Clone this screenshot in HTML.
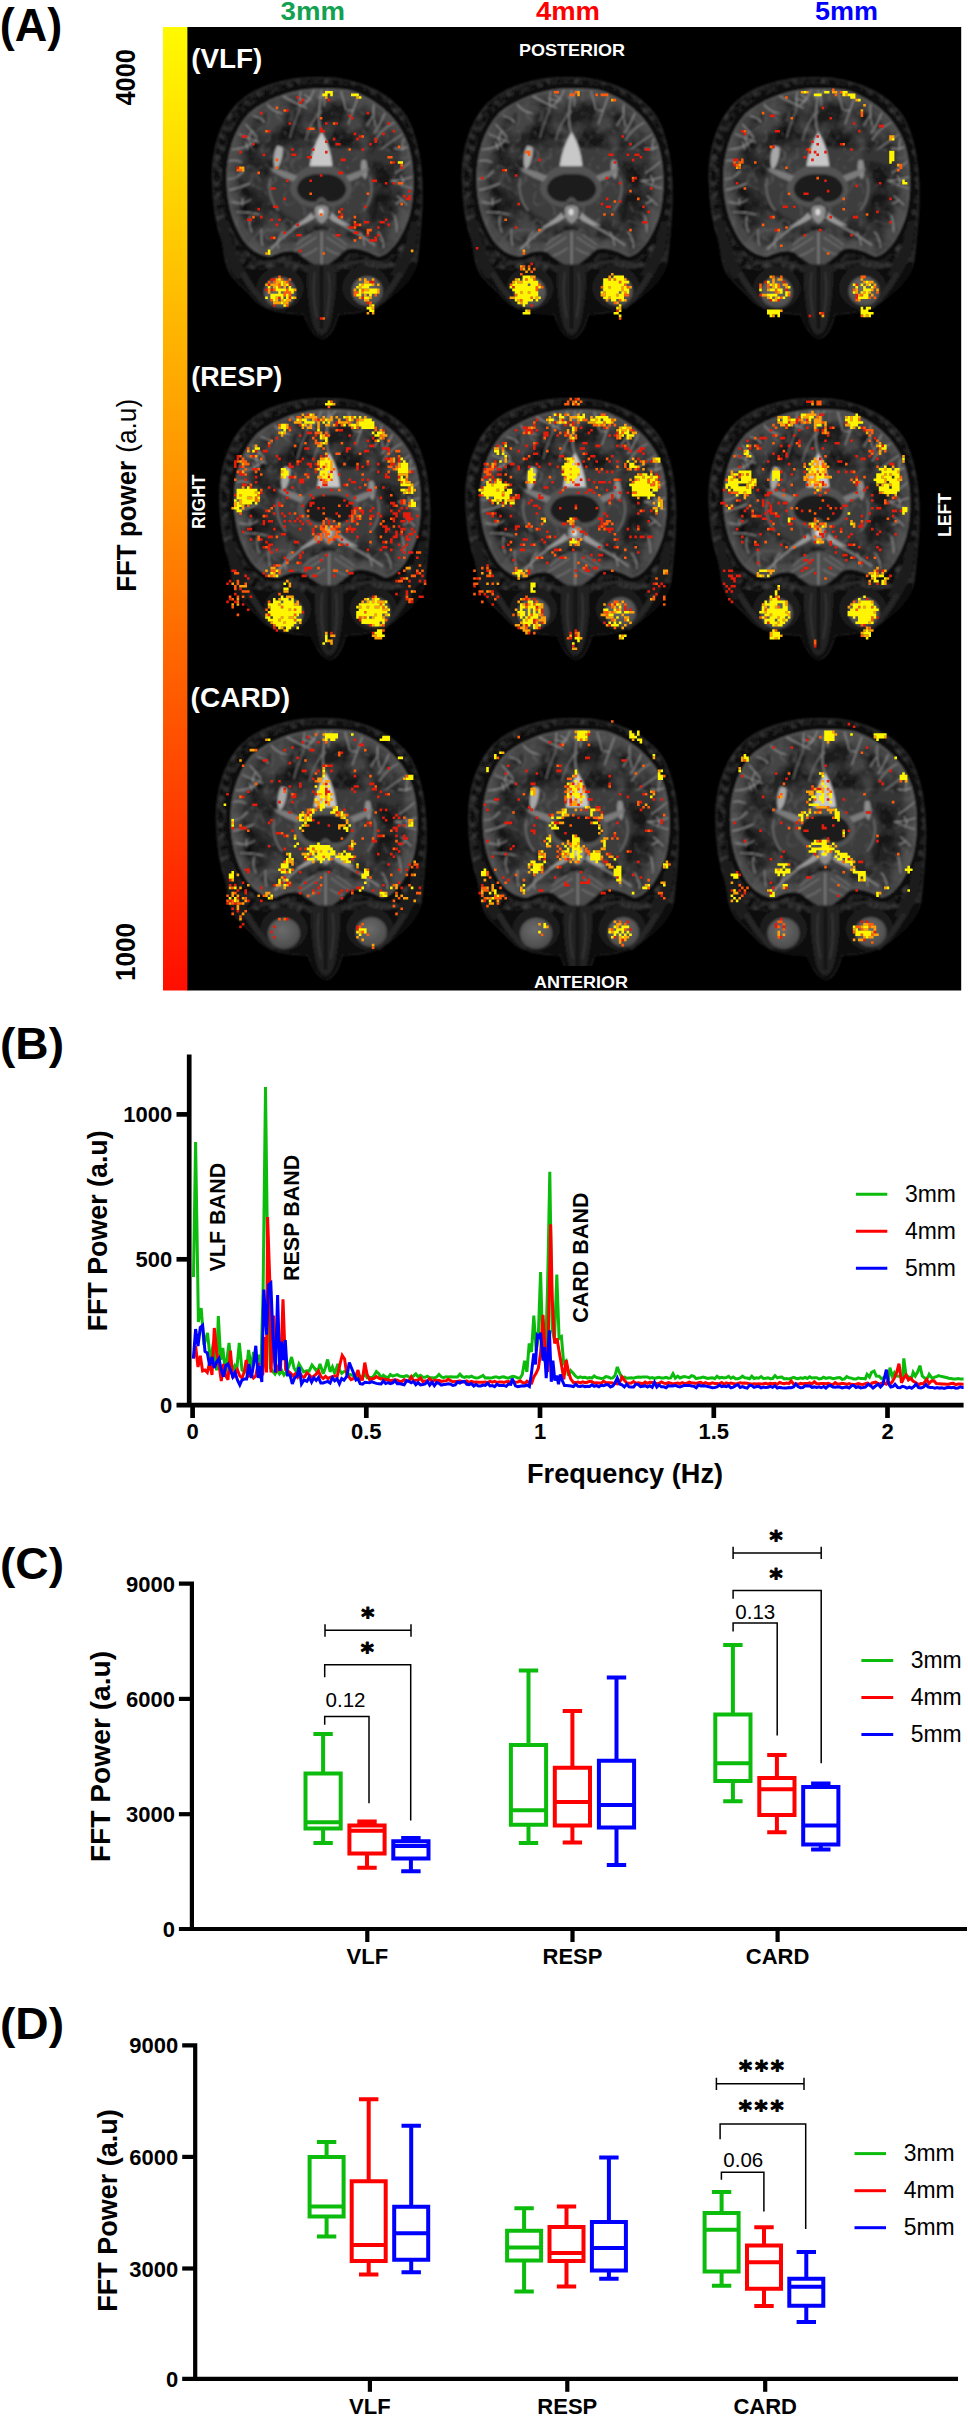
<!DOCTYPE html>
<html lang="en"><head><meta charset="utf-8"><title>Figure</title>
<style>
html,body{margin:0;padding:0;background:#fff}
svg{display:block}
text{font-family:"Liberation Sans",sans-serif}
</style></head><body>
<svg width="968" height="2416" viewBox="0 0 968 2416">
<defs><linearGradient id="cb" x1="0" y1="0" x2="0" y2="1"><stop offset="0" stop-color="#fffa00"/><stop offset="0.5" stop-color="#ff8c00"/><stop offset="1" stop-color="#ff0e00"/></linearGradient></defs>
<rect x="163" y="27" width="25" height="963.5" fill="url(#cb)"/>
<rect x="187.4" y="27" width="773.8" height="963.5" fill="#000"/>
<text x="280.6" y="20" font-size="25.5" font-weight="bold" fill="#12a150" textLength="64.3" lengthAdjust="spacingAndGlyphs">3mm</text>
<text x="536" y="20" font-size="25.5" font-weight="bold" fill="#ff0000" textLength="64" lengthAdjust="spacingAndGlyphs">4mm</text>
<text x="815" y="20" font-size="25.5" font-weight="bold" fill="#0000ff" textLength="63" lengthAdjust="spacingAndGlyphs">5mm</text>
<text x="-0.3" y="40.7" font-size="45.5" font-weight="bold" fill="#000" textLength="62.5" lengthAdjust="spacingAndGlyphs">(A)</text>
<text x="135.5" y="105.6" font-size="26.8" font-weight="bold" fill="#000" textLength="56.5" lengthAdjust="spacingAndGlyphs" transform="rotate(-90 135.5 105.6)">4000</text>
<text x="135.3" y="981" font-size="26.8" font-weight="bold" fill="#000" textLength="58" lengthAdjust="spacingAndGlyphs" transform="rotate(-90 135.3 981)">1000</text>
<text x="135.9" y="591.8" font-size="26.8" transform="rotate(-90 135.9 591.8)"><tspan font-weight="bold" textLength="131" lengthAdjust="spacingAndGlyphs">FFT power</tspan> <tspan dx="0.5" textLength="54" lengthAdjust="spacingAndGlyphs">(a.u)</tspan></text>
<defs>
<filter id="bl" x="-5%" y="-5%" width="110%" height="110%"><feGaussianBlur stdDeviation="3.2"/></filter>
<filter id="bl2" x="-20%" y="-20%" width="140%" height="140%"><feGaussianBlur stdDeviation="7"/></filter>
<filter id="tx" x="0" y="0" width="100%" height="100%" color-interpolation-filters="sRGB"><feTurbulence type="turbulence" baseFrequency="0.017 0.015" numOctaves="2" seed="7" result="n"/><feColorMatrix in="n" type="matrix" values="0 0 0 0 0.62  0 0 0 0 0.62  0 0 0 0 0.62  -9 0 0 0 1.0" result="m"/><feComposite in="m" in2="SourceGraphic" operator="in"/></filter>
<filter id="tx2" x="0" y="0" width="100%" height="100%" color-interpolation-filters="sRGB"><feTurbulence type="fractalNoise" baseFrequency="0.012" numOctaves="3" seed="3" result="n"/><feColorMatrix in="n" type="matrix" values="0 0 0 0 0  0 0 0 0 0  0 0 0 0 0  1.7 0 0 0 -0.62" result="m"/><feComposite in="m" in2="SourceGraphic" operator="in"/></filter>
<filter id="gr" x="0" y="0" width="100%" height="100%" color-interpolation-filters="sRGB"><feTurbulence type="fractalNoise" baseFrequency="0.045" numOctaves="2" seed="11" result="n"/><feColorMatrix in="n" type="matrix" values="0 0 0 0 0.26  0 0 0 0 0.26  0 0 0 0 0.26  2.2 0 0 0 -0.85" result="m"/><feComposite in="m" in2="SourceGraphic" operator="in"/></filter>
<clipPath id="bc"><path d="M490 108C400 105 290 140 220 200C165 260 138 350 138 440C138 520 155 600 200 670C230 710 265 728 300 730C330 715 370 700 400 715C430 740 465 765 490 770C515 765 545 735 580 705C620 690 670 715 700 730C745 725 790 660 815 580C835 500 835 400 812 320C780 220 700 150 600 115C560 108 520 108 490 108Z"/></clipPath>
<radialGradient id="eyeg" cx="0.45" cy="0.4" r="0.6"><stop offset="0" stop-color="#6c6c6c"/><stop offset="1" stop-color="#4c4c4c"/></radialGradient>
<g id="brain">
<g filter="url(#bl)">
<path d="M490 66C380 62 250 90 175 165C110 235 82 340 84 440C85 540 100 620 122 680C128 720 130 760 150 795C175 830 205 850 235 885C270 925 340 945 425 945C440 990 465 1035 492 1035C520 1035 540 990 552 945C640 945 700 925 740 885C790 850 830 810 845 750C850 700 858 640 862 560C868 440 860 330 815 230C770 140 640 66 490 66Z" fill="#111" stroke="#2a2a2a" stroke-width="5"/>
<path d="M490 66C380 62 250 90 175 165C110 235 82 340 84 440C85 540 100 620 122 680C128 720 130 760 150 795C175 830 205 850 235 885C270 925 340 945 425 945C440 990 465 1035 492 1035C520 1035 540 990 552 945C640 945 700 925 740 885C790 850 830 810 845 750C850 700 858 640 862 560C868 440 860 330 815 230C770 140 640 66 490 66Z" fill="#fff" filter="url(#gr)"/>
<path d="M150 760C250 800 740 800 845 750C830 810 790 850 740 885C700 925 640 945 552 945C540 990 520 1035 492 1035C465 1035 440 990 425 945C340 945 270 925 235 885C205 850 175 830 150 795Z" fill="#0d0d0d"/>
<path d="M490 108C400 105 290 140 220 200C165 260 138 350 138 440C138 520 155 600 200 670C230 710 265 728 300 730C330 715 370 700 400 715C430 740 465 765 490 770C515 765 545 735 580 705C620 690 670 715 700 730C745 725 790 660 815 580C835 500 835 400 812 320C780 220 700 150 600 115C560 108 520 108 490 108Z" fill="#080808" stroke="#080808" stroke-width="40" stroke-linejoin="round"/>
<path d="M108 600C112 680 130 760 175 815L215 800C175 740 150 680 140 600Z" fill="#1c1c1c"/>
<path d="M850 600C846 680 828 760 785 815L745 800C785 740 812 680 822 600Z" fill="#1c1c1c"/>
<path d="M490 108C400 105 290 140 220 200C165 260 138 350 138 440C138 520 155 600 200 670C230 710 265 728 300 730C330 715 370 700 400 715C430 740 465 765 490 770C515 765 545 735 580 705C620 690 670 715 700 730C745 725 790 660 815 580C835 500 835 400 812 320C780 220 700 150 600 115C560 108 520 108 490 108Z" fill="#454545"/>
<g clip-path="url(#bc)">
<ellipse cx="265" cy="450" rx="75" ry="170" fill="#363636" filter="url(#bl2)"/>
<ellipse cx="715" cy="450" rx="75" ry="170" fill="#363636" filter="url(#bl2)"/>
<path d="M490 108C400 105 290 140 220 200C165 260 138 350 138 440C138 520 155 600 200 670C230 710 265 728 300 730C330 715 370 700 400 715C430 740 465 765 490 770C515 765 545 735 580 705C620 690 670 715 700 730C745 725 790 660 815 580C835 500 835 400 812 320C780 220 700 150 600 115C560 108 520 108 490 108Z" fill="#000" filter="url(#tx2)"/>
<path d="M490 108C400 105 290 140 220 200C165 260 138 350 138 440C138 520 155 600 200 670C230 710 265 728 300 730C330 715 370 700 400 715C430 740 465 765 490 770C515 765 545 735 580 705C620 690 670 715 700 730C745 725 790 660 815 580C835 500 835 400 812 320C780 220 700 150 600 115C560 108 520 108 490 108Z" fill="#fff" filter="url(#tx)" opacity="0.32"/>
<path d="M490 108C400 105 290 140 220 200C165 260 138 350 138 440C138 520 155 600 200 670C230 710 265 728 300 730C330 715 370 700 400 715C430 740 465 765 490 770C515 765 545 735 580 705C620 690 670 715 700 730C745 725 790 660 815 580C835 500 835 400 812 320C780 220 700 150 600 115C560 108 520 108 490 108Z" fill="none" stroke="#5c5c5c" stroke-width="70" opacity="0.55" filter="url(#bl2)"/>
<path d="M172 566Q217 565 257 575M157 529Q195 540 226 520M195 540l-0 -23M145 484Q183 478 223 459M140 443Q175 446 198 412M145 377Q169 367 193 381M156 333Q215 332 249 293M215 332l-7 -27M182 276Q218 292 256 305M218 292l10 30M207 239Q229 263 248 287M229 263l-12 32M235 208Q264 214 278 232M288 166Q311 194 343 198M346 135Q390 160 434 179M412 115Q406 144 410 177M406 144l37 10M463 109Q450 147 421 169M450 147l-25 -19M518 109Q498 130 477 141M498 130l2 40M562 116Q572 148 580 183M626 136Q607 188 590 237M607 188l-23 -2M684 167Q680 210 691 247M680 210l-21 34M725 199Q710 238 687 271M758 234Q719 253 691 297M789 278Q749 303 714 331M810 323Q790 336 761 328M790 336l4 -44M825 375Q797 401 764 421M830 434Q792 449 748 450M792 449l-7 -19M826 478Q788 470 757 452M788 470l8 -23M809 540Q791 522 771 506M791 522l-23 12M230 640q-15 -30 -5 -60M270 690q-7 -30 -4 -60M330 700q-12 -30 17 -60M650 690q-4 -30 -23 -60M720 700q3 -30 -20 -60M770 640q1 -30 -8 -60" fill="none" stroke="#989898" stroke-width="3.8" stroke-linecap="round"/>
<path d="M490 108C400 105 290 140 220 200C165 260 138 350 138 440C138 520 155 600 200 670C230 710 265 728 300 730C330 715 370 700 400 715C430 740 465 765 490 770C515 765 545 735 580 705C620 690 670 715 700 730C745 725 790 660 815 580C835 500 835 400 812 320C780 220 700 150 600 115C560 108 520 108 490 108Z" fill="none" stroke="#6a6a6a" stroke-width="7"/>
<path d="M490 112C485 170 470 220 490 275" stroke="#8c8c8c" stroke-width="5" fill="none"/>
<path d="M490 190C460 215 440 260 430 300M410 180C395 215 380 250 372 290" stroke="#7a7a7a" stroke-width="4" fill="none"/>
<ellipse cx="490" cy="470" rx="200" ry="150" fill="#3e3e3e" filter="url(#bl2)"/>
<ellipse cx="490" cy="470" rx="210" ry="160" fill="#fff" filter="url(#tx)" opacity="0.3"/>
<path d="M490 268C470 300 452 345 446 395C462 412 520 412 530 395C526 345 510 300 490 268Z" fill="#c8c8c8"/>
<path d="M325 318C312 340 306 380 318 408C335 400 348 360 345 325Z" fill="#a8a8a8"/>
<path d="M640 372C632 395 636 430 652 445C664 425 662 390 654 372Z" fill="#8e8e8e"/>
<path d="M446 395C400 410 375 440 372 480C378 520 420 545 460 548C480 520 500 520 520 548C560 545 600 520 604 480C600 440 575 410 530 395Z" fill="#525252"/>
<path d="M372 440C340 430 318 420 305 410M604 440C630 425 648 415 660 405" stroke="#6a6a6a" stroke-width="8" fill="none"/>
<path d="M490 425C440 420 400 445 398 482C402 515 440 532 470 528C480 505 500 505 510 528C545 532 578 515 582 482C580 445 540 420 490 425Z" fill="#1c1c1c"/>
<path d="M466 548C476 538 504 538 514 548C520 575 510 598 490 610C470 598 460 575 466 548Z" fill="#8c8c8c"/>
<ellipse cx="488" cy="566" rx="9" ry="12" fill="#dcdcdc"/>
<path d="M470 580C420 600 360 640 300 705M510 585C560 610 620 640 690 690" stroke="#8e8e8e" stroke-width="6" fill="none"/>
<path d="M515 590C560 600 600 610 640 640" stroke="#111" stroke-width="6" fill="none"/>
<path d="M452 568C430 592 405 608 380 624C405 622 435 606 464 588ZM528 568C548 590 572 604 600 616C572 620 548 608 518 590Z" fill="#9a9a9a"/>
<path d="M400 432C370 420 335 405 300 402C320 425 350 440 385 452ZM580 432C610 418 640 408 668 402C655 425 625 442 594 452Z" fill="#7c7c7c"/>
<path d="M300 440C290 480 300 530 330 560M670 440C684 480 672 530 645 560" stroke="#6e6e6e" stroke-width="6" fill="none"/>
<path d="M490 630C440 640 380 690 360 715C420 740 465 765 490 770C515 765 545 735 600 712C580 680 540 640 490 630Z" fill="#4e4e4e"/>
<path d="M490 640V760" stroke="#8a8a8a" stroke-width="5"/>
<path d="M470 660C440 680 410 700 385 712M475 700C455 715 430 728 410 732M510 660C540 680 565 700 590 708M505 700C525 715 548 724 570 726M450 650C430 660 410 675 395 690M530 650C550 662 570 676 585 690" stroke="#787878" stroke-width="4" fill="none"/>
</g>
<ellipse cx="335" cy="850" rx="88" ry="80" fill="#1a1a1a"/>
<ellipse cx="655" cy="848" rx="88" ry="80" fill="#1a1a1a"/>
<path d="M440 760C430 820 440 900 452 960C468 1045 512 1045 528 960C540 900 550 820 540 760Z" fill="#222"/>
<path d="M490 770V1000" stroke="#101010" stroke-width="10"/>
<path d="M465 790C455 850 462 910 472 960M515 790C525 850 518 910 508 960" stroke="#3a3a3a" stroke-width="6" fill="none"/>
<path d="M200 800C230 850 250 880 290 915M780 800C750 850 730 880 690 915" stroke="#262626" stroke-width="22" fill="none" stroke-linecap="round"/>
<path d="M250 760C300 745 370 742 430 775M730 760C680 745 610 742 550 775" stroke="#2e2e2e" stroke-width="9" fill="none"/>
<ellipse cx="335" cy="865" rx="60" ry="57" fill="url(#eyeg)"/>
<ellipse cx="660" cy="860" rx="58" ry="55" fill="url(#eyeg)"/>
</g>
</g>
</defs>
<defs><filter id="hb" x="-2%" y="-2%" width="104%" height="104%"><feGaussianBlur stdDeviation="0.6"/></filter></defs>
<clipPath id="pc"><rect x="187.4" y="27" width="773.8" height="963.5"/></clipPath>
<g clip-path="url(#pc)">
<use href="#brain" transform="translate(190.0 60) scale(0.2686)"/>
<g filter="url(#hb)"><path fill="#e41c0a" d="M296.4 96.2h2.6v2.6h-2.6zM301.6 98.8h2.6v2.6h-2.6zM327.6 98.8h2.6v2.6h-2.6zM299 101.4h2.6v2.6h-2.6zM286 109.2h2.6v2.6h-2.6zM260 111.8h2.6v2.6h-2.6zM366.6 111.8h2.6v2.6h-2.6zM348.4 114.4h2.6v2.6h-2.6zM351 117h2.6v2.6h-2.6zM288.6 122.2h2.6v2.6h-2.6zM325 122.2h2.6v2.6h-2.6zM335.4 122.2h2.6v2.6h-2.6zM387.4 122.2h2.6v2.6h-2.6zM306.8 127.4h2.6v2.6h-2.6zM319.8 127.4h2.6v2.6h-2.6zM267.8 130h2.6v2.6h-2.6zM319.8 130h5.2v2.6h-5.2zM392.6 130h2.6v2.6h-2.6zM353.6 132.6h2.6v2.6h-2.6zM382.2 132.6h2.6v2.6h-2.6zM241.8 135.2h5.2v2.6h-5.2zM358.8 135.2h2.6v2.6h-2.6zM332.8 137.8h2.6v2.6h-2.6zM356.2 137.8h2.6v2.6h-2.6zM374.4 137.8h2.6v2.6h-2.6zM325 140.4h2.6v2.6h-2.6zM374.4 140.4h2.6v2.6h-2.6zM252.2 143h2.6v2.6h-2.6zM335.4 143h5.2v2.6h-5.2zM369.2 143h2.6v2.6h-2.6zM291.2 148.2h2.6v2.6h-2.6zM312 148.2h2.6v2.6h-2.6zM361.4 148.2h2.6v2.6h-2.6zM239.2 150.8h2.6v2.6h-2.6zM325 150.8h2.6v2.6h-2.6zM262.6 153.4h2.6v2.6h-2.6zM291.2 153.4h5.2v2.6h-5.2zM306.8 156h5.2v2.6h-5.2zM340.6 158.6h5.2v2.6h-5.2zM392.6 161.2h2.6v2.6h-2.6zM236.6 166.4h2.6v2.6h-2.6zM400.4 166.4h2.6v2.6h-2.6zM338 171.6h5.2v2.6h-5.2zM319.8 174.2h2.6v2.6h-2.6zM286 179.4h2.6v2.6h-2.6zM309.4 179.4h2.6v2.6h-2.6zM371.8 179.4h5.2v2.6h-5.2zM384.8 182h2.6v2.6h-2.6zM392.6 182h2.6v2.6h-2.6zM270.4 187.2h5.2v2.6h-5.2zM408.2 189.8h2.6v2.6h-2.6zM403 195h2.6v2.6h-2.6zM408.2 195h2.6v2.6h-2.6zM283.4 197.6h2.6v2.6h-2.6zM405.6 197.6h5.2v2.6h-5.2zM273 205.4h5.2v2.6h-5.2zM364 205.4h2.6v2.6h-2.6zM257.4 208h2.6v2.6h-2.6zM340.6 208h2.6v2.6h-2.6zM340.6 213.2h2.6v2.6h-2.6zM260 215.8h2.6v2.6h-2.6zM338 215.8h2.6v2.6h-2.6zM247 218.4h5.2v2.6h-5.2zM270.4 218.4h2.6v2.6h-2.6zM278.2 218.4h2.6v2.6h-2.6zM384.8 218.4h2.6v2.6h-2.6zM364 221h5.2v2.6h-5.2zM379.6 221h5.2v2.6h-5.2zM275.6 223.6h2.6v2.6h-2.6zM296.4 223.6h2.6v2.6h-2.6zM353.6 223.6h5.2v2.6h-5.2zM387.4 223.6h2.6v2.6h-2.6zM348.4 226.2h5.2v2.6h-5.2zM377 226.2h2.6v2.6h-2.6zM283.4 231.4h2.6v2.6h-2.6zM353.6 231.4h5.2v2.6h-5.2zM296.4 234h5.2v2.6h-5.2zM335.4 234h5.2v2.6h-5.2zM366.6 234h2.6v2.6h-2.6zM377 234h2.6v2.6h-2.6zM270.4 236.6h2.6v2.6h-2.6zM374.4 236.6h2.6v2.6h-2.6zM369.2 239.2h7.8v2.6h-7.8zM299 249.6h2.6v2.6h-2.6zM270.4 278.2h5.2v2.6h-5.2zM369.2 280.8h5.2v2.6h-5.2zM267.8 283.4h2.6v2.6h-2.6zM288.6 283.4h2.6v2.6h-2.6zM265.2 288.6h2.6v2.6h-2.6zM270.4 288.6h2.6v2.6h-2.6zM278.2 296.4h2.6v2.6h-2.6zM288.6 296.4h2.6v2.6h-2.6zM361.4 296.4h2.6v2.6h-2.6zM366.6 301.6h2.6v2.6h-2.6zM273 304.2h2.6v2.6h-2.6zM319.8 317.2h2.6v2.6h-2.6z"/>
<path fill="#ff5a08" d="M275.6 106.6h2.6v2.6h-2.6zM283.4 109.2h2.6v2.6h-2.6zM319.8 117h2.6v2.6h-2.6zM332.8 122.2h2.6v2.6h-2.6zM309.4 127.4h5.2v2.6h-5.2zM265.2 130h2.6v2.6h-2.6zM361.4 135.2h2.6v2.6h-2.6zM397.8 145.6h2.6v2.6h-2.6zM348.4 148.2h2.6v2.6h-2.6zM387.4 156h5.2v2.6h-5.2zM275.6 158.6h2.6v2.6h-2.6zM390 161.2h2.6v2.6h-2.6zM400.4 163.8h2.6v2.6h-2.6zM275.6 166.4h2.6v2.6h-2.6zM236.6 169h5.2v2.6h-5.2zM257.4 171.6h2.6v2.6h-2.6zM397.8 182h5.2v2.6h-5.2zM309.4 192.4h2.6v2.6h-2.6zM366.6 192.4h2.6v2.6h-2.6zM400.4 202.8h2.6v2.6h-2.6zM338 210.6h2.6v2.6h-2.6zM319.8 213.2h2.6v2.6h-2.6zM252.2 215.8h2.6v2.6h-2.6zM340.6 215.8h2.6v2.6h-2.6zM353.6 215.8h2.6v2.6h-2.6zM353.6 221h2.6v2.6h-2.6zM358.8 223.6h2.6v2.6h-2.6zM353.6 226.2h2.6v2.6h-2.6zM366.6 228.8h5.2v2.6h-5.2zM366.6 231.4h2.6v2.6h-2.6zM273 236.6h2.6v2.6h-2.6zM358.8 236.6h2.6v2.6h-2.6zM353.6 239.2h2.6v2.6h-2.6zM322.4 252.2h2.6v2.6h-2.6zM278.2 275.6h2.6v2.6h-2.6zM280.8 278.2h2.6v2.6h-2.6zM288.6 278.2h2.6v2.6h-2.6zM267.8 280.8h2.6v2.6h-2.6zM273 280.8h2.6v2.6h-2.6zM286 280.8h2.6v2.6h-2.6zM278.2 283.4h2.6v2.6h-2.6zM278.2 286h2.6v2.6h-2.6zM273 288.6h2.6v2.6h-2.6zM286 288.6h2.6v2.6h-2.6zM361.4 288.6h2.6v2.6h-2.6zM283.4 291.2h7.8v2.6h-7.8zM353.6 291.2h5.2v2.6h-5.2zM283.4 293.8h2.6v2.6h-2.6zM288.6 293.8h2.6v2.6h-2.6zM353.6 293.8h2.6v2.6h-2.6zM374.4 293.8h2.6v2.6h-2.6zM270.4 299h2.6v2.6h-2.6zM369.2 301.6h2.6v2.6h-2.6zM286 304.2h2.6v2.6h-2.6zM322.4 317.2h2.6v2.6h-2.6z"/>
<path fill="#ffa008" d="M325 96.2h2.6v2.6h-2.6zM356.2 96.2h2.6v2.6h-2.6zM239.2 166.4h5.2v2.6h-5.2zM241.8 169h2.6v2.6h-2.6zM410.8 249.6h2.6v2.6h-2.6zM265.2 252.2h2.6v2.6h-2.6zM275.6 278.2h2.6v2.6h-2.6zM358.8 278.2h2.6v2.6h-2.6zM364 278.2h2.6v2.6h-2.6zM371.8 278.2h2.6v2.6h-2.6zM275.6 280.8h5.2v2.6h-5.2zM283.4 280.8h2.6v2.6h-2.6zM364 280.8h5.2v2.6h-5.2zM265.2 283.4h2.6v2.6h-2.6zM270.4 283.4h7.8v2.6h-7.8zM283.4 283.4h2.6v2.6h-2.6zM361.4 283.4h2.6v2.6h-2.6zM371.8 283.4h2.6v2.6h-2.6zM377 283.4h2.6v2.6h-2.6zM273 286h2.6v2.6h-2.6zM283.4 286h2.6v2.6h-2.6zM358.8 286h2.6v2.6h-2.6zM267.8 288.6h2.6v2.6h-2.6zM293.8 288.6h2.6v2.6h-2.6zM353.6 288.6h2.6v2.6h-2.6zM364 288.6h5.2v2.6h-5.2zM377 288.6h2.6v2.6h-2.6zM267.8 291.2h2.6v2.6h-2.6zM361.4 291.2h2.6v2.6h-2.6zM377 291.2h2.6v2.6h-2.6zM364 293.8h2.6v2.6h-2.6zM275.6 296.4h2.6v2.6h-2.6zM293.8 296.4h2.6v2.6h-2.6zM358.8 296.4h2.6v2.6h-2.6zM369.2 296.4h2.6v2.6h-2.6zM275.6 299h2.6v2.6h-2.6zM280.8 299h2.6v2.6h-2.6zM286 299h5.2v2.6h-5.2zM364 299h5.2v2.6h-5.2zM273 301.6h7.8v2.6h-7.8zM283.4 301.6h5.2v2.6h-5.2zM369.2 304.2h2.6v2.6h-2.6zM371.8 306.8h2.6v2.6h-2.6zM366.6 312h2.6v2.6h-2.6zM371.8 312h2.6v2.6h-2.6z"/>
<path fill="#fff500" d="M325 91h7.8v2.6h-7.8zM322.4 93.6h5.2v2.6h-5.2zM330.2 93.6h2.6v2.6h-2.6zM351 93.6h7.8v2.6h-7.8zM358.8 96.2h2.6v2.6h-2.6zM397.8 161.2h5.2v2.6h-5.2zM267.8 249.6h2.6v2.6h-2.6zM267.8 252.2h2.6v2.6h-2.6zM278.2 278.2h2.6v2.6h-2.6zM280.8 280.8h2.6v2.6h-2.6zM280.8 283.4h2.6v2.6h-2.6zM286 283.4h2.6v2.6h-2.6zM358.8 283.4h2.6v2.6h-2.6zM364 283.4h7.8v2.6h-7.8zM267.8 286h2.6v2.6h-2.6zM275.6 286h2.6v2.6h-2.6zM288.6 286h2.6v2.6h-2.6zM356.2 286h2.6v2.6h-2.6zM361.4 286h7.8v2.6h-7.8zM275.6 288.6h10.4v2.6h-10.4zM288.6 288.6h5.2v2.6h-5.2zM358.8 288.6h2.6v2.6h-2.6zM369.2 288.6h7.8v2.6h-7.8zM278.2 291.2h2.6v2.6h-2.6zM291.2 291.2h2.6v2.6h-2.6zM358.8 291.2h2.6v2.6h-2.6zM364 291.2h13v2.6h-13zM270.4 293.8h13v2.6h-13zM286 293.8h2.6v2.6h-2.6zM356.2 293.8h5.2v2.6h-5.2zM369.2 293.8h2.6v2.6h-2.6zM265.2 296.4h2.6v2.6h-2.6zM270.4 296.4h5.2v2.6h-5.2zM280.8 296.4h2.6v2.6h-2.6zM286 296.4h2.6v2.6h-2.6zM291.2 296.4h2.6v2.6h-2.6zM364 296.4h5.2v2.6h-5.2zM273 299h2.6v2.6h-2.6zM283.4 299h2.6v2.6h-2.6zM280.8 301.6h2.6v2.6h-2.6zM283.4 304.2h2.6v2.6h-2.6zM371.8 304.2h2.6v2.6h-2.6zM366.6 306.8h5.2v2.6h-5.2zM369.2 309.4h5.2v2.6h-5.2z"/></g>
<use href="#brain" transform="translate(440.0 60) scale(0.2686)"/>
<g filter="url(#hb)"><path fill="#e41c0a" d="M621.4 135.2h2.6v2.6h-2.6zM629.2 143h2.6v2.6h-2.6zM644.8 148.2h5.2v2.6h-5.2zM608.4 153.4h5.2v2.6h-5.2zM626.6 153.4h2.6v2.6h-2.6zM634.4 153.4h5.2v2.6h-5.2zM639.6 156h2.6v2.6h-2.6zM538.2 158.6h2.6v2.6h-2.6zM631.8 158.6h2.6v2.6h-2.6zM613.6 161.2h2.6v2.6h-2.6zM501.8 169h2.6v2.6h-2.6zM514.8 174.2h2.6v2.6h-2.6zM481 176.8h2.6v2.6h-2.6zM605.8 176.8h2.6v2.6h-2.6zM634.4 176.8h2.6v2.6h-2.6zM631.8 179.4h2.6v2.6h-2.6zM618.8 182h2.6v2.6h-2.6zM650 187.2h2.6v2.6h-2.6zM605.8 197.6h2.6v2.6h-2.6zM618.8 200.2h2.6v2.6h-2.6zM517.4 202.8h2.6v2.6h-2.6zM600.6 202.8h2.6v2.6h-2.6zM605.8 205.4h5.2v2.6h-5.2zM642.2 205.4h2.6v2.6h-2.6zM647.4 210.6h2.6v2.6h-2.6zM642.2 221h5.2v2.6h-5.2zM514.8 226.2h2.6v2.6h-2.6zM475.8 247h2.6v2.6h-2.6zM530.4 262.6h2.6v2.6h-2.6zM512.2 286h2.6v2.6h-2.6zM530.4 304.2h2.6v2.6h-2.6zM616.2 309.4h2.6v2.6h-2.6z"/>
<path fill="#ff5a08" d="M553.8 91h5.2v2.6h-5.2zM574.6 91h2.6v2.6h-2.6zM569.4 93.6h5.2v2.6h-5.2zM595.4 93.6h2.6v2.6h-2.6zM600.6 93.6h7.8v2.6h-7.8zM613.6 98.8h2.6v2.6h-2.6zM525.2 150.8h5.2v2.6h-5.2zM527.8 153.4h2.6v2.6h-2.6zM504.4 169h2.6v2.6h-2.6zM631.8 176.8h2.6v2.6h-2.6zM629.2 189.8h2.6v2.6h-2.6zM637 197.6h2.6v2.6h-2.6zM613.6 200.2h2.6v2.6h-2.6zM603.2 213.2h2.6v2.6h-2.6zM611 213.2h2.6v2.6h-2.6zM504.4 218.4h2.6v2.6h-2.6zM538.2 228.8h2.6v2.6h-2.6zM629.2 228.8h2.6v2.6h-2.6zM522.6 252.2h2.6v2.6h-2.6zM522.6 265.2h2.6v2.6h-2.6zM527.8 265.2h2.6v2.6h-2.6zM520 267.8h2.6v2.6h-2.6zM533 267.8h2.6v2.6h-2.6zM530.4 270.4h2.6v2.6h-2.6zM520 273h2.6v2.6h-2.6zM525.2 278.2h2.6v2.6h-2.6zM533 278.2h2.6v2.6h-2.6zM608.4 278.2h2.6v2.6h-2.6zM613.6 278.2h2.6v2.6h-2.6zM618.8 280.8h2.6v2.6h-2.6zM509.6 283.4h2.6v2.6h-2.6zM538.2 283.4h2.6v2.6h-2.6zM624 283.4h2.6v2.6h-2.6zM535.6 286h2.6v2.6h-2.6zM540.8 286h2.6v2.6h-2.6zM600.6 286h2.6v2.6h-2.6zM626.6 286h2.6v2.6h-2.6zM535.6 288.6h2.6v2.6h-2.6zM514.8 293.8h2.6v2.6h-2.6zM624 293.8h5.2v2.6h-5.2zM530.4 296.4h2.6v2.6h-2.6zM520 299h2.6v2.6h-2.6zM618.8 299h2.6v2.6h-2.6zM613.6 301.6h2.6v2.6h-2.6zM618.8 317.2h2.6v2.6h-2.6z"/>
<path fill="#ffa008" d="M577.2 91h2.6v2.6h-2.6zM577.2 93.6h2.6v2.6h-2.6zM611 98.8h2.6v2.6h-2.6zM522.6 249.6h2.6v2.6h-2.6zM520 265.2h2.6v2.6h-2.6zM522.6 267.8h2.6v2.6h-2.6zM527.8 267.8h2.6v2.6h-2.6zM525.2 270.4h2.6v2.6h-2.6zM611 273h2.6v2.6h-2.6zM530.4 275.6h5.2v2.6h-5.2zM608.4 275.6h2.6v2.6h-2.6zM514.8 278.2h2.6v2.6h-2.6zM624 278.2h2.6v2.6h-2.6zM512.2 280.8h2.6v2.6h-2.6zM517.4 280.8h5.2v2.6h-5.2zM608.4 286h2.6v2.6h-2.6zM621.4 286h2.6v2.6h-2.6zM629.2 286h2.6v2.6h-2.6zM621.4 288.6h2.6v2.6h-2.6zM520 291.2h2.6v2.6h-2.6zM527.8 291.2h2.6v2.6h-2.6zM603.2 291.2h2.6v2.6h-2.6zM624 291.2h2.6v2.6h-2.6zM600.6 293.8h5.2v2.6h-5.2zM616.2 293.8h2.6v2.6h-2.6zM509.6 296.4h5.2v2.6h-5.2zM535.6 296.4h2.6v2.6h-2.6zM608.4 296.4h2.6v2.6h-2.6zM517.4 299h2.6v2.6h-2.6zM605.8 299h2.6v2.6h-2.6zM624 299h2.6v2.6h-2.6zM520 301.6h2.6v2.6h-2.6zM616.2 301.6h2.6v2.6h-2.6zM618.8 306.8h2.6v2.6h-2.6zM527.8 309.4h2.6v2.6h-2.6z"/>
<path fill="#fff500" d="M522.6 275.6h7.8v2.6h-7.8zM613.6 275.6h10.4v2.6h-10.4zM517.4 278.2h2.6v2.6h-2.6zM522.6 278.2h2.6v2.6h-2.6zM527.8 278.2h5.2v2.6h-5.2zM603.2 278.2h5.2v2.6h-5.2zM611 278.2h2.6v2.6h-2.6zM616.2 278.2h7.8v2.6h-7.8zM514.8 280.8h2.6v2.6h-2.6zM522.6 280.8h15.6v2.6h-15.6zM603.2 280.8h15.6v2.6h-15.6zM621.4 280.8h7.8v2.6h-7.8zM512.2 283.4h15.6v2.6h-15.6zM530.4 283.4h7.8v2.6h-7.8zM603.2 283.4h20.8v2.6h-20.8zM509.6 286h2.6v2.6h-2.6zM514.8 286h20.8v2.6h-20.8zM538.2 286h2.6v2.6h-2.6zM603.2 286h5.2v2.6h-5.2zM611 286h10.4v2.6h-10.4zM624 286h2.6v2.6h-2.6zM512.2 288.6h23.4v2.6h-23.4zM603.2 288.6h18.2v2.6h-18.2zM624 288.6h5.2v2.6h-5.2zM514.8 291.2h5.2v2.6h-5.2zM522.6 291.2h5.2v2.6h-5.2zM530.4 291.2h7.8v2.6h-7.8zM600.6 291.2h2.6v2.6h-2.6zM605.8 291.2h13v2.6h-13zM621.4 291.2h2.6v2.6h-2.6zM626.6 291.2h2.6v2.6h-2.6zM517.4 293.8h20.8v2.6h-20.8zM605.8 293.8h10.4v2.6h-10.4zM618.8 293.8h5.2v2.6h-5.2zM514.8 296.4h15.6v2.6h-15.6zM533 296.4h2.6v2.6h-2.6zM538.2 296.4h2.6v2.6h-2.6zM603.2 296.4h5.2v2.6h-5.2zM611 296.4h13v2.6h-13zM514.8 299h2.6v2.6h-2.6zM522.6 299h10.4v2.6h-10.4zM535.6 299h2.6v2.6h-2.6zM611 299h5.2v2.6h-5.2zM621.4 299h2.6v2.6h-2.6zM517.4 301.6h2.6v2.6h-2.6zM522.6 301.6h5.2v2.6h-5.2zM522.6 304.2h2.6v2.6h-2.6zM618.8 304.2h2.6v2.6h-2.6zM616.2 306.8h2.6v2.6h-2.6zM525.2 309.4h2.6v2.6h-2.6zM618.8 309.4h2.6v2.6h-2.6zM522.6 312h7.8v2.6h-7.8zM613.6 312h5.2v2.6h-5.2zM618.8 314.6h2.6v2.6h-2.6z"/></g>
<use href="#brain" transform="translate(686.8 60) scale(0.2686)"/>
<g filter="url(#hb)"><path fill="#e41c0a" d="M821.6 106.6h2.6v2.6h-2.6zM769.6 114.4h5.2v2.6h-5.2zM829.4 117h2.6v2.6h-2.6zM852.8 122.2h2.6v2.6h-2.6zM878.8 124.8h5.2v2.6h-5.2zM741 130h2.6v2.6h-2.6zM774.8 130h5.2v2.6h-5.2zM858 130h2.6v2.6h-2.6zM743.6 132.6h2.6v2.6h-2.6zM816.4 135.2h2.6v2.6h-2.6zM811.2 140.4h2.6v2.6h-2.6zM816.4 143h2.6v2.6h-2.6zM839.8 143h2.6v2.6h-2.6zM772.2 145.6h2.6v2.6h-2.6zM806 148.2h2.6v2.6h-2.6zM850.2 148.2h2.6v2.6h-2.6zM808.6 150.8h2.6v2.6h-2.6zM813.8 150.8h2.6v2.6h-2.6zM824.2 150.8h2.6v2.6h-2.6zM816.4 153.4h2.6v2.6h-2.6zM803.4 156h2.6v2.6h-2.6zM733.2 158.6h5.2v2.6h-5.2zM811.2 158.6h2.6v2.6h-2.6zM733.2 163.8h2.6v2.6h-2.6zM824.2 179.4h2.6v2.6h-2.6zM735.8 182h2.6v2.6h-2.6zM878.8 182h2.6v2.6h-2.6zM855.4 184.6h2.6v2.6h-2.6zM826.8 189.8h2.6v2.6h-2.6zM803.4 192.4h5.2v2.6h-5.2zM889.2 197.6h2.6v2.6h-2.6zM782.6 205.4h5.2v2.6h-5.2zM793 205.4h2.6v2.6h-2.6zM876.2 210.6h2.6v2.6h-2.6zM769.6 215.8h2.6v2.6h-2.6zM829.4 215.8h2.6v2.6h-2.6zM852.8 215.8h5.2v2.6h-5.2zM889.2 221h2.6v2.6h-2.6zM774.8 228.8h2.6v2.6h-2.6zM819 228.8h2.6v2.6h-2.6zM803.4 234h2.6v2.6h-2.6zM850.2 234h2.6v2.6h-2.6zM764.4 280.8h2.6v2.6h-2.6zM782.6 280.8h2.6v2.6h-2.6zM855.4 283.4h2.6v2.6h-2.6zM785.2 288.6h2.6v2.6h-2.6zM759.2 293.8h2.6v2.6h-2.6zM855.4 293.8h2.6v2.6h-2.6zM855.4 296.4h2.6v2.6h-2.6zM769.6 299h2.6v2.6h-2.6zM777.4 299h2.6v2.6h-2.6zM821.6 312h2.6v2.6h-2.6zM808.6 314.6h2.6v2.6h-2.6z"/>
<path fill="#ff5a08" d="M832 88.4h2.6v2.6h-2.6zM839.8 91h2.6v2.6h-2.6zM834.6 93.6h2.6v2.6h-2.6zM785.2 96.2h2.6v2.6h-2.6zM761.8 111.8h2.6v2.6h-2.6zM860.6 111.8h2.6v2.6h-2.6zM860.6 114.4h2.6v2.6h-2.6zM790.4 117h2.6v2.6h-2.6zM743.6 130h2.6v2.6h-2.6zM842.4 143h2.6v2.6h-2.6zM769.6 145.6h2.6v2.6h-2.6zM808.6 148.2h2.6v2.6h-2.6zM741 158.6h2.6v2.6h-2.6zM733.2 161.2h2.6v2.6h-2.6zM738.4 161.2h5.2v2.6h-5.2zM754 161.2h2.6v2.6h-2.6zM735.8 163.8h2.6v2.6h-2.6zM899.6 163.8h2.6v2.6h-2.6zM738.4 166.4h2.6v2.6h-2.6zM785.2 166.4h2.6v2.6h-2.6zM899.6 166.4h2.6v2.6h-2.6zM897 169h2.6v2.6h-2.6zM816.4 176.8h2.6v2.6h-2.6zM743.6 187.2h2.6v2.6h-2.6zM787.8 192.4h2.6v2.6h-2.6zM842.4 197.6h2.6v2.6h-2.6zM842.4 208h2.6v2.6h-2.6zM865.8 213.2h2.6v2.6h-2.6zM772.2 215.8h2.6v2.6h-2.6zM761.8 223.6h2.6v2.6h-2.6zM785.2 226.2h2.6v2.6h-2.6zM777.4 228.8h2.6v2.6h-2.6zM780 244.4h2.6v2.6h-2.6zM826.8 252.2h2.6v2.6h-2.6zM772.2 275.6h2.6v2.6h-2.6zM780 275.6h2.6v2.6h-2.6zM860.6 275.6h5.2v2.6h-5.2zM759.2 283.4h2.6v2.6h-2.6zM767 283.4h2.6v2.6h-2.6zM777.4 283.4h2.6v2.6h-2.6zM759.2 286h2.6v2.6h-2.6zM767 286h2.6v2.6h-2.6zM777.4 286h2.6v2.6h-2.6zM873.6 286h2.6v2.6h-2.6zM774.8 288.6h2.6v2.6h-2.6zM852.8 288.6h2.6v2.6h-2.6zM774.8 291.2h2.6v2.6h-2.6zM876.2 291.2h2.6v2.6h-2.6zM787.8 293.8h2.6v2.6h-2.6zM860.6 293.8h2.6v2.6h-2.6zM780 296.4h2.6v2.6h-2.6zM868.4 296.4h2.6v2.6h-2.6zM873.6 296.4h2.6v2.6h-2.6zM855.4 299h2.6v2.6h-2.6zM819 312h2.6v2.6h-2.6zM860.6 314.6h2.6v2.6h-2.6z"/>
<path fill="#ffa008" d="M800.8 91h2.6v2.6h-2.6zM806 91h2.6v2.6h-2.6zM832 91h5.2v2.6h-5.2zM845 93.6h2.6v2.6h-2.6zM855.4 98.8h2.6v2.6h-2.6zM863.2 104h2.6v2.6h-2.6zM860.6 109.2h2.6v2.6h-2.6zM889.2 135.2h5.2v2.6h-5.2zM889.2 137.8h2.6v2.6h-2.6zM738.4 163.8h2.6v2.6h-2.6zM897 163.8h2.6v2.6h-2.6zM735.8 166.4h2.6v2.6h-2.6zM769.6 275.6h2.6v2.6h-2.6zM772.2 278.2h2.6v2.6h-2.6zM777.4 278.2h5.2v2.6h-5.2zM860.6 278.2h2.6v2.6h-2.6zM772.2 280.8h2.6v2.6h-2.6zM863.2 280.8h2.6v2.6h-2.6zM868.4 280.8h5.2v2.6h-5.2zM772.2 283.4h2.6v2.6h-2.6zM782.6 283.4h5.2v2.6h-5.2zM865.8 283.4h2.6v2.6h-2.6zM873.6 283.4h2.6v2.6h-2.6zM772.2 286h2.6v2.6h-2.6zM785.2 286h2.6v2.6h-2.6zM767 288.6h2.6v2.6h-2.6zM855.4 288.6h2.6v2.6h-2.6zM871 288.6h2.6v2.6h-2.6zM876.2 288.6h2.6v2.6h-2.6zM777.4 291.2h2.6v2.6h-2.6zM787.8 291.2h2.6v2.6h-2.6zM855.4 291.2h2.6v2.6h-2.6zM863.2 291.2h2.6v2.6h-2.6zM868.4 291.2h2.6v2.6h-2.6zM761.8 293.8h5.2v2.6h-5.2zM858 293.8h2.6v2.6h-2.6zM871 293.8h2.6v2.6h-2.6zM767 296.4h2.6v2.6h-2.6zM774.8 296.4h2.6v2.6h-2.6zM774.8 299h2.6v2.6h-2.6zM858 299h2.6v2.6h-2.6zM780 309.4h2.6v2.6h-2.6zM772.2 314.6h2.6v2.6h-2.6zM821.6 314.6h2.6v2.6h-2.6zM865.8 314.6h2.6v2.6h-2.6z"/>
<path fill="#fff500" d="M803.4 91h2.6v2.6h-2.6zM824.2 91h5.2v2.6h-5.2zM842.4 91h5.2v2.6h-5.2zM813.8 93.6h7.8v2.6h-7.8zM842.4 93.6h2.6v2.6h-2.6zM847.6 93.6h7.8v2.6h-7.8zM850.2 96.2h5.2v2.6h-5.2zM858 98.8h2.6v2.6h-2.6zM891.8 137.8h2.6v2.6h-2.6zM889.2 150.8h5.2v2.6h-5.2zM889.2 153.4h5.2v2.6h-5.2zM889.2 156h5.2v2.6h-5.2zM889.2 158.6h5.2v2.6h-5.2zM889.2 161.2h2.6v2.6h-2.6zM902.2 179.4h2.6v2.6h-2.6zM902.2 182h5.2v2.6h-5.2zM767 280.8h2.6v2.6h-2.6zM865.8 280.8h2.6v2.6h-2.6zM769.6 283.4h2.6v2.6h-2.6zM774.8 283.4h2.6v2.6h-2.6zM852.8 283.4h2.6v2.6h-2.6zM860.6 283.4h2.6v2.6h-2.6zM868.4 283.4h2.6v2.6h-2.6zM774.8 286h2.6v2.6h-2.6zM787.8 286h2.6v2.6h-2.6zM855.4 286h2.6v2.6h-2.6zM863.2 286h2.6v2.6h-2.6zM871 286h2.6v2.6h-2.6zM759.2 288.6h2.6v2.6h-2.6zM769.6 288.6h5.2v2.6h-5.2zM777.4 288.6h5.2v2.6h-5.2zM863.2 288.6h7.8v2.6h-7.8zM780 291.2h2.6v2.6h-2.6zM785.2 291.2h2.6v2.6h-2.6zM852.8 291.2h2.6v2.6h-2.6zM860.6 291.2h2.6v2.6h-2.6zM865.8 291.2h2.6v2.6h-2.6zM767 293.8h10.4v2.6h-10.4zM785.2 293.8h2.6v2.6h-2.6zM863.2 293.8h5.2v2.6h-5.2zM769.6 296.4h2.6v2.6h-2.6zM777.4 296.4h2.6v2.6h-2.6zM782.6 296.4h2.6v2.6h-2.6zM858 296.4h10.4v2.6h-10.4zM772.2 299h2.6v2.6h-2.6zM860.6 306.8h2.6v2.6h-2.6zM865.8 306.8h5.2v2.6h-5.2zM767 309.4h13v2.6h-13zM860.6 309.4h7.8v2.6h-7.8zM767 312h13v2.6h-13zM860.6 312h13v2.6h-13zM769.6 314.6h2.6v2.6h-2.6zM777.4 314.6h2.6v2.6h-2.6zM863.2 314.6h2.6v2.6h-2.6zM868.4 314.6h2.6v2.6h-2.6z"/></g>
<use href="#brain" transform="translate(197.5 381) scale(0.2686)"/>
<g filter="url(#hb)"><path fill="#e41c0a" d="M306.8 413.4h2.6v2.6h-2.6zM317.2 418.6h2.6v2.6h-2.6zM335.4 421.2h2.6v2.6h-2.6zM299 423.8h2.6v2.6h-2.6zM335.4 423.8h2.6v2.6h-2.6zM288.6 426.4h2.6v2.6h-2.6zM338 429h5.2v2.6h-5.2zM382.2 429h2.6v2.6h-2.6zM306.8 431.6h5.2v2.6h-5.2zM299 434.2h2.6v2.6h-2.6zM314.6 434.2h2.6v2.6h-2.6zM325 434.2h2.6v2.6h-2.6zM348.4 434.2h2.6v2.6h-2.6zM275.6 436.8h2.6v2.6h-2.6zM371.8 436.8h2.6v2.6h-2.6zM366.6 439.4h2.6v2.6h-2.6zM353.6 442h2.6v2.6h-2.6zM267.8 444.6h2.6v2.6h-2.6zM369.2 444.6h5.2v2.6h-5.2zM304.2 447.2h5.2v2.6h-5.2zM345.8 447.2h5.2v2.6h-5.2zM382.2 447.2h7.8v2.6h-7.8zM254.8 449.8h2.6v2.6h-2.6zM262.6 449.8h5.2v2.6h-5.2zM345.8 449.8h2.6v2.6h-2.6zM364 449.8h5.2v2.6h-5.2zM387.4 449.8h2.6v2.6h-2.6zM236.6 455h2.6v2.6h-2.6zM252.2 455h2.6v2.6h-2.6zM275.6 455h2.6v2.6h-2.6zM319.8 455h2.6v2.6h-2.6zM325 455h2.6v2.6h-2.6zM236.6 457.6h2.6v2.6h-2.6zM278.2 457.6h2.6v2.6h-2.6zM301.6 457.6h2.6v2.6h-2.6zM312 457.6h2.6v2.6h-2.6zM384.8 457.6h5.2v2.6h-5.2zM397.8 457.6h2.6v2.6h-2.6zM234 460.2h2.6v2.6h-2.6zM299 460.2h2.6v2.6h-2.6zM397.8 460.2h2.6v2.6h-2.6zM234 462.8h2.6v2.6h-2.6zM288.6 462.8h2.6v2.6h-2.6zM296.4 462.8h2.6v2.6h-2.6zM306.8 462.8h5.2v2.6h-5.2zM314.6 462.8h2.6v2.6h-2.6zM366.6 462.8h2.6v2.6h-2.6zM377 462.8h2.6v2.6h-2.6zM390 462.8h5.2v2.6h-5.2zM234 465.4h2.6v2.6h-2.6zM239.2 465.4h2.6v2.6h-2.6zM288.6 465.4h5.2v2.6h-5.2zM309.4 465.4h2.6v2.6h-2.6zM317.2 465.4h2.6v2.6h-2.6zM322.4 465.4h2.6v2.6h-2.6zM356.2 465.4h2.6v2.6h-2.6zM361.4 465.4h2.6v2.6h-2.6zM252.2 468h5.2v2.6h-5.2zM356.2 468h2.6v2.6h-2.6zM239.2 470.6h2.6v2.6h-2.6zM314.6 470.6h2.6v2.6h-2.6zM330.2 470.6h2.6v2.6h-2.6zM377 470.6h2.6v2.6h-2.6zM410.8 470.6h2.6v2.6h-2.6zM239.2 473.2h5.2v2.6h-5.2zM306.8 473.2h2.6v2.6h-2.6zM338 473.2h2.6v2.6h-2.6zM384.8 473.2h2.6v2.6h-2.6zM254.8 475.8h2.6v2.6h-2.6zM288.6 475.8h5.2v2.6h-5.2zM327.6 475.8h2.6v2.6h-2.6zM384.8 475.8h5.2v2.6h-5.2zM397.8 475.8h2.6v2.6h-2.6zM244.4 478.4h2.6v2.6h-2.6zM299 478.4h5.2v2.6h-5.2zM319.8 478.4h2.6v2.6h-2.6zM348.4 478.4h2.6v2.6h-2.6zM361.4 478.4h2.6v2.6h-2.6zM366.6 478.4h2.6v2.6h-2.6zM254.8 481h2.6v2.6h-2.6zM299 481h5.2v2.6h-5.2zM351 481h5.2v2.6h-5.2zM241.8 483.6h5.2v2.6h-5.2zM322.4 483.6h5.2v2.6h-5.2zM343.2 483.6h2.6v2.6h-2.6zM249.6 486.2h2.6v2.6h-2.6zM267.8 486.2h2.6v2.6h-2.6zM291.2 486.2h2.6v2.6h-2.6zM317.2 486.2h2.6v2.6h-2.6zM358.8 486.2h2.6v2.6h-2.6zM382.2 486.2h2.6v2.6h-2.6zM273 488.8h2.6v2.6h-2.6zM283.4 488.8h2.6v2.6h-2.6zM330.2 488.8h2.6v2.6h-2.6zM366.6 488.8h5.2v2.6h-5.2zM260 491.4h2.6v2.6h-2.6zM286 491.4h2.6v2.6h-2.6zM234 494h2.6v2.6h-2.6zM309.4 494h2.6v2.6h-2.6zM322.4 494h2.6v2.6h-2.6zM345.8 494h2.6v2.6h-2.6zM286 496.6h2.6v2.6h-2.6zM312 496.6h2.6v2.6h-2.6zM353.6 496.6h2.6v2.6h-2.6zM379.6 496.6h2.6v2.6h-2.6zM343.2 499.2h2.6v2.6h-2.6zM400.4 499.2h2.6v2.6h-2.6zM278.2 501.8h2.6v2.6h-2.6zM309.4 501.8h5.2v2.6h-5.2zM348.4 501.8h5.2v2.6h-5.2zM390 501.8h5.2v2.6h-5.2zM400.4 501.8h2.6v2.6h-2.6zM273 504.4h2.6v2.6h-2.6zM278.2 504.4h2.6v2.6h-2.6zM301.6 504.4h2.6v2.6h-2.6zM309.4 504.4h2.6v2.6h-2.6zM345.8 504.4h2.6v2.6h-2.6zM392.6 504.4h2.6v2.6h-2.6zM317.2 507h2.6v2.6h-2.6zM322.4 507h2.6v2.6h-2.6zM353.6 507h5.2v2.6h-5.2zM371.8 507h2.6v2.6h-2.6zM400.4 507h2.6v2.6h-2.6zM405.6 507h2.6v2.6h-2.6zM265.2 509.6h2.6v2.6h-2.6zM351 509.6h2.6v2.6h-2.6zM358.8 509.6h5.2v2.6h-5.2zM369.2 509.6h2.6v2.6h-2.6zM390 509.6h2.6v2.6h-2.6zM397.8 509.6h2.6v2.6h-2.6zM273 512.2h2.6v2.6h-2.6zM280.8 512.2h2.6v2.6h-2.6zM288.6 512.2h2.6v2.6h-2.6zM335.4 512.2h2.6v2.6h-2.6zM351 512.2h2.6v2.6h-2.6zM361.4 512.2h2.6v2.6h-2.6zM377 512.2h2.6v2.6h-2.6zM392.6 512.2h5.2v2.6h-5.2zM403 512.2h7.8v2.6h-7.8zM249.6 514.8h2.6v2.6h-2.6zM265.2 514.8h2.6v2.6h-2.6zM283.4 514.8h2.6v2.6h-2.6zM299 514.8h2.6v2.6h-2.6zM348.4 514.8h2.6v2.6h-2.6zM369.2 514.8h5.2v2.6h-5.2zM379.6 514.8h2.6v2.6h-2.6zM395.2 514.8h2.6v2.6h-2.6zM403 514.8h7.8v2.6h-7.8zM416 514.8h2.6v2.6h-2.6zM296.4 517.4h2.6v2.6h-2.6zM356.2 517.4h2.6v2.6h-2.6zM392.6 517.4h2.6v2.6h-2.6zM405.6 517.4h7.8v2.6h-7.8zM262.6 520h2.6v2.6h-2.6zM267.8 520h5.2v2.6h-5.2zM283.4 520h2.6v2.6h-2.6zM288.6 520h2.6v2.6h-2.6zM293.8 520h2.6v2.6h-2.6zM299 520h2.6v2.6h-2.6zM306.8 520h2.6v2.6h-2.6zM327.6 520h2.6v2.6h-2.6zM345.8 520h2.6v2.6h-2.6zM353.6 520h2.6v2.6h-2.6zM392.6 520h2.6v2.6h-2.6zM400.4 520h5.2v2.6h-5.2zM408.2 520h2.6v2.6h-2.6zM262.6 522.6h2.6v2.6h-2.6zM301.6 522.6h2.6v2.6h-2.6zM309.4 522.6h2.6v2.6h-2.6zM327.6 522.6h2.6v2.6h-2.6zM369.2 522.6h2.6v2.6h-2.6zM283.4 525.2h2.6v2.6h-2.6zM322.4 525.2h2.6v2.6h-2.6zM332.8 525.2h2.6v2.6h-2.6zM348.4 525.2h2.6v2.6h-2.6zM382.2 525.2h5.2v2.6h-5.2zM397.8 525.2h2.6v2.6h-2.6zM247 527.8h5.2v2.6h-5.2zM273 527.8h2.6v2.6h-2.6zM299 527.8h2.6v2.6h-2.6zM312 527.8h2.6v2.6h-2.6zM335.4 527.8h2.6v2.6h-2.6zM348.4 527.8h7.8v2.6h-7.8zM384.8 527.8h5.2v2.6h-5.2zM400.4 527.8h5.2v2.6h-5.2zM410.8 527.8h2.6v2.6h-2.6zM241.8 530.4h2.6v2.6h-2.6zM312 530.4h2.6v2.6h-2.6zM345.8 530.4h2.6v2.6h-2.6zM351 530.4h2.6v2.6h-2.6zM384.8 530.4h2.6v2.6h-2.6zM395.2 530.4h2.6v2.6h-2.6zM413.4 530.4h2.6v2.6h-2.6zM280.8 533h5.2v2.6h-5.2zM317.2 533h2.6v2.6h-2.6zM395.2 533h2.6v2.6h-2.6zM400.4 533h2.6v2.6h-2.6zM408.2 533h5.2v2.6h-5.2zM267.8 535.6h5.2v2.6h-5.2zM356.2 535.6h2.6v2.6h-2.6zM392.6 535.6h5.2v2.6h-5.2zM405.6 535.6h2.6v2.6h-2.6zM416 535.6h2.6v2.6h-2.6zM249.6 538.2h2.6v2.6h-2.6zM260 538.2h2.6v2.6h-2.6zM332.8 538.2h2.6v2.6h-2.6zM340.6 538.2h2.6v2.6h-2.6zM390 538.2h2.6v2.6h-2.6zM405.6 538.2h5.2v2.6h-5.2zM265.2 540.8h2.6v2.6h-2.6zM293.8 540.8h5.2v2.6h-5.2zM317.2 540.8h2.6v2.6h-2.6zM382.2 540.8h2.6v2.6h-2.6zM390 540.8h2.6v2.6h-2.6zM267.8 543.4h5.2v2.6h-5.2zM340.6 543.4h2.6v2.6h-2.6zM345.8 543.4h2.6v2.6h-2.6zM397.8 543.4h2.6v2.6h-2.6zM405.6 543.4h2.6v2.6h-2.6zM262.6 546h2.6v2.6h-2.6zM267.8 546h2.6v2.6h-2.6zM382.2 546h5.2v2.6h-5.2zM403 546h2.6v2.6h-2.6zM267.8 548.6h2.6v2.6h-2.6zM275.6 548.6h2.6v2.6h-2.6zM366.6 548.6h2.6v2.6h-2.6zM379.6 548.6h2.6v2.6h-2.6zM390 548.6h2.6v2.6h-2.6zM400.4 548.6h2.6v2.6h-2.6zM270.4 551.2h2.6v2.6h-2.6zM301.6 551.2h2.6v2.6h-2.6zM403 551.2h2.6v2.6h-2.6zM408.2 551.2h5.2v2.6h-5.2zM299 553.8h2.6v2.6h-2.6zM325 553.8h2.6v2.6h-2.6zM283.4 556.4h2.6v2.6h-2.6zM299 556.4h2.6v2.6h-2.6zM397.8 556.4h2.6v2.6h-2.6zM416 556.4h2.6v2.6h-2.6zM286 559h2.6v2.6h-2.6zM319.8 559h2.6v2.6h-2.6zM299 561.6h2.6v2.6h-2.6zM273 564.2h2.6v2.6h-2.6zM304.2 566.8h7.8v2.6h-7.8zM231.4 569.4h5.2v2.6h-5.2zM288.6 569.4h5.2v2.6h-5.2zM304.2 569.4h2.6v2.6h-2.6zM262.6 572h2.6v2.6h-2.6zM348.4 572h5.2v2.6h-5.2zM397.8 572h2.6v2.6h-2.6zM416 572h2.6v2.6h-2.6zM244.4 574.6h2.6v2.6h-2.6zM265.2 574.6h2.6v2.6h-2.6zM301.6 574.6h5.2v2.6h-5.2zM312 574.6h5.2v2.6h-5.2zM332.8 574.6h2.6v2.6h-2.6zM421.2 574.6h2.6v2.6h-2.6zM247 577.2h2.6v2.6h-2.6zM400.4 577.2h2.6v2.6h-2.6zM228.8 579.8h2.6v2.6h-2.6zM395.2 579.8h2.6v2.6h-2.6zM408.2 579.8h2.6v2.6h-2.6zM418.6 579.8h2.6v2.6h-2.6zM423.8 579.8h2.6v2.6h-2.6zM226.2 582.4h2.6v2.6h-2.6zM239.2 587.6h2.6v2.6h-2.6zM405.6 590.2h2.6v2.6h-2.6zM234 592.8h2.6v2.6h-2.6zM395.2 592.8h2.6v2.6h-2.6zM405.6 592.8h2.6v2.6h-2.6zM249.6 595.4h2.6v2.6h-2.6zM371.8 595.4h2.6v2.6h-2.6zM418.6 595.4h5.2v2.6h-5.2zM228.8 598h2.6v2.6h-2.6zM405.6 598h2.6v2.6h-2.6zM226.2 600.6h2.6v2.6h-2.6zM234 600.6h2.6v2.6h-2.6zM410.8 600.6h2.6v2.6h-2.6zM241.8 603.2h2.6v2.6h-2.6zM247 608.4h2.6v2.6h-2.6zM301.6 611h2.6v2.6h-2.6zM267.8 613.6h2.6v2.6h-2.6zM358.8 618.8h2.6v2.6h-2.6zM369.2 624h2.6v2.6h-2.6zM273 626.6h2.6v2.6h-2.6zM275.6 629.2h2.6v2.6h-2.6zM330.2 631.8h2.6v2.6h-2.6zM371.8 631.8h2.6v2.6h-2.6z"/>
<path fill="#ff5a08" d="M330.2 400.4h2.6v2.6h-2.6zM327.6 405.6h2.6v2.6h-2.6zM296.4 416h5.2v2.6h-5.2zM351 416h2.6v2.6h-2.6zM288.6 418.6h2.6v2.6h-2.6zM314.6 418.6h2.6v2.6h-2.6zM322.4 418.6h2.6v2.6h-2.6zM345.8 418.6h2.6v2.6h-2.6zM356.2 418.6h2.6v2.6h-2.6zM348.4 421.2h2.6v2.6h-2.6zM278.2 423.8h2.6v2.6h-2.6zM340.6 423.8h2.6v2.6h-2.6zM351 426.4h2.6v2.6h-2.6zM356.2 426.4h2.6v2.6h-2.6zM374.4 426.4h2.6v2.6h-2.6zM288.6 429h2.6v2.6h-2.6zM335.4 429h2.6v2.6h-2.6zM374.4 429h2.6v2.6h-2.6zM314.6 431.6h5.2v2.6h-5.2zM325 431.6h2.6v2.6h-2.6zM327.6 434.2h2.6v2.6h-2.6zM379.6 434.2h2.6v2.6h-2.6zM312 436.8h2.6v2.6h-2.6zM382.2 436.8h2.6v2.6h-2.6zM270.4 439.4h2.6v2.6h-2.6zM314.6 439.4h2.6v2.6h-2.6zM374.4 439.4h2.6v2.6h-2.6zM387.4 439.4h2.6v2.6h-2.6zM267.8 442h2.6v2.6h-2.6zM304.2 442h2.6v2.6h-2.6zM314.6 442h5.2v2.6h-5.2zM340.6 442h2.6v2.6h-2.6zM293.8 444.6h2.6v2.6h-2.6zM247 447.2h2.6v2.6h-2.6zM322.4 447.2h2.6v2.6h-2.6zM395.2 449.8h5.2v2.6h-5.2zM335.4 452.4h5.2v2.6h-5.2zM358.8 452.4h2.6v2.6h-2.6zM387.4 452.4h2.6v2.6h-2.6zM239.2 455h2.6v2.6h-2.6zM249.6 455h2.6v2.6h-2.6zM397.8 455h2.6v2.6h-2.6zM241.8 457.6h2.6v2.6h-2.6zM260 457.6h2.6v2.6h-2.6zM390 457.6h2.6v2.6h-2.6zM236.6 460.2h2.6v2.6h-2.6zM241.8 460.2h5.2v2.6h-5.2zM296.4 460.2h2.6v2.6h-2.6zM366.6 460.2h2.6v2.6h-2.6zM390 460.2h2.6v2.6h-2.6zM244.4 462.8h5.2v2.6h-5.2zM343.2 462.8h2.6v2.6h-2.6zM356.2 462.8h2.6v2.6h-2.6zM241.8 465.4h2.6v2.6h-2.6zM387.4 465.4h5.2v2.6h-5.2zM395.2 465.4h2.6v2.6h-2.6zM244.4 468h2.6v2.6h-2.6zM257.4 468h2.6v2.6h-2.6zM314.6 468h2.6v2.6h-2.6zM332.8 468h2.6v2.6h-2.6zM392.6 468h2.6v2.6h-2.6zM236.6 470.6h2.6v2.6h-2.6zM254.8 470.6h2.6v2.6h-2.6zM387.4 470.6h2.6v2.6h-2.6zM408.2 470.6h2.6v2.6h-2.6zM244.4 473.2h2.6v2.6h-2.6zM260 473.2h2.6v2.6h-2.6zM304.2 473.2h2.6v2.6h-2.6zM361.4 473.2h2.6v2.6h-2.6zM293.8 475.8h2.6v2.6h-2.6zM306.8 475.8h2.6v2.6h-2.6zM234 478.4h2.6v2.6h-2.6zM322.4 478.4h2.6v2.6h-2.6zM330.2 478.4h2.6v2.6h-2.6zM405.6 478.4h2.6v2.6h-2.6zM322.4 481h5.2v2.6h-5.2zM400.4 481h2.6v2.6h-2.6zM249.6 483.6h2.6v2.6h-2.6zM345.8 483.6h2.6v2.6h-2.6zM364 483.6h2.6v2.6h-2.6zM374.4 486.2h2.6v2.6h-2.6zM408.2 486.2h2.6v2.6h-2.6zM260 488.8h2.6v2.6h-2.6zM338 488.8h2.6v2.6h-2.6zM408.2 488.8h2.6v2.6h-2.6zM257.4 494h2.6v2.6h-2.6zM299 494h2.6v2.6h-2.6zM390 494h2.6v2.6h-2.6zM254.8 496.6h2.6v2.6h-2.6zM254.8 499.2h2.6v2.6h-2.6zM403 499.2h2.6v2.6h-2.6zM403 501.8h2.6v2.6h-2.6zM408.2 501.8h2.6v2.6h-2.6zM247 504.4h2.6v2.6h-2.6zM280.8 504.4h2.6v2.6h-2.6zM338 504.4h2.6v2.6h-2.6zM395.2 504.4h2.6v2.6h-2.6zM270.4 507h2.6v2.6h-2.6zM267.8 509.6h2.6v2.6h-2.6zM306.8 509.6h2.6v2.6h-2.6zM353.6 509.6h2.6v2.6h-2.6zM239.2 512.2h2.6v2.6h-2.6zM293.8 512.2h2.6v2.6h-2.6zM322.4 512.2h2.6v2.6h-2.6zM353.6 512.2h2.6v2.6h-2.6zM262.6 514.8h2.6v2.6h-2.6zM301.6 514.8h2.6v2.6h-2.6zM306.8 514.8h2.6v2.6h-2.6zM338 514.8h2.6v2.6h-2.6zM351 514.8h2.6v2.6h-2.6zM356.2 514.8h2.6v2.6h-2.6zM325 517.4h2.6v2.6h-2.6zM351 517.4h2.6v2.6h-2.6zM358.8 517.4h2.6v2.6h-2.6zM369.2 517.4h2.6v2.6h-2.6zM390 517.4h2.6v2.6h-2.6zM322.4 520h2.6v2.6h-2.6zM332.8 520h2.6v2.6h-2.6zM351 520h2.6v2.6h-2.6zM382.2 520h2.6v2.6h-2.6zM322.4 522.6h2.6v2.6h-2.6zM356.2 522.6h2.6v2.6h-2.6zM379.6 522.6h2.6v2.6h-2.6zM314.6 525.2h2.6v2.6h-2.6zM319.8 525.2h2.6v2.6h-2.6zM335.4 525.2h5.2v2.6h-5.2zM392.6 525.2h2.6v2.6h-2.6zM319.8 527.8h5.2v2.6h-5.2zM330.2 527.8h5.2v2.6h-5.2zM345.8 527.8h2.6v2.6h-2.6zM322.4 530.4h5.2v2.6h-5.2zM335.4 530.4h5.2v2.6h-5.2zM369.2 530.4h2.6v2.6h-2.6zM400.4 530.4h2.6v2.6h-2.6zM312 533h2.6v2.6h-2.6zM319.8 533h2.6v2.6h-2.6zM325 533h5.2v2.6h-5.2zM335.4 533h2.6v2.6h-2.6zM257.4 535.6h2.6v2.6h-2.6zM275.6 535.6h2.6v2.6h-2.6zM314.6 535.6h2.6v2.6h-2.6zM319.8 535.6h2.6v2.6h-2.6zM325 535.6h2.6v2.6h-2.6zM332.8 535.6h7.8v2.6h-7.8zM379.6 535.6h2.6v2.6h-2.6zM257.4 538.2h2.6v2.6h-2.6zM314.6 538.2h2.6v2.6h-2.6zM319.8 538.2h2.6v2.6h-2.6zM327.6 538.2h5.2v2.6h-5.2zM327.6 540.8h2.6v2.6h-2.6zM369.2 540.8h2.6v2.6h-2.6zM384.8 540.8h2.6v2.6h-2.6zM338 543.4h2.6v2.6h-2.6zM265.2 546h2.6v2.6h-2.6zM291.2 551.2h2.6v2.6h-2.6zM416 551.2h5.2v2.6h-5.2zM403 556.4h2.6v2.6h-2.6zM286 561.6h2.6v2.6h-2.6zM296.4 561.6h2.6v2.6h-2.6zM275.6 564.2h5.2v2.6h-5.2zM418.6 564.2h2.6v2.6h-2.6zM317.2 566.8h2.6v2.6h-2.6zM270.4 569.4h5.2v2.6h-5.2zM278.2 569.4h2.6v2.6h-2.6zM332.8 569.4h5.2v2.6h-5.2zM345.8 569.4h2.6v2.6h-2.6zM403 569.4h2.6v2.6h-2.6zM416 569.4h2.6v2.6h-2.6zM421.2 569.4h2.6v2.6h-2.6zM234 572h5.2v2.6h-5.2zM278.2 572h2.6v2.6h-2.6zM418.6 572h2.6v2.6h-2.6zM270.4 574.6h2.6v2.6h-2.6zM410.8 574.6h5.2v2.6h-5.2zM403 577.2h2.6v2.6h-2.6zM236.6 579.8h2.6v2.6h-2.6zM397.8 579.8h5.2v2.6h-5.2zM236.6 582.4h2.6v2.6h-2.6zM244.4 582.4h2.6v2.6h-2.6zM423.8 582.4h2.6v2.6h-2.6zM234 585h2.6v2.6h-2.6zM408.2 585h2.6v2.6h-2.6zM234 587.6h2.6v2.6h-2.6zM241.8 590.2h7.8v2.6h-7.8zM413.4 590.2h2.6v2.6h-2.6zM278.2 592.8h2.6v2.6h-2.6zM228.8 595.4h2.6v2.6h-2.6zM236.6 595.4h2.6v2.6h-2.6zM241.8 595.4h2.6v2.6h-2.6zM405.6 595.4h2.6v2.6h-2.6zM231.4 598h2.6v2.6h-2.6zM408.2 598h5.2v2.6h-5.2zM236.6 600.6h2.6v2.6h-2.6zM267.8 600.6h2.6v2.6h-2.6zM408.2 600.6h2.6v2.6h-2.6zM379.6 603.2h2.6v2.6h-2.6zM231.4 605.8h2.6v2.6h-2.6zM280.8 605.8h2.6v2.6h-2.6zM382.2 605.8h2.6v2.6h-2.6zM265.2 608.4h2.6v2.6h-2.6zM293.8 608.4h2.6v2.6h-2.6zM364 611h2.6v2.6h-2.6zM236.6 613.6h2.6v2.6h-2.6zM293.8 613.6h2.6v2.6h-2.6zM358.8 616.2h2.6v2.6h-2.6zM364 616.2h2.6v2.6h-2.6zM293.8 618.8h2.6v2.6h-2.6zM384.8 618.8h2.6v2.6h-2.6zM273 624h2.6v2.6h-2.6zM382.2 624h2.6v2.6h-2.6zM382.2 629.2h2.6v2.6h-2.6z"/>
<path fill="#ffa008" d="M332.8 403h2.6v2.6h-2.6zM301.6 413.4h2.6v2.6h-2.6zM312 413.4h2.6v2.6h-2.6zM304.2 416h13v2.6h-13zM322.4 416h2.6v2.6h-2.6zM330.2 416h2.6v2.6h-2.6zM335.4 416h2.6v2.6h-2.6zM345.8 416h2.6v2.6h-2.6zM364 416h2.6v2.6h-2.6zM299 418.6h2.6v2.6h-2.6zM312 418.6h2.6v2.6h-2.6zM319.8 418.6h2.6v2.6h-2.6zM327.6 418.6h5.2v2.6h-5.2zM338 418.6h2.6v2.6h-2.6zM351 418.6h2.6v2.6h-2.6zM358.8 418.6h5.2v2.6h-5.2zM293.8 421.2h7.8v2.6h-7.8zM317.2 421.2h2.6v2.6h-2.6zM338 421.2h10.4v2.6h-10.4zM356.2 421.2h2.6v2.6h-2.6zM286 423.8h2.6v2.6h-2.6zM304.2 423.8h2.6v2.6h-2.6zM309.4 423.8h2.6v2.6h-2.6zM317.2 423.8h2.6v2.6h-2.6zM325 423.8h5.2v2.6h-5.2zM332.8 423.8h2.6v2.6h-2.6zM348.4 423.8h2.6v2.6h-2.6zM356.2 423.8h2.6v2.6h-2.6zM278.2 426.4h2.6v2.6h-2.6zM286 426.4h2.6v2.6h-2.6zM301.6 426.4h2.6v2.6h-2.6zM306.8 426.4h5.2v2.6h-5.2zM317.2 426.4h2.6v2.6h-2.6zM379.6 429h2.6v2.6h-2.6zM278.2 431.6h2.6v2.6h-2.6zM283.4 431.6h2.6v2.6h-2.6zM319.8 431.6h2.6v2.6h-2.6zM382.2 431.6h2.6v2.6h-2.6zM280.8 434.2h2.6v2.6h-2.6zM322.4 434.2h2.6v2.6h-2.6zM382.2 434.2h5.2v2.6h-5.2zM322.4 436.8h2.6v2.6h-2.6zM379.6 436.8h2.6v2.6h-2.6zM319.8 442h2.6v2.6h-2.6zM325 442h2.6v2.6h-2.6zM254.8 444.6h2.6v2.6h-2.6zM317.2 444.6h5.2v2.6h-5.2zM247 449.8h2.6v2.6h-2.6zM325 452.4h2.6v2.6h-2.6zM254.8 455h2.6v2.6h-2.6zM319.8 457.6h5.2v2.6h-5.2zM327.6 457.6h2.6v2.6h-2.6zM392.6 457.6h2.6v2.6h-2.6zM239.2 460.2h2.6v2.6h-2.6zM317.2 460.2h2.6v2.6h-2.6zM330.2 460.2h2.6v2.6h-2.6zM387.4 460.2h2.6v2.6h-2.6zM392.6 460.2h2.6v2.6h-2.6zM241.8 462.8h2.6v2.6h-2.6zM317.2 462.8h2.6v2.6h-2.6zM325 462.8h2.6v2.6h-2.6zM330.2 462.8h2.6v2.6h-2.6zM397.8 462.8h2.6v2.6h-2.6zM325 465.4h2.6v2.6h-2.6zM330.2 465.4h2.6v2.6h-2.6zM397.8 465.4h2.6v2.6h-2.6zM322.4 468h2.6v2.6h-2.6zM330.2 468h2.6v2.6h-2.6zM395.2 468h2.6v2.6h-2.6zM241.8 470.6h2.6v2.6h-2.6zM280.8 470.6h2.6v2.6h-2.6zM322.4 473.2h2.6v2.6h-2.6zM327.6 473.2h2.6v2.6h-2.6zM397.8 473.2h10.4v2.6h-10.4zM280.8 475.8h2.6v2.6h-2.6zM317.2 475.8h5.2v2.6h-5.2zM405.6 475.8h2.6v2.6h-2.6zM325 478.4h2.6v2.6h-2.6zM397.8 478.4h2.6v2.6h-2.6zM405.6 481h5.2v2.6h-5.2zM410.8 483.6h2.6v2.6h-2.6zM241.8 486.2h2.6v2.6h-2.6zM405.6 488.8h2.6v2.6h-2.6zM413.4 488.8h2.6v2.6h-2.6zM254.8 491.4h2.6v2.6h-2.6zM403 491.4h2.6v2.6h-2.6zM408.2 491.4h2.6v2.6h-2.6zM239.2 494h2.6v2.6h-2.6zM247 496.6h5.2v2.6h-5.2zM239.2 499.2h2.6v2.6h-2.6zM257.4 499.2h2.6v2.6h-2.6zM234 501.8h2.6v2.6h-2.6zM239.2 501.8h2.6v2.6h-2.6zM234 504.4h2.6v2.6h-2.6zM241.8 504.4h2.6v2.6h-2.6zM408.2 504.4h2.6v2.6h-2.6zM231.4 507h2.6v2.6h-2.6zM241.8 507h2.6v2.6h-2.6zM358.8 507h2.6v2.6h-2.6zM358.8 514.8h2.6v2.6h-2.6zM338 522.6h2.6v2.6h-2.6zM325 525.2h2.6v2.6h-2.6zM330.2 525.2h2.6v2.6h-2.6zM325 527.8h2.6v2.6h-2.6zM327.6 530.4h2.6v2.6h-2.6zM270.4 566.8h5.2v2.6h-5.2zM405.6 566.8h5.2v2.6h-5.2zM265.2 569.4h2.6v2.6h-2.6zM273 572h2.6v2.6h-2.6zM267.8 574.6h2.6v2.6h-2.6zM273 574.6h2.6v2.6h-2.6zM405.6 577.2h2.6v2.6h-2.6zM286 579.8h2.6v2.6h-2.6zM231.4 582.4h2.6v2.6h-2.6zM288.6 582.4h2.6v2.6h-2.6zM239.2 585h7.8v2.6h-7.8zM288.6 585h2.6v2.6h-2.6zM283.4 590.2h5.2v2.6h-5.2zM410.8 590.2h2.6v2.6h-2.6zM286 595.4h7.8v2.6h-7.8zM374.4 595.4h2.6v2.6h-2.6zM236.6 598h2.6v2.6h-2.6zM278.2 598h2.6v2.6h-2.6zM364 598h2.6v2.6h-2.6zM371.8 598h2.6v2.6h-2.6zM296.4 600.6h2.6v2.6h-2.6zM361.4 600.6h2.6v2.6h-2.6zM366.6 600.6h2.6v2.6h-2.6zM371.8 600.6h2.6v2.6h-2.6zM377 600.6h7.8v2.6h-7.8zM231.4 603.2h2.6v2.6h-2.6zM236.6 603.2h2.6v2.6h-2.6zM278.2 603.2h2.6v2.6h-2.6zM293.8 603.2h5.2v2.6h-5.2zM267.8 605.8h2.6v2.6h-2.6zM358.8 605.8h2.6v2.6h-2.6zM366.6 605.8h2.6v2.6h-2.6zM374.4 605.8h5.2v2.6h-5.2zM288.6 608.4h2.6v2.6h-2.6zM382.2 608.4h5.2v2.6h-5.2zM265.2 613.6h2.6v2.6h-2.6zM374.4 613.6h2.6v2.6h-2.6zM384.8 613.6h2.6v2.6h-2.6zM280.8 616.2h2.6v2.6h-2.6zM288.6 616.2h5.2v2.6h-5.2zM361.4 616.2h2.6v2.6h-2.6zM371.8 616.2h2.6v2.6h-2.6zM382.2 616.2h2.6v2.6h-2.6zM278.2 618.8h2.6v2.6h-2.6zM270.4 621.4h2.6v2.6h-2.6zM283.4 621.4h2.6v2.6h-2.6zM299 621.4h2.6v2.6h-2.6zM371.8 624h2.6v2.6h-2.6zM379.6 624h2.6v2.6h-2.6zM280.8 626.6h2.6v2.6h-2.6zM283.4 629.2h2.6v2.6h-2.6zM325 631.8h2.6v2.6h-2.6zM330.2 634.4h5.2v2.6h-5.2zM371.8 634.4h5.2v2.6h-5.2zM374.4 637h7.8v2.6h-7.8zM327.6 639.6h5.2v2.6h-5.2zM330.2 642.2h2.6v2.6h-2.6z"/>
<path fill="#fff500" d="M327.6 400.4h2.6v2.6h-2.6zM325 403h7.8v2.6h-7.8zM309.4 413.4h2.6v2.6h-2.6zM343.2 416h2.6v2.6h-2.6zM348.4 416h2.6v2.6h-2.6zM353.6 416h2.6v2.6h-2.6zM358.8 416h2.6v2.6h-2.6zM296.4 418.6h2.6v2.6h-2.6zM301.6 418.6h5.2v2.6h-5.2zM325 418.6h2.6v2.6h-2.6zM348.4 418.6h2.6v2.6h-2.6zM364 418.6h7.8v2.6h-7.8zM304.2 421.2h10.4v2.6h-10.4zM322.4 421.2h2.6v2.6h-2.6zM327.6 421.2h2.6v2.6h-2.6zM358.8 421.2h15.6v2.6h-15.6zM280.8 423.8h5.2v2.6h-5.2zM301.6 423.8h2.6v2.6h-2.6zM343.2 423.8h2.6v2.6h-2.6zM351 423.8h5.2v2.6h-5.2zM358.8 423.8h15.6v2.6h-15.6zM280.8 426.4h5.2v2.6h-5.2zM353.6 426.4h2.6v2.6h-2.6zM361.4 426.4h13v2.6h-13zM283.4 429h2.6v2.6h-2.6zM317.2 429h2.6v2.6h-2.6zM280.8 431.6h2.6v2.6h-2.6zM371.8 431.6h2.6v2.6h-2.6zM377 431.6h5.2v2.6h-5.2zM319.8 434.2h2.6v2.6h-2.6zM374.4 434.2h5.2v2.6h-5.2zM319.8 436.8h2.6v2.6h-2.6zM325 436.8h2.6v2.6h-2.6zM325 439.4h2.6v2.6h-2.6zM377 439.4h2.6v2.6h-2.6zM322.4 442h2.6v2.6h-2.6zM254.8 447.2h5.2v2.6h-5.2zM252.2 449.8h2.6v2.6h-2.6zM325 457.6h2.6v2.6h-2.6zM400.4 457.6h2.6v2.6h-2.6zM319.8 460.2h10.4v2.6h-10.4zM403 460.2h2.6v2.6h-2.6zM319.8 462.8h5.2v2.6h-5.2zM327.6 462.8h2.6v2.6h-2.6zM400.4 462.8h7.8v2.6h-7.8zM319.8 465.4h2.6v2.6h-2.6zM327.6 465.4h2.6v2.6h-2.6zM400.4 465.4h7.8v2.6h-7.8zM280.8 468h5.2v2.6h-5.2zM317.2 468h2.6v2.6h-2.6zM325 468h5.2v2.6h-5.2zM397.8 468h10.4v2.6h-10.4zM283.4 470.6h5.2v2.6h-5.2zM319.8 470.6h7.8v2.6h-7.8zM397.8 470.6h10.4v2.6h-10.4zM280.8 473.2h7.8v2.6h-7.8zM319.8 473.2h2.6v2.6h-2.6zM325 473.2h2.6v2.6h-2.6zM330.2 473.2h2.6v2.6h-2.6zM283.4 475.8h2.6v2.6h-2.6zM322.4 475.8h5.2v2.6h-5.2zM330.2 475.8h2.6v2.6h-2.6zM400.4 475.8h2.6v2.6h-2.6zM327.6 478.4h2.6v2.6h-2.6zM400.4 478.4h5.2v2.6h-5.2zM403 481h2.6v2.6h-2.6zM400.4 483.6h10.4v2.6h-10.4zM247 486.2h2.6v2.6h-2.6zM410.8 486.2h2.6v2.6h-2.6zM236.6 488.8h20.8v2.6h-20.8zM400.4 488.8h5.2v2.6h-5.2zM410.8 488.8h2.6v2.6h-2.6zM236.6 491.4h18.2v2.6h-18.2zM257.4 491.4h2.6v2.6h-2.6zM405.6 491.4h2.6v2.6h-2.6zM410.8 491.4h2.6v2.6h-2.6zM236.6 494h2.6v2.6h-2.6zM241.8 494h15.6v2.6h-15.6zM236.6 496.6h10.4v2.6h-10.4zM252.2 496.6h2.6v2.6h-2.6zM257.4 496.6h2.6v2.6h-2.6zM234 499.2h2.6v2.6h-2.6zM241.8 499.2h13v2.6h-13zM410.8 499.2h2.6v2.6h-2.6zM236.6 501.8h2.6v2.6h-2.6zM241.8 501.8h10.4v2.6h-10.4zM254.8 501.8h2.6v2.6h-2.6zM410.8 501.8h5.2v2.6h-5.2zM236.6 504.4h5.2v2.6h-5.2zM410.8 504.4h5.2v2.6h-5.2zM234 507h5.2v2.6h-5.2zM236.6 509.6h5.2v2.6h-5.2zM275.6 569.4h2.6v2.6h-2.6zM270.4 572h2.6v2.6h-2.6zM275.6 574.6h2.6v2.6h-2.6zM283.4 582.4h2.6v2.6h-2.6zM283.4 587.6h5.2v2.6h-5.2zM280.8 595.4h2.6v2.6h-2.6zM273 598h2.6v2.6h-2.6zM280.8 598h7.8v2.6h-7.8zM291.2 598h2.6v2.6h-2.6zM366.6 598h2.6v2.6h-2.6zM374.4 598h5.2v2.6h-5.2zM273 600.6h7.8v2.6h-7.8zM283.4 600.6h10.4v2.6h-10.4zM369.2 600.6h2.6v2.6h-2.6zM374.4 600.6h2.6v2.6h-2.6zM384.8 600.6h2.6v2.6h-2.6zM267.8 603.2h10.4v2.6h-10.4zM280.8 603.2h13v2.6h-13zM358.8 603.2h20.8v2.6h-20.8zM382.2 603.2h2.6v2.6h-2.6zM270.4 605.8h10.4v2.6h-10.4zM283.4 605.8h18.2v2.6h-18.2zM356.2 605.8h2.6v2.6h-2.6zM361.4 605.8h5.2v2.6h-5.2zM369.2 605.8h5.2v2.6h-5.2zM379.6 605.8h2.6v2.6h-2.6zM384.8 605.8h2.6v2.6h-2.6zM270.4 608.4h18.2v2.6h-18.2zM291.2 608.4h2.6v2.6h-2.6zM296.4 608.4h5.2v2.6h-5.2zM358.8 608.4h23.4v2.6h-23.4zM387.4 608.4h2.6v2.6h-2.6zM267.8 611h33.8v2.6h-33.8zM356.2 611h7.8v2.6h-7.8zM366.6 611h20.8v2.6h-20.8zM270.4 613.6h23.4v2.6h-23.4zM296.4 613.6h2.6v2.6h-2.6zM356.2 613.6h18.2v2.6h-18.2zM377 613.6h5.2v2.6h-5.2zM387.4 613.6h2.6v2.6h-2.6zM265.2 616.2h5.2v2.6h-5.2zM273 616.2h7.8v2.6h-7.8zM283.4 616.2h5.2v2.6h-5.2zM293.8 616.2h2.6v2.6h-2.6zM356.2 616.2h2.6v2.6h-2.6zM366.6 616.2h2.6v2.6h-2.6zM374.4 616.2h7.8v2.6h-7.8zM267.8 618.8h10.4v2.6h-10.4zM280.8 618.8h13v2.6h-13zM296.4 618.8h5.2v2.6h-5.2zM361.4 618.8h23.4v2.6h-23.4zM273 621.4h10.4v2.6h-10.4zM286 621.4h10.4v2.6h-10.4zM361.4 621.4h18.2v2.6h-18.2zM382.2 621.4h2.6v2.6h-2.6zM275.6 624h18.2v2.6h-18.2zM374.4 624h5.2v2.6h-5.2zM278.2 626.6h2.6v2.6h-2.6zM286 626.6h5.2v2.6h-5.2zM296.4 626.6h2.6v2.6h-2.6zM286 629.2h2.6v2.6h-2.6zM377 629.2h5.2v2.6h-5.2zM374.4 631.8h7.8v2.6h-7.8zM325 634.4h2.6v2.6h-2.6zM377 634.4h7.8v2.6h-7.8zM325 637h2.6v2.6h-2.6zM325 639.6h2.6v2.6h-2.6zM322.4 642.2h2.6v2.6h-2.6z"/></g>
<use href="#brain" transform="translate(443.5 381) scale(0.2686)"/>
<g filter="url(#hb)"><path fill="#e41c0a" d="M574.6 397.8h2.6v2.6h-2.6zM574.6 403h2.6v2.6h-2.6zM556.4 413.4h2.6v2.6h-2.6zM535.6 418.6h2.6v2.6h-2.6zM561.6 418.6h2.6v2.6h-2.6zM553.8 421.2h2.6v2.6h-2.6zM566.8 421.2h2.6v2.6h-2.6zM572 421.2h2.6v2.6h-2.6zM533 423.8h2.6v2.6h-2.6zM564.2 423.8h2.6v2.6h-2.6zM572 423.8h2.6v2.6h-2.6zM522.6 426.4h5.2v2.6h-5.2zM579.8 426.4h2.6v2.6h-2.6zM603.2 426.4h2.6v2.6h-2.6zM514.8 429h2.6v2.6h-2.6zM525.2 429h7.8v2.6h-7.8zM535.6 429h2.6v2.6h-2.6zM590.2 429h2.6v2.6h-2.6zM631.8 429h2.6v2.6h-2.6zM525.2 431.6h2.6v2.6h-2.6zM530.4 431.6h2.6v2.6h-2.6zM543.4 431.6h5.2v2.6h-5.2zM564.2 431.6h2.6v2.6h-2.6zM587.6 431.6h2.6v2.6h-2.6zM616.2 431.6h2.6v2.6h-2.6zM543.4 434.2h5.2v2.6h-5.2zM556.4 434.2h2.6v2.6h-2.6zM566.8 434.2h2.6v2.6h-2.6zM608.4 434.2h2.6v2.6h-2.6zM613.6 434.2h2.6v2.6h-2.6zM569.4 439.4h2.6v2.6h-2.6zM501.8 442h2.6v2.6h-2.6zM535.6 442h2.6v2.6h-2.6zM582.4 442h5.2v2.6h-5.2zM496.6 444.6h2.6v2.6h-2.6zM525.2 444.6h2.6v2.6h-2.6zM533 444.6h2.6v2.6h-2.6zM595.4 444.6h5.2v2.6h-5.2zM616.2 444.6h2.6v2.6h-2.6zM621.4 444.6h2.6v2.6h-2.6zM533 447.2h2.6v2.6h-2.6zM579.8 447.2h5.2v2.6h-5.2zM624 447.2h5.2v2.6h-5.2zM639.6 447.2h5.2v2.6h-5.2zM517.4 449.8h2.6v2.6h-2.6zM629.2 449.8h2.6v2.6h-2.6zM637 449.8h5.2v2.6h-5.2zM533 452.4h5.2v2.6h-5.2zM585 452.4h2.6v2.6h-2.6zM642.2 452.4h2.6v2.6h-2.6zM559 455h5.2v2.6h-5.2zM590.2 455h5.2v2.6h-5.2zM611 455h2.6v2.6h-2.6zM525.2 457.6h2.6v2.6h-2.6zM637 457.6h2.6v2.6h-2.6zM494 460.2h2.6v2.6h-2.6zM582.4 460.2h2.6v2.6h-2.6zM595.4 460.2h2.6v2.6h-2.6zM608.4 460.2h2.6v2.6h-2.6zM616.2 460.2h2.6v2.6h-2.6zM644.8 460.2h2.6v2.6h-2.6zM650 460.2h2.6v2.6h-2.6zM483.6 462.8h2.6v2.6h-2.6zM509.6 462.8h5.2v2.6h-5.2zM535.6 462.8h2.6v2.6h-2.6zM548.6 462.8h2.6v2.6h-2.6zM577.2 462.8h2.6v2.6h-2.6zM488.8 465.4h2.6v2.6h-2.6zM494 465.4h2.6v2.6h-2.6zM504.4 465.4h2.6v2.6h-2.6zM517.4 465.4h2.6v2.6h-2.6zM527.8 465.4h2.6v2.6h-2.6zM538.2 465.4h2.6v2.6h-2.6zM556.4 465.4h2.6v2.6h-2.6zM585 465.4h2.6v2.6h-2.6zM483.6 468h2.6v2.6h-2.6zM496.6 468h5.2v2.6h-5.2zM517.4 468h2.6v2.6h-2.6zM637 468h2.6v2.6h-2.6zM488.8 470.6h2.6v2.6h-2.6zM561.6 470.6h2.6v2.6h-2.6zM598 470.6h2.6v2.6h-2.6zM605.8 470.6h2.6v2.6h-2.6zM611 470.6h2.6v2.6h-2.6zM496.6 473.2h5.2v2.6h-5.2zM655.2 473.2h2.6v2.6h-2.6zM483.6 475.8h5.2v2.6h-5.2zM491.4 475.8h2.6v2.6h-2.6zM657.8 475.8h2.6v2.6h-2.6zM494 478.4h2.6v2.6h-2.6zM579.8 478.4h2.6v2.6h-2.6zM587.6 478.4h2.6v2.6h-2.6zM618.8 478.4h2.6v2.6h-2.6zM488.8 481h2.6v2.6h-2.6zM504.4 481h2.6v2.6h-2.6zM533 481h2.6v2.6h-2.6zM551.2 481h2.6v2.6h-2.6zM592.8 481h2.6v2.6h-2.6zM598 481h7.8v2.6h-7.8zM608.4 481h2.6v2.6h-2.6zM509.6 483.6h2.6v2.6h-2.6zM574.6 483.6h5.2v2.6h-5.2zM481 486.2h2.6v2.6h-2.6zM543.4 486.2h5.2v2.6h-5.2zM564.2 486.2h2.6v2.6h-2.6zM613.6 486.2h2.6v2.6h-2.6zM587.6 488.8h5.2v2.6h-5.2zM605.8 488.8h2.6v2.6h-2.6zM559 491.4h2.6v2.6h-2.6zM577.2 491.4h2.6v2.6h-2.6zM585 491.4h2.6v2.6h-2.6zM592.8 491.4h2.6v2.6h-2.6zM618.8 491.4h2.6v2.6h-2.6zM626.6 491.4h2.6v2.6h-2.6zM478.4 494h2.6v2.6h-2.6zM517.4 494h2.6v2.6h-2.6zM538.2 494h2.6v2.6h-2.6zM611 494h2.6v2.6h-2.6zM509.6 496.6h2.6v2.6h-2.6zM514.8 496.6h5.2v2.6h-5.2zM538.2 496.6h5.2v2.6h-5.2zM611 496.6h2.6v2.6h-2.6zM488.8 499.2h2.6v2.6h-2.6zM530.4 499.2h2.6v2.6h-2.6zM608.4 499.2h2.6v2.6h-2.6zM618.8 499.2h2.6v2.6h-2.6zM501.8 501.8h2.6v2.6h-2.6zM527.8 501.8h2.6v2.6h-2.6zM637 501.8h2.6v2.6h-2.6zM509.6 504.4h2.6v2.6h-2.6zM533 504.4h5.2v2.6h-5.2zM574.6 504.4h2.6v2.6h-2.6zM538.2 507h2.6v2.6h-2.6zM559 507h2.6v2.6h-2.6zM595.4 507h2.6v2.6h-2.6zM642.2 509.6h2.6v2.6h-2.6zM650 509.6h2.6v2.6h-2.6zM486.2 512.2h5.2v2.6h-5.2zM494 512.2h2.6v2.6h-2.6zM535.6 512.2h2.6v2.6h-2.6zM603.2 512.2h2.6v2.6h-2.6zM637 512.2h2.6v2.6h-2.6zM491.4 514.8h2.6v2.6h-2.6zM499.2 514.8h2.6v2.6h-2.6zM509.6 514.8h2.6v2.6h-2.6zM605.8 514.8h2.6v2.6h-2.6zM574.6 517.4h2.6v2.6h-2.6zM598 517.4h5.2v2.6h-5.2zM494 520h2.6v2.6h-2.6zM600.6 520h2.6v2.6h-2.6zM647.4 520h2.6v2.6h-2.6zM561.6 522.6h5.2v2.6h-5.2zM600.6 522.6h2.6v2.6h-2.6zM514.8 525.2h5.2v2.6h-5.2zM527.8 525.2h2.6v2.6h-2.6zM572 525.2h2.6v2.6h-2.6zM598 525.2h2.6v2.6h-2.6zM603.2 525.2h2.6v2.6h-2.6zM637 525.2h2.6v2.6h-2.6zM504.4 527.8h2.6v2.6h-2.6zM514.8 527.8h2.6v2.6h-2.6zM538.2 527.8h2.6v2.6h-2.6zM605.8 527.8h7.8v2.6h-7.8zM626.6 527.8h2.6v2.6h-2.6zM546 530.4h2.6v2.6h-2.6zM579.8 530.4h5.2v2.6h-5.2zM608.4 530.4h2.6v2.6h-2.6zM585 533h2.6v2.6h-2.6zM546 535.6h2.6v2.6h-2.6zM553.8 535.6h2.6v2.6h-2.6zM629.2 535.6h2.6v2.6h-2.6zM634.4 535.6h2.6v2.6h-2.6zM639.6 535.6h5.2v2.6h-5.2zM647.4 535.6h5.2v2.6h-5.2zM522.6 538.2h5.2v2.6h-5.2zM540.8 538.2h2.6v2.6h-2.6zM569.4 538.2h2.6v2.6h-2.6zM577.2 538.2h2.6v2.6h-2.6zM616.2 538.2h2.6v2.6h-2.6zM543.4 540.8h2.6v2.6h-2.6zM507 543.4h2.6v2.6h-2.6zM520 543.4h2.6v2.6h-2.6zM530.4 543.4h2.6v2.6h-2.6zM605.8 543.4h2.6v2.6h-2.6zM501.8 546h2.6v2.6h-2.6zM598 546h2.6v2.6h-2.6zM613.6 546h2.6v2.6h-2.6zM520 548.6h5.2v2.6h-5.2zM553.8 548.6h5.2v2.6h-5.2zM572 548.6h2.6v2.6h-2.6zM637 551.2h2.6v2.6h-2.6zM590.2 553.8h2.6v2.6h-2.6zM598 553.8h5.2v2.6h-5.2zM538.2 556.4h2.6v2.6h-2.6zM559 556.4h5.2v2.6h-5.2zM582.4 556.4h2.6v2.6h-2.6zM512.2 559h2.6v2.6h-2.6zM592.8 559h2.6v2.6h-2.6zM598 559h2.6v2.6h-2.6zM546 561.6h2.6v2.6h-2.6zM486.2 564.2h2.6v2.6h-2.6zM585 566.8h2.6v2.6h-2.6zM592.8 566.8h5.2v2.6h-5.2zM486.2 569.4h2.6v2.6h-2.6zM527.8 569.4h2.6v2.6h-2.6zM574.6 569.4h2.6v2.6h-2.6zM585 569.4h5.2v2.6h-5.2zM527.8 572h2.6v2.6h-2.6zM603.2 572h2.6v2.6h-2.6zM491.4 574.6h2.6v2.6h-2.6zM475.8 577.2h2.6v2.6h-2.6zM652.6 582.4h2.6v2.6h-2.6zM660.4 582.4h2.6v2.6h-2.6zM473.2 585h2.6v2.6h-2.6zM657.8 585h2.6v2.6h-2.6zM663 585h2.6v2.6h-2.6zM652.6 587.6h2.6v2.6h-2.6zM491.4 590.2h2.6v2.6h-2.6zM647.4 590.2h2.6v2.6h-2.6zM478.4 592.8h2.6v2.6h-2.6zM483.6 592.8h2.6v2.6h-2.6zM655.2 592.8h2.6v2.6h-2.6zM486.2 595.4h2.6v2.6h-2.6zM496.6 595.4h2.6v2.6h-2.6zM525.2 598h2.6v2.6h-2.6zM533 598h2.6v2.6h-2.6zM491.4 603.2h2.6v2.6h-2.6zM525.2 603.2h2.6v2.6h-2.6zM608.4 603.2h2.6v2.6h-2.6zM613.6 603.2h2.6v2.6h-2.6zM535.6 605.8h2.6v2.6h-2.6zM624 605.8h2.6v2.6h-2.6zM540.8 608.4h2.6v2.6h-2.6zM624 608.4h2.6v2.6h-2.6zM629.2 608.4h2.6v2.6h-2.6zM540.8 611h2.6v2.6h-2.6zM533 618.8h2.6v2.6h-2.6zM533 621.4h2.6v2.6h-2.6zM540.8 621.4h2.6v2.6h-2.6zM603.2 621.4h2.6v2.6h-2.6zM525.2 624h2.6v2.6h-2.6zM608.4 624h2.6v2.6h-2.6zM517.4 626.6h2.6v2.6h-2.6zM538.2 626.6h2.6v2.6h-2.6zM574.6 629.2h2.6v2.6h-2.6zM527.8 631.8h2.6v2.6h-2.6zM569.4 631.8h2.6v2.6h-2.6zM574.6 634.4h2.6v2.6h-2.6zM569.4 637h2.6v2.6h-2.6zM572 644.8h2.6v2.6h-2.6z"/>
<path fill="#ff5a08" d="M569.4 397.8h2.6v2.6h-2.6zM577.2 397.8h2.6v2.6h-2.6zM566.8 400.4h2.6v2.6h-2.6zM572 400.4h2.6v2.6h-2.6zM579.8 400.4h2.6v2.6h-2.6zM564.2 403h5.2v2.6h-5.2zM564.2 413.4h2.6v2.6h-2.6zM600.6 413.4h5.2v2.6h-5.2zM582.4 418.6h5.2v2.6h-5.2zM611 418.6h2.6v2.6h-2.6zM533 421.2h2.6v2.6h-2.6zM577.2 421.2h2.6v2.6h-2.6zM603.2 421.2h2.6v2.6h-2.6zM592.8 423.8h5.2v2.6h-5.2zM600.6 423.8h2.6v2.6h-2.6zM608.4 423.8h2.6v2.6h-2.6zM613.6 423.8h2.6v2.6h-2.6zM527.8 426.4h2.6v2.6h-2.6zM533 426.4h2.6v2.6h-2.6zM546 426.4h2.6v2.6h-2.6zM574.6 426.4h2.6v2.6h-2.6zM605.8 426.4h2.6v2.6h-2.6zM553.8 429h2.6v2.6h-2.6zM574.6 429h2.6v2.6h-2.6zM629.2 429h2.6v2.6h-2.6zM522.6 431.6h2.6v2.6h-2.6zM559 431.6h2.6v2.6h-2.6zM621.4 431.6h2.6v2.6h-2.6zM564.2 434.2h2.6v2.6h-2.6zM574.6 434.2h2.6v2.6h-2.6zM616.2 434.2h2.6v2.6h-2.6zM543.4 436.8h2.6v2.6h-2.6zM574.6 436.8h2.6v2.6h-2.6zM616.2 436.8h2.6v2.6h-2.6zM572 439.4h2.6v2.6h-2.6zM504.4 442h2.6v2.6h-2.6zM533 442h2.6v2.6h-2.6zM624 444.6h2.6v2.6h-2.6zM501.8 447.2h2.6v2.6h-2.6zM509.6 447.2h2.6v2.6h-2.6zM559 447.2h2.6v2.6h-2.6zM546 449.8h2.6v2.6h-2.6zM582.4 452.4h2.6v2.6h-2.6zM527.8 455h2.6v2.6h-2.6zM522.6 457.6h2.6v2.6h-2.6zM587.6 457.6h2.6v2.6h-2.6zM605.8 457.6h2.6v2.6h-2.6zM639.6 460.2h2.6v2.6h-2.6zM486.2 462.8h2.6v2.6h-2.6zM494 462.8h2.6v2.6h-2.6zM624 462.8h2.6v2.6h-2.6zM616.2 465.4h2.6v2.6h-2.6zM624 465.4h2.6v2.6h-2.6zM486.2 468h7.8v2.6h-7.8zM595.4 468h2.6v2.6h-2.6zM600.6 468h2.6v2.6h-2.6zM626.6 468h2.6v2.6h-2.6zM634.4 468h2.6v2.6h-2.6zM483.6 470.6h5.2v2.6h-5.2zM650 470.6h2.6v2.6h-2.6zM486.2 473.2h5.2v2.6h-5.2zM504.4 473.2h2.6v2.6h-2.6zM639.6 473.2h2.6v2.6h-2.6zM509.6 475.8h2.6v2.6h-2.6zM548.6 475.8h2.6v2.6h-2.6zM564.2 475.8h2.6v2.6h-2.6zM481 478.4h2.6v2.6h-2.6zM499.2 478.4h2.6v2.6h-2.6zM569.4 478.4h2.6v2.6h-2.6zM613.6 478.4h5.2v2.6h-5.2zM634.4 478.4h2.6v2.6h-2.6zM647.4 478.4h2.6v2.6h-2.6zM655.2 478.4h2.6v2.6h-2.6zM494 481h2.6v2.6h-2.6zM525.2 481h2.6v2.6h-2.6zM572 481h2.6v2.6h-2.6zM631.8 481h2.6v2.6h-2.6zM647.4 481h2.6v2.6h-2.6zM652.6 481h2.6v2.6h-2.6zM657.8 481h2.6v2.6h-2.6zM650 483.6h5.2v2.6h-5.2zM504.4 486.2h2.6v2.6h-2.6zM595.4 486.2h2.6v2.6h-2.6zM657.8 486.2h2.6v2.6h-2.6zM561.6 488.8h2.6v2.6h-2.6zM631.8 491.4h5.2v2.6h-5.2zM481 494h2.6v2.6h-2.6zM501.8 494h2.6v2.6h-2.6zM514.8 494h2.6v2.6h-2.6zM598 494h2.6v2.6h-2.6zM512.2 496.6h2.6v2.6h-2.6zM491.4 501.8h2.6v2.6h-2.6zM608.4 501.8h2.6v2.6h-2.6zM574.6 507h2.6v2.6h-2.6zM639.6 509.6h2.6v2.6h-2.6zM491.4 512.2h2.6v2.6h-2.6zM655.2 512.2h2.6v2.6h-2.6zM572 517.4h2.6v2.6h-2.6zM496.6 520h2.6v2.6h-2.6zM605.8 520h5.2v2.6h-5.2zM527.8 522.6h2.6v2.6h-2.6zM540.8 522.6h2.6v2.6h-2.6zM572 522.6h2.6v2.6h-2.6zM603.2 522.6h5.2v2.6h-5.2zM611 522.6h2.6v2.6h-2.6zM525.2 525.2h2.6v2.6h-2.6zM530.4 525.2h2.6v2.6h-2.6zM600.6 525.2h2.6v2.6h-2.6zM535.6 527.8h2.6v2.6h-2.6zM577.2 527.8h2.6v2.6h-2.6zM598 527.8h2.6v2.6h-2.6zM603.2 527.8h2.6v2.6h-2.6zM637 527.8h2.6v2.6h-2.6zM572 530.4h2.6v2.6h-2.6zM514.8 533h2.6v2.6h-2.6zM613.6 533h2.6v2.6h-2.6zM548.6 535.6h2.6v2.6h-2.6zM613.6 538.2h2.6v2.6h-2.6zM509.6 540.8h2.6v2.6h-2.6zM522.6 543.4h2.6v2.6h-2.6zM533 543.4h2.6v2.6h-2.6zM574.6 543.4h2.6v2.6h-2.6zM616.2 546h2.6v2.6h-2.6zM634.4 546h2.6v2.6h-2.6zM509.6 548.6h2.6v2.6h-2.6zM559 548.6h2.6v2.6h-2.6zM624 548.6h2.6v2.6h-2.6zM551.2 551.2h2.6v2.6h-2.6zM553.8 553.8h2.6v2.6h-2.6zM535.6 556.4h2.6v2.6h-2.6zM540.8 556.4h2.6v2.6h-2.6zM564.2 556.4h2.6v2.6h-2.6zM624 556.4h2.6v2.6h-2.6zM577.2 561.6h2.6v2.6h-2.6zM585 564.2h2.6v2.6h-2.6zM481 566.8h2.6v2.6h-2.6zM486.2 566.8h2.6v2.6h-2.6zM514.8 566.8h2.6v2.6h-2.6zM582.4 566.8h2.6v2.6h-2.6zM473.2 569.4h2.6v2.6h-2.6zM488.8 569.4h2.6v2.6h-2.6zM514.8 569.4h2.6v2.6h-2.6zM611 569.4h2.6v2.6h-2.6zM665.6 572h2.6v2.6h-2.6zM486.2 574.6h5.2v2.6h-5.2zM574.6 574.6h2.6v2.6h-2.6zM473.2 577.2h2.6v2.6h-2.6zM478.4 577.2h2.6v2.6h-2.6zM655.2 577.2h2.6v2.6h-2.6zM473.2 582.4h5.2v2.6h-5.2zM491.4 582.4h2.6v2.6h-2.6zM655.2 582.4h2.6v2.6h-2.6zM478.4 590.2h5.2v2.6h-5.2zM488.8 590.2h2.6v2.6h-2.6zM473.2 592.8h2.6v2.6h-2.6zM491.4 592.8h2.6v2.6h-2.6zM525.2 595.4h2.6v2.6h-2.6zM652.6 595.4h2.6v2.6h-2.6zM663 595.4h2.6v2.6h-2.6zM494 598h2.6v2.6h-2.6zM522.6 598h2.6v2.6h-2.6zM527.8 598h2.6v2.6h-2.6zM652.6 598h2.6v2.6h-2.6zM663 598h2.6v2.6h-2.6zM481 600.6h2.6v2.6h-2.6zM535.6 600.6h2.6v2.6h-2.6zM613.6 600.6h5.2v2.6h-5.2zM533 603.2h2.6v2.6h-2.6zM624 603.2h2.6v2.6h-2.6zM663 603.2h2.6v2.6h-2.6zM525.2 605.8h2.6v2.6h-2.6zM611 605.8h2.6v2.6h-2.6zM535.6 608.4h2.6v2.6h-2.6zM616.2 608.4h2.6v2.6h-2.6zM603.2 611h5.2v2.6h-5.2zM611 611h2.6v2.6h-2.6zM512.2 613.6h2.6v2.6h-2.6zM530.4 613.6h2.6v2.6h-2.6zM540.8 613.6h2.6v2.6h-2.6zM605.8 613.6h2.6v2.6h-2.6zM527.8 616.2h2.6v2.6h-2.6zM535.6 618.8h2.6v2.6h-2.6zM611 618.8h2.6v2.6h-2.6zM624 618.8h2.6v2.6h-2.6zM525.2 626.6h2.6v2.6h-2.6zM613.6 626.6h2.6v2.6h-2.6zM533 631.8h2.6v2.6h-2.6zM574.6 631.8h2.6v2.6h-2.6zM566.8 637h2.6v2.6h-2.6z"/>
<path fill="#ffa008" d="M574.6 400.4h2.6v2.6h-2.6zM572 403h2.6v2.6h-2.6zM577.2 403h2.6v2.6h-2.6zM566.8 413.4h2.6v2.6h-2.6zM577.2 413.4h2.6v2.6h-2.6zM548.6 416h2.6v2.6h-2.6zM569.4 416h7.8v2.6h-7.8zM590.2 416h2.6v2.6h-2.6zM546 418.6h2.6v2.6h-2.6zM559 418.6h2.6v2.6h-2.6zM569.4 418.6h2.6v2.6h-2.6zM577.2 418.6h2.6v2.6h-2.6zM595.4 418.6h2.6v2.6h-2.6zM613.6 418.6h2.6v2.6h-2.6zM548.6 421.2h2.6v2.6h-2.6zM556.4 421.2h2.6v2.6h-2.6zM561.6 421.2h2.6v2.6h-2.6zM587.6 421.2h7.8v2.6h-7.8zM611 421.2h2.6v2.6h-2.6zM569.4 423.8h2.6v2.6h-2.6zM598 423.8h2.6v2.6h-2.6zM603.2 423.8h2.6v2.6h-2.6zM624 423.8h2.6v2.6h-2.6zM530.4 426.4h2.6v2.6h-2.6zM618.8 426.4h2.6v2.6h-2.6zM626.6 426.4h5.2v2.6h-5.2zM566.8 429h2.6v2.6h-2.6zM616.2 429h2.6v2.6h-2.6zM621.4 429h5.2v2.6h-5.2zM527.8 431.6h2.6v2.6h-2.6zM566.8 431.6h2.6v2.6h-2.6zM572 431.6h2.6v2.6h-2.6zM631.8 431.6h5.2v2.6h-5.2zM569.4 434.2h2.6v2.6h-2.6zM618.8 434.2h2.6v2.6h-2.6zM569.4 436.8h2.6v2.6h-2.6zM618.8 436.8h2.6v2.6h-2.6zM629.2 436.8h2.6v2.6h-2.6zM494 447.2h5.2v2.6h-5.2zM501.8 449.8h2.6v2.6h-2.6zM504.4 457.6h2.6v2.6h-2.6zM564.2 457.6h2.6v2.6h-2.6zM572 457.6h2.6v2.6h-2.6zM631.8 457.6h2.6v2.6h-2.6zM652.6 457.6h2.6v2.6h-2.6zM504.4 460.2h2.6v2.6h-2.6zM566.8 460.2h2.6v2.6h-2.6zM634.4 460.2h2.6v2.6h-2.6zM642.2 460.2h2.6v2.6h-2.6zM652.6 460.2h5.2v2.6h-5.2zM491.4 462.8h2.6v2.6h-2.6zM574.6 462.8h2.6v2.6h-2.6zM642.2 462.8h2.6v2.6h-2.6zM491.4 465.4h2.6v2.6h-2.6zM637 465.4h2.6v2.6h-2.6zM561.6 468h2.6v2.6h-2.6zM569.4 468h2.6v2.6h-2.6zM629.2 468h2.6v2.6h-2.6zM642.2 468h2.6v2.6h-2.6zM569.4 473.2h2.6v2.6h-2.6zM577.2 473.2h2.6v2.6h-2.6zM637 473.2h2.6v2.6h-2.6zM642.2 475.8h2.6v2.6h-2.6zM650 475.8h2.6v2.6h-2.6zM488.8 478.4h2.6v2.6h-2.6zM564.2 478.4h2.6v2.6h-2.6zM629.2 478.4h2.6v2.6h-2.6zM637 478.4h2.6v2.6h-2.6zM527.8 481h2.6v2.6h-2.6zM491.4 483.6h2.6v2.6h-2.6zM507 483.6h2.6v2.6h-2.6zM657.8 483.6h2.6v2.6h-2.6zM481 488.8h2.6v2.6h-2.6zM496.6 488.8h2.6v2.6h-2.6zM501.8 491.4h2.6v2.6h-2.6zM637 496.6h2.6v2.6h-2.6zM657.8 496.6h2.6v2.6h-2.6zM496.6 499.2h2.6v2.6h-2.6zM507 499.2h7.8v2.6h-7.8zM657.8 499.2h5.2v2.6h-5.2zM652.6 501.8h2.6v2.6h-2.6zM660.4 501.8h2.6v2.6h-2.6zM501.8 504.4h2.6v2.6h-2.6zM660.4 504.4h2.6v2.6h-2.6zM652.6 507h5.2v2.6h-5.2zM660.4 507h2.6v2.6h-2.6zM540.8 517.4h5.2v2.6h-5.2zM566.8 520h7.8v2.6h-7.8zM569.4 522.6h2.6v2.6h-2.6zM579.8 538.2h2.6v2.6h-2.6zM577.2 540.8h2.6v2.6h-2.6zM569.4 543.4h2.6v2.6h-2.6zM577.2 543.4h2.6v2.6h-2.6zM525.2 569.4h2.6v2.6h-2.6zM663 569.4h5.2v2.6h-5.2zM481 572h2.6v2.6h-2.6zM488.8 572h2.6v2.6h-2.6zM512.2 572h2.6v2.6h-2.6zM520 572h5.2v2.6h-5.2zM663 572h2.6v2.6h-2.6zM522.6 574.6h5.2v2.6h-5.2zM517.4 577.2h2.6v2.6h-2.6zM486.2 582.4h2.6v2.6h-2.6zM496.6 582.4h2.6v2.6h-2.6zM486.2 590.2h2.6v2.6h-2.6zM520 598h2.6v2.6h-2.6zM650 598h2.6v2.6h-2.6zM517.4 600.6h2.6v2.6h-2.6zM621.4 600.6h2.6v2.6h-2.6zM522.6 603.2h2.6v2.6h-2.6zM527.8 603.2h2.6v2.6h-2.6zM540.8 603.2h2.6v2.6h-2.6zM603.2 603.2h2.6v2.6h-2.6zM611 603.2h2.6v2.6h-2.6zM618.8 603.2h2.6v2.6h-2.6zM538.2 605.8h5.2v2.6h-5.2zM613.6 605.8h2.6v2.6h-2.6zM514.8 608.4h2.6v2.6h-2.6zM618.8 608.4h2.6v2.6h-2.6zM608.4 611h2.6v2.6h-2.6zM613.6 611h2.6v2.6h-2.6zM629.2 611h5.2v2.6h-5.2zM517.4 613.6h2.6v2.6h-2.6zM538.2 613.6h2.6v2.6h-2.6zM600.6 613.6h5.2v2.6h-5.2zM621.4 613.6h2.6v2.6h-2.6zM540.8 616.2h5.2v2.6h-5.2zM605.8 616.2h7.8v2.6h-7.8zM624 616.2h5.2v2.6h-5.2zM525.2 618.8h2.6v2.6h-2.6zM538.2 618.8h7.8v2.6h-7.8zM613.6 618.8h2.6v2.6h-2.6zM520 621.4h2.6v2.6h-2.6zM535.6 621.4h2.6v2.6h-2.6zM543.4 621.4h2.6v2.6h-2.6zM629.2 621.4h2.6v2.6h-2.6zM514.8 624h5.2v2.6h-5.2zM522.6 624h2.6v2.6h-2.6zM535.6 624h2.6v2.6h-2.6zM605.8 624h2.6v2.6h-2.6zM624 624h2.6v2.6h-2.6zM520 626.6h5.2v2.6h-5.2zM535.6 626.6h2.6v2.6h-2.6zM621.4 626.6h2.6v2.6h-2.6zM522.6 629.2h7.8v2.6h-7.8zM525.2 631.8h2.6v2.6h-2.6zM577.2 631.8h2.6v2.6h-2.6zM569.4 634.4h2.6v2.6h-2.6zM577.2 634.4h2.6v2.6h-2.6zM621.4 634.4h2.6v2.6h-2.6zM579.8 637h2.6v2.6h-2.6zM618.8 637h2.6v2.6h-2.6zM572 647.4h5.2v2.6h-5.2z"/>
<path fill="#fff500" d="M553.8 413.4h2.6v2.6h-2.6zM559 413.4h2.6v2.6h-2.6zM582.4 413.4h2.6v2.6h-2.6zM559 416h5.2v2.6h-5.2zM577.2 416h7.8v2.6h-7.8zM595.4 416h13v2.6h-13zM548.6 418.6h5.2v2.6h-5.2zM579.8 418.6h2.6v2.6h-2.6zM590.2 418.6h5.2v2.6h-5.2zM598 418.6h2.6v2.6h-2.6zM603.2 418.6h7.8v2.6h-7.8zM559 421.2h2.6v2.6h-2.6zM564.2 421.2h2.6v2.6h-2.6zM595.4 421.2h7.8v2.6h-7.8zM605.8 421.2h5.2v2.6h-5.2zM572 426.4h2.6v2.6h-2.6zM621.4 426.4h5.2v2.6h-5.2zM572 429h2.6v2.6h-2.6zM618.8 429h2.6v2.6h-2.6zM626.6 429h2.6v2.6h-2.6zM618.8 431.6h2.6v2.6h-2.6zM624 431.6h5.2v2.6h-5.2zM621.4 434.2h2.6v2.6h-2.6zM626.6 434.2h7.8v2.6h-7.8zM572 436.8h2.6v2.6h-2.6zM626.6 436.8h2.6v2.6h-2.6zM504.4 444.6h2.6v2.6h-2.6zM494 449.8h5.2v2.6h-5.2zM496.6 452.4h2.6v2.6h-2.6zM501.8 452.4h2.6v2.6h-2.6zM504.4 455h2.6v2.6h-2.6zM566.8 457.6h5.2v2.6h-5.2zM655.2 457.6h5.2v2.6h-5.2zM499.2 460.2h2.6v2.6h-2.6zM569.4 460.2h5.2v2.6h-5.2zM626.6 460.2h2.6v2.6h-2.6zM657.8 460.2h2.6v2.6h-2.6zM564.2 462.8h7.8v2.6h-7.8zM629.2 462.8h5.2v2.6h-5.2zM561.6 465.4h15.6v2.6h-15.6zM629.2 465.4h7.8v2.6h-7.8zM530.4 468h2.6v2.6h-2.6zM564.2 468h5.2v2.6h-5.2zM572 468h7.8v2.6h-7.8zM527.8 470.6h5.2v2.6h-5.2zM564.2 470.6h15.6v2.6h-15.6zM527.8 473.2h7.8v2.6h-7.8zM561.6 473.2h7.8v2.6h-7.8zM572 473.2h5.2v2.6h-5.2zM642.2 473.2h5.2v2.6h-5.2zM650 473.2h2.6v2.6h-2.6zM527.8 475.8h5.2v2.6h-5.2zM566.8 475.8h10.4v2.6h-10.4zM634.4 475.8h7.8v2.6h-7.8zM644.8 475.8h5.2v2.6h-5.2zM652.6 475.8h5.2v2.6h-5.2zM496.6 478.4h2.6v2.6h-2.6zM527.8 478.4h7.8v2.6h-7.8zM566.8 478.4h2.6v2.6h-2.6zM572 478.4h2.6v2.6h-2.6zM639.6 478.4h7.8v2.6h-7.8zM650 478.4h5.2v2.6h-5.2zM486.2 481h2.6v2.6h-2.6zM496.6 481h5.2v2.6h-5.2zM530.4 481h2.6v2.6h-2.6zM566.8 481h2.6v2.6h-2.6zM634.4 481h13v2.6h-13zM650 481h2.6v2.6h-2.6zM655.2 481h2.6v2.6h-2.6zM486.2 483.6h5.2v2.6h-5.2zM494 483.6h13v2.6h-13zM629.2 483.6h20.8v2.6h-20.8zM655.2 483.6h2.6v2.6h-2.6zM483.6 486.2h20.8v2.6h-20.8zM631.8 486.2h26v2.6h-26zM478.4 488.8h2.6v2.6h-2.6zM483.6 488.8h13v2.6h-13zM499.2 488.8h5.2v2.6h-5.2zM507 488.8h5.2v2.6h-5.2zM631.8 488.8h18.2v2.6h-18.2zM652.6 488.8h5.2v2.6h-5.2zM481 491.4h20.8v2.6h-20.8zM504.4 491.4h7.8v2.6h-7.8zM637 491.4h15.6v2.6h-15.6zM483.6 494h18.2v2.6h-18.2zM504.4 494h5.2v2.6h-5.2zM631.8 494h23.4v2.6h-23.4zM486.2 496.6h2.6v2.6h-2.6zM494 496.6h15.6v2.6h-15.6zM647.4 496.6h2.6v2.6h-2.6zM491.4 499.2h5.2v2.6h-5.2zM499.2 499.2h2.6v2.6h-2.6zM504.4 499.2h2.6v2.6h-2.6zM496.6 501.8h2.6v2.6h-2.6zM504.4 501.8h2.6v2.6h-2.6zM509.6 501.8h5.2v2.6h-5.2zM657.8 501.8h2.6v2.6h-2.6zM657.8 504.4h2.6v2.6h-2.6zM655.2 509.6h2.6v2.6h-2.6zM569.4 517.4h2.6v2.6h-2.6zM543.4 520h2.6v2.6h-2.6zM572 538.2h2.6v2.6h-2.6zM569.4 540.8h7.8v2.6h-7.8zM517.4 569.4h5.2v2.6h-5.2zM514.8 572h5.2v2.6h-5.2zM517.4 574.6h2.6v2.6h-2.6zM530.4 582.4h5.2v2.6h-5.2zM530.4 585h5.2v2.6h-5.2zM530.4 587.6h2.6v2.6h-2.6zM530.4 590.2h5.2v2.6h-5.2zM527.8 600.6h5.2v2.6h-5.2zM520 603.2h2.6v2.6h-2.6zM530.4 603.2h2.6v2.6h-2.6zM535.6 603.2h5.2v2.6h-5.2zM616.2 603.2h2.6v2.6h-2.6zM520 605.8h5.2v2.6h-5.2zM527.8 605.8h7.8v2.6h-7.8zM618.8 605.8h2.6v2.6h-2.6zM520 608.4h2.6v2.6h-2.6zM527.8 608.4h2.6v2.6h-2.6zM533 608.4h2.6v2.6h-2.6zM538.2 608.4h2.6v2.6h-2.6zM603.2 608.4h5.2v2.6h-5.2zM613.6 608.4h2.6v2.6h-2.6zM517.4 611h7.8v2.6h-7.8zM527.8 611h2.6v2.6h-2.6zM533 611h2.6v2.6h-2.6zM538.2 611h2.6v2.6h-2.6zM616.2 611h5.2v2.6h-5.2zM624 611h5.2v2.6h-5.2zM520 613.6h5.2v2.6h-5.2zM527.8 613.6h2.6v2.6h-2.6zM533 613.6h5.2v2.6h-5.2zM608.4 613.6h5.2v2.6h-5.2zM520 616.2h2.6v2.6h-2.6zM525.2 616.2h2.6v2.6h-2.6zM530.4 616.2h7.8v2.6h-7.8zM616.2 616.2h2.6v2.6h-2.6zM522.6 618.8h2.6v2.6h-2.6zM527.8 618.8h5.2v2.6h-5.2zM626.6 618.8h2.6v2.6h-2.6zM522.6 621.4h10.4v2.6h-10.4zM608.4 621.4h2.6v2.6h-2.6zM613.6 621.4h2.6v2.6h-2.6zM618.8 621.4h2.6v2.6h-2.6zM527.8 624h2.6v2.6h-2.6zM533 624h2.6v2.6h-2.6zM538.2 624h2.6v2.6h-2.6zM611 624h7.8v2.6h-7.8zM533 626.6h2.6v2.6h-2.6zM618.8 634.4h2.6v2.6h-2.6zM624 634.4h2.6v2.6h-2.6zM574.6 637h5.2v2.6h-5.2zM621.4 637h2.6v2.6h-2.6zM577.2 639.6h2.6v2.6h-2.6zM572 642.2h2.6v2.6h-2.6z"/></g>
<use href="#brain" transform="translate(686.8 381) scale(0.2686)"/>
<g filter="url(#hb)"><path fill="#e41c0a" d="M806 400.4h5.2v2.6h-5.2zM819 413.4h5.2v2.6h-5.2zM798.2 416h2.6v2.6h-2.6zM795.6 418.6h2.6v2.6h-2.6zM806 418.6h2.6v2.6h-2.6zM787.8 421.2h2.6v2.6h-2.6zM795.6 421.2h2.6v2.6h-2.6zM845 421.2h2.6v2.6h-2.6zM785.2 423.8h2.6v2.6h-2.6zM806 426.4h2.6v2.6h-2.6zM829.4 426.4h2.6v2.6h-2.6zM860.6 426.4h2.6v2.6h-2.6zM769.6 429h2.6v2.6h-2.6zM798.2 429h2.6v2.6h-2.6zM816.4 429h2.6v2.6h-2.6zM821.6 429h2.6v2.6h-2.6zM863.2 429h2.6v2.6h-2.6zM772.2 434.2h2.6v2.6h-2.6zM793 434.2h2.6v2.6h-2.6zM826.8 434.2h2.6v2.6h-2.6zM759.2 436.8h7.8v2.6h-7.8zM780 436.8h5.2v2.6h-5.2zM873.6 436.8h2.6v2.6h-2.6zM746.2 439.4h2.6v2.6h-2.6zM798.2 439.4h2.6v2.6h-2.6zM824.2 439.4h2.6v2.6h-2.6zM850.2 439.4h2.6v2.6h-2.6zM798.2 442h2.6v2.6h-2.6zM834.6 442h5.2v2.6h-5.2zM756.6 444.6h2.6v2.6h-2.6zM780 444.6h2.6v2.6h-2.6zM787.8 444.6h2.6v2.6h-2.6zM881.4 444.6h2.6v2.6h-2.6zM738.4 447.2h2.6v2.6h-2.6zM748.8 447.2h2.6v2.6h-2.6zM759.2 447.2h2.6v2.6h-2.6zM811.2 447.2h2.6v2.6h-2.6zM821.6 447.2h2.6v2.6h-2.6zM871 449.8h2.6v2.6h-2.6zM772.2 452.4h2.6v2.6h-2.6zM785.2 452.4h2.6v2.6h-2.6zM738.4 455h2.6v2.6h-2.6zM777.4 455h2.6v2.6h-2.6zM785.2 455h2.6v2.6h-2.6zM855.4 455h2.6v2.6h-2.6zM868.4 455h2.6v2.6h-2.6zM780 457.6h2.6v2.6h-2.6zM819 457.6h2.6v2.6h-2.6zM860.6 457.6h5.2v2.6h-5.2zM876.2 457.6h2.6v2.6h-2.6zM767 460.2h2.6v2.6h-2.6zM837.2 460.2h5.2v2.6h-5.2zM787.8 462.8h2.6v2.6h-2.6zM889.2 462.8h5.2v2.6h-5.2zM738.4 465.4h2.6v2.6h-2.6zM780 470.6h2.6v2.6h-2.6zM803.4 470.6h2.6v2.6h-2.6zM837.2 470.6h2.6v2.6h-2.6zM845 470.6h2.6v2.6h-2.6zM850.2 470.6h2.6v2.6h-2.6zM738.4 473.2h2.6v2.6h-2.6zM790.4 473.2h2.6v2.6h-2.6zM819 473.2h2.6v2.6h-2.6zM824.2 473.2h2.6v2.6h-2.6zM855.4 475.8h2.6v2.6h-2.6zM780 478.4h2.6v2.6h-2.6zM821.6 481h2.6v2.6h-2.6zM855.4 481h2.6v2.6h-2.6zM806 483.6h2.6v2.6h-2.6zM821.6 483.6h2.6v2.6h-2.6zM855.4 483.6h2.6v2.6h-2.6zM865.8 486.2h2.6v2.6h-2.6zM722.8 488.8h2.6v2.6h-2.6zM756.6 488.8h2.6v2.6h-2.6zM774.8 488.8h2.6v2.6h-2.6zM782.6 488.8h2.6v2.6h-2.6zM826.8 488.8h2.6v2.6h-2.6zM863.2 488.8h2.6v2.6h-2.6zM728 491.4h2.6v2.6h-2.6zM767 491.4h5.2v2.6h-5.2zM855.4 491.4h2.6v2.6h-2.6zM764.4 494h5.2v2.6h-5.2zM795.6 494h2.6v2.6h-2.6zM819 494h2.6v2.6h-2.6zM871 494h2.6v2.6h-2.6zM894.4 496.6h2.6v2.6h-2.6zM738.4 499.2h2.6v2.6h-2.6zM761.8 499.2h2.6v2.6h-2.6zM850.2 499.2h2.6v2.6h-2.6zM871 499.2h2.6v2.6h-2.6zM720.2 501.8h5.2v2.6h-5.2zM761.8 501.8h2.6v2.6h-2.6zM767 501.8h2.6v2.6h-2.6zM777.4 501.8h2.6v2.6h-2.6zM782.6 501.8h5.2v2.6h-5.2zM886.6 501.8h2.6v2.6h-2.6zM761.8 504.4h2.6v2.6h-2.6zM769.6 504.4h2.6v2.6h-2.6zM826.8 504.4h2.6v2.6h-2.6zM842.4 504.4h5.2v2.6h-5.2zM730.6 507h2.6v2.6h-2.6zM746.2 507h2.6v2.6h-2.6zM769.6 507h2.6v2.6h-2.6zM819 507h2.6v2.6h-2.6zM834.6 507h2.6v2.6h-2.6zM839.8 507h2.6v2.6h-2.6zM871 507h2.6v2.6h-2.6zM876.2 507h5.2v2.6h-5.2zM743.6 509.6h2.6v2.6h-2.6zM767 509.6h5.2v2.6h-5.2zM785.2 509.6h2.6v2.6h-2.6zM800.8 509.6h2.6v2.6h-2.6zM891.8 509.6h5.2v2.6h-5.2zM899.6 509.6h2.6v2.6h-2.6zM751.4 512.2h2.6v2.6h-2.6zM764.4 512.2h2.6v2.6h-2.6zM769.6 512.2h5.2v2.6h-5.2zM832 512.2h2.6v2.6h-2.6zM868.4 512.2h2.6v2.6h-2.6zM741 514.8h2.6v2.6h-2.6zM756.6 514.8h5.2v2.6h-5.2zM774.8 514.8h5.2v2.6h-5.2zM860.6 514.8h2.6v2.6h-2.6zM891.8 514.8h2.6v2.6h-2.6zM761.8 517.4h5.2v2.6h-5.2zM793 517.4h2.6v2.6h-2.6zM845 517.4h2.6v2.6h-2.6zM741 520h2.6v2.6h-2.6zM769.6 520h2.6v2.6h-2.6zM865.8 520h5.2v2.6h-5.2zM787.8 522.6h5.2v2.6h-5.2zM803.4 522.6h2.6v2.6h-2.6zM860.6 522.6h2.6v2.6h-2.6zM808.6 525.2h2.6v2.6h-2.6zM832 525.2h2.6v2.6h-2.6zM858 525.2h5.2v2.6h-5.2zM735.8 527.8h2.6v2.6h-2.6zM769.6 527.8h5.2v2.6h-5.2zM816.4 527.8h2.6v2.6h-2.6zM839.8 527.8h2.6v2.6h-2.6zM871 527.8h2.6v2.6h-2.6zM824.2 530.4h2.6v2.6h-2.6zM832 530.4h2.6v2.6h-2.6zM878.8 530.4h2.6v2.6h-2.6zM759.2 533h2.6v2.6h-2.6zM819 533h5.2v2.6h-5.2zM850.2 533h2.6v2.6h-2.6zM876.2 533h2.6v2.6h-2.6zM894.4 533h2.6v2.6h-2.6zM741 535.6h2.6v2.6h-2.6zM803.4 535.6h2.6v2.6h-2.6zM821.6 535.6h2.6v2.6h-2.6zM834.6 535.6h2.6v2.6h-2.6zM847.6 535.6h2.6v2.6h-2.6zM741 540.8h2.6v2.6h-2.6zM813.8 540.8h2.6v2.6h-2.6zM829.4 540.8h2.6v2.6h-2.6zM754 543.4h5.2v2.6h-5.2zM780 543.4h2.6v2.6h-2.6zM829.4 543.4h2.6v2.6h-2.6zM847.6 543.4h5.2v2.6h-5.2zM834.6 546h2.6v2.6h-2.6zM858 546h2.6v2.6h-2.6zM876.2 546h2.6v2.6h-2.6zM756.6 548.6h2.6v2.6h-2.6zM878.8 548.6h2.6v2.6h-2.6zM834.6 551.2h2.6v2.6h-2.6zM803.4 553.8h2.6v2.6h-2.6zM842.4 553.8h5.2v2.6h-5.2zM852.8 556.4h2.6v2.6h-2.6zM865.8 556.4h2.6v2.6h-2.6zM803.4 559h5.2v2.6h-5.2zM811.2 559h2.6v2.6h-2.6zM845 559h2.6v2.6h-2.6zM756.6 561.6h2.6v2.6h-2.6zM808.6 561.6h2.6v2.6h-2.6zM860.6 561.6h2.6v2.6h-2.6zM803.4 566.8h5.2v2.6h-5.2zM829.4 566.8h2.6v2.6h-2.6zM722.8 569.4h2.6v2.6h-2.6zM728 569.4h5.2v2.6h-5.2zM800.8 569.4h2.6v2.6h-2.6zM876.2 569.4h2.6v2.6h-2.6zM881.4 569.4h2.6v2.6h-2.6zM813.8 572h2.6v2.6h-2.6zM728 574.6h5.2v2.6h-5.2zM735.8 574.6h5.2v2.6h-5.2zM889.2 574.6h2.6v2.6h-2.6zM730.6 577.2h5.2v2.6h-5.2zM733.2 579.8h2.6v2.6h-2.6zM722.8 582.4h2.6v2.6h-2.6zM876.2 582.4h2.6v2.6h-2.6zM725.4 585h2.6v2.6h-2.6zM730.6 585h5.2v2.6h-5.2zM728 587.6h2.6v2.6h-2.6zM725.4 590.2h2.6v2.6h-2.6zM730.6 590.2h2.6v2.6h-2.6zM728 598h2.6v2.6h-2.6zM777.4 598h2.6v2.6h-2.6zM865.8 598h2.6v2.6h-2.6zM730.6 600.6h2.6v2.6h-2.6zM876.2 616.2h2.6v2.6h-2.6zM767 621.4h2.6v2.6h-2.6zM863.2 624h2.6v2.6h-2.6zM813.8 644.8h2.6v2.6h-2.6z"/>
<path fill="#ff5a08" d="M811.2 400.4h2.6v2.6h-2.6zM816.4 400.4h5.2v2.6h-5.2zM816.4 403h5.2v2.6h-5.2zM787.8 416h2.6v2.6h-2.6zM816.4 416h2.6v2.6h-2.6zM798.2 418.6h2.6v2.6h-2.6zM858 418.6h2.6v2.6h-2.6zM800.8 421.2h2.6v2.6h-2.6zM806 421.2h2.6v2.6h-2.6zM821.6 421.2h2.6v2.6h-2.6zM772.2 423.8h2.6v2.6h-2.6zM774.8 426.4h2.6v2.6h-2.6zM785.2 426.4h2.6v2.6h-2.6zM824.2 426.4h2.6v2.6h-2.6zM832 426.4h2.6v2.6h-2.6zM863.2 426.4h2.6v2.6h-2.6zM813.8 429h2.6v2.6h-2.6zM865.8 429h7.8v2.6h-7.8zM821.6 431.6h2.6v2.6h-2.6zM826.8 431.6h2.6v2.6h-2.6zM871 431.6h2.6v2.6h-2.6zM774.8 434.2h2.6v2.6h-2.6zM868.4 434.2h2.6v2.6h-2.6zM754 436.8h2.6v2.6h-2.6zM868.4 439.4h2.6v2.6h-2.6zM876.2 439.4h2.6v2.6h-2.6zM772.2 442h2.6v2.6h-2.6zM795.6 442h2.6v2.6h-2.6zM748.8 444.6h2.6v2.6h-2.6zM754 444.6h2.6v2.6h-2.6zM798.2 444.6h2.6v2.6h-2.6zM756.6 447.2h2.6v2.6h-2.6zM878.8 447.2h2.6v2.6h-2.6zM782.6 449.8h2.6v2.6h-2.6zM868.4 449.8h2.6v2.6h-2.6zM884 449.8h2.6v2.6h-2.6zM871 452.4h2.6v2.6h-2.6zM733.2 455h2.6v2.6h-2.6zM824.2 455h2.6v2.6h-2.6zM777.4 457.6h2.6v2.6h-2.6zM803.4 462.8h2.6v2.6h-2.6zM821.6 462.8h2.6v2.6h-2.6zM845 462.8h2.6v2.6h-2.6zM821.6 465.4h5.2v2.6h-5.2zM876.2 465.4h2.6v2.6h-2.6zM761.8 468h2.6v2.6h-2.6zM793 468h2.6v2.6h-2.6zM816.4 470.6h2.6v2.6h-2.6zM852.8 470.6h2.6v2.6h-2.6zM746.2 473.2h2.6v2.6h-2.6zM813.8 473.2h2.6v2.6h-2.6zM733.2 475.8h2.6v2.6h-2.6zM738.4 475.8h2.6v2.6h-2.6zM863.2 475.8h2.6v2.6h-2.6zM899.6 475.8h2.6v2.6h-2.6zM725.4 478.4h2.6v2.6h-2.6zM767 478.4h2.6v2.6h-2.6zM806 478.4h2.6v2.6h-2.6zM850.2 478.4h2.6v2.6h-2.6zM819 481h2.6v2.6h-2.6zM858 481h2.6v2.6h-2.6zM777.4 483.6h2.6v2.6h-2.6zM790.4 483.6h2.6v2.6h-2.6zM813.8 483.6h5.2v2.6h-5.2zM824.2 483.6h2.6v2.6h-2.6zM751.4 486.2h2.6v2.6h-2.6zM819 488.8h2.6v2.6h-2.6zM730.6 491.4h7.8v2.6h-7.8zM813.8 491.4h2.6v2.6h-2.6zM824.2 491.4h2.6v2.6h-2.6zM878.8 491.4h2.6v2.6h-2.6zM746.2 494h2.6v2.6h-2.6zM782.6 494h2.6v2.6h-2.6zM793 494h2.6v2.6h-2.6zM891.8 496.6h2.6v2.6h-2.6zM735.8 499.2h2.6v2.6h-2.6zM756.6 499.2h2.6v2.6h-2.6zM821.6 499.2h2.6v2.6h-2.6zM884 499.2h2.6v2.6h-2.6zM884 501.8h2.6v2.6h-2.6zM725.4 504.4h2.6v2.6h-2.6zM748.8 504.4h2.6v2.6h-2.6zM790.4 507h2.6v2.6h-2.6zM795.6 507h2.6v2.6h-2.6zM829.4 507h2.6v2.6h-2.6zM751.4 509.6h2.6v2.6h-2.6zM808.6 509.6h2.6v2.6h-2.6zM774.8 512.2h2.6v2.6h-2.6zM813.8 512.2h2.6v2.6h-2.6zM751.4 514.8h5.2v2.6h-5.2zM790.4 517.4h2.6v2.6h-2.6zM813.8 517.4h2.6v2.6h-2.6zM826.8 517.4h2.6v2.6h-2.6zM886.6 517.4h2.6v2.6h-2.6zM813.8 520h2.6v2.6h-2.6zM860.6 520h2.6v2.6h-2.6zM894.4 520h2.6v2.6h-2.6zM772.2 522.6h2.6v2.6h-2.6zM819 522.6h5.2v2.6h-5.2zM813.8 525.2h5.2v2.6h-5.2zM829.4 525.2h2.6v2.6h-2.6zM767 527.8h2.6v2.6h-2.6zM790.4 527.8h2.6v2.6h-2.6zM839.8 530.4h2.6v2.6h-2.6zM777.4 533h2.6v2.6h-2.6zM813.8 535.6h2.6v2.6h-2.6zM754 540.8h2.6v2.6h-2.6zM764.4 540.8h2.6v2.6h-2.6zM852.8 543.4h2.6v2.6h-2.6zM785.2 546h2.6v2.6h-2.6zM793 546h2.6v2.6h-2.6zM850.2 556.4h2.6v2.6h-2.6zM873.6 556.4h2.6v2.6h-2.6zM858 561.6h2.6v2.6h-2.6zM876.2 572h2.6v2.6h-2.6zM865.8 574.6h2.6v2.6h-2.6zM824.2 577.2h2.6v2.6h-2.6zM868.4 582.4h2.6v2.6h-2.6zM774.8 595.4h2.6v2.6h-2.6zM852.8 600.6h2.6v2.6h-2.6zM777.4 605.8h2.6v2.6h-2.6zM858 605.8h2.6v2.6h-2.6zM871 605.8h2.6v2.6h-2.6zM764.4 608.4h2.6v2.6h-2.6zM855.4 608.4h2.6v2.6h-2.6zM759.2 616.2h2.6v2.6h-2.6zM764.4 616.2h2.6v2.6h-2.6zM871 616.2h2.6v2.6h-2.6zM871 618.8h2.6v2.6h-2.6zM860.6 624h2.6v2.6h-2.6zM868.4 626.6h2.6v2.6h-2.6zM774.8 629.2h2.6v2.6h-2.6zM860.6 634.4h2.6v2.6h-2.6zM813.8 639.6h2.6v2.6h-2.6zM813.8 642.2h2.6v2.6h-2.6z"/>
<path fill="#ffa008" d="M811.2 403h2.6v2.6h-2.6zM811.2 410.8h2.6v2.6h-2.6zM806 413.4h10.4v2.6h-10.4zM777.4 416h5.2v2.6h-5.2zM803.4 416h5.2v2.6h-5.2zM819 416h2.6v2.6h-2.6zM845 416h2.6v2.6h-2.6zM850.2 416h2.6v2.6h-2.6zM858 416h2.6v2.6h-2.6zM787.8 418.6h2.6v2.6h-2.6zM800.8 418.6h2.6v2.6h-2.6zM813.8 418.6h7.8v2.6h-7.8zM850.2 418.6h2.6v2.6h-2.6zM777.4 421.2h5.2v2.6h-5.2zM790.4 421.2h5.2v2.6h-5.2zM803.4 421.2h2.6v2.6h-2.6zM808.6 421.2h2.6v2.6h-2.6zM813.8 421.2h7.8v2.6h-7.8zM824.2 421.2h2.6v2.6h-2.6zM780 423.8h5.2v2.6h-5.2zM790.4 423.8h2.6v2.6h-2.6zM813.8 423.8h2.6v2.6h-2.6zM824.2 423.8h2.6v2.6h-2.6zM845 423.8h5.2v2.6h-5.2zM813.8 426.4h2.6v2.6h-2.6zM852.8 426.4h2.6v2.6h-2.6zM824.2 429h2.6v2.6h-2.6zM824.2 431.6h2.6v2.6h-2.6zM865.8 431.6h2.6v2.6h-2.6zM878.8 442h2.6v2.6h-2.6zM876.2 444.6h2.6v2.6h-2.6zM743.6 449.8h2.6v2.6h-2.6zM878.8 449.8h2.6v2.6h-2.6zM878.8 452.4h2.6v2.6h-2.6zM746.2 455h2.6v2.6h-2.6zM902.2 455h2.6v2.6h-2.6zM813.8 457.6h2.6v2.6h-2.6zM813.8 460.2h5.2v2.6h-5.2zM821.6 460.2h2.6v2.6h-2.6zM902.2 460.2h2.6v2.6h-2.6zM811.2 462.8h2.6v2.6h-2.6zM816.4 462.8h2.6v2.6h-2.6zM824.2 462.8h2.6v2.6h-2.6zM803.4 465.4h2.6v2.6h-2.6zM813.8 465.4h5.2v2.6h-5.2zM826.8 465.4h2.6v2.6h-2.6zM891.8 465.4h2.6v2.6h-2.6zM774.8 468h2.6v2.6h-2.6zM808.6 468h2.6v2.6h-2.6zM824.2 468h2.6v2.6h-2.6zM884 468h2.6v2.6h-2.6zM730.6 470.6h2.6v2.6h-2.6zM811.2 470.6h2.6v2.6h-2.6zM821.6 470.6h5.2v2.6h-5.2zM897 470.6h2.6v2.6h-2.6zM730.6 473.2h2.6v2.6h-2.6zM741 473.2h2.6v2.6h-2.6zM806 473.2h7.8v2.6h-7.8zM884 473.2h2.6v2.6h-2.6zM889.2 473.2h2.6v2.6h-2.6zM803.4 475.8h5.2v2.6h-5.2zM813.8 475.8h2.6v2.6h-2.6zM824.2 475.8h7.8v2.6h-7.8zM881.4 475.8h2.6v2.6h-2.6zM730.6 478.4h2.6v2.6h-2.6zM751.4 478.4h2.6v2.6h-2.6zM803.4 478.4h2.6v2.6h-2.6zM808.6 478.4h7.8v2.6h-7.8zM855.4 478.4h2.6v2.6h-2.6zM884 478.4h2.6v2.6h-2.6zM897 478.4h5.2v2.6h-5.2zM748.8 481h2.6v2.6h-2.6zM808.6 481h2.6v2.6h-2.6zM813.8 481h5.2v2.6h-5.2zM852.8 481h2.6v2.6h-2.6zM884 481h2.6v2.6h-2.6zM746.2 483.6h2.6v2.6h-2.6zM754 483.6h2.6v2.6h-2.6zM808.6 483.6h2.6v2.6h-2.6zM876.2 483.6h2.6v2.6h-2.6zM881.4 483.6h2.6v2.6h-2.6zM889.2 483.6h2.6v2.6h-2.6zM746.2 486.2h2.6v2.6h-2.6zM813.8 486.2h2.6v2.6h-2.6zM819 486.2h2.6v2.6h-2.6zM743.6 491.4h2.6v2.6h-2.6zM881.4 491.4h2.6v2.6h-2.6zM743.6 494h2.6v2.6h-2.6zM886.6 494h2.6v2.6h-2.6zM894.4 494h2.6v2.6h-2.6zM743.6 496.6h2.6v2.6h-2.6zM730.6 504.4h2.6v2.6h-2.6zM816.4 520h2.6v2.6h-2.6zM850.2 520h2.6v2.6h-2.6zM808.6 522.6h2.6v2.6h-2.6zM813.8 522.6h2.6v2.6h-2.6zM824.2 522.6h2.6v2.6h-2.6zM852.8 522.6h2.6v2.6h-2.6zM824.2 525.2h2.6v2.6h-2.6zM852.8 525.2h2.6v2.6h-2.6zM813.8 527.8h2.6v2.6h-2.6zM819 527.8h2.6v2.6h-2.6zM819 530.4h2.6v2.6h-2.6zM816.4 538.2h5.2v2.6h-5.2zM819 540.8h5.2v2.6h-5.2zM876.2 566.8h2.6v2.6h-2.6zM767 569.4h7.8v2.6h-7.8zM873.6 569.4h2.6v2.6h-2.6zM884 569.4h2.6v2.6h-2.6zM756.6 572h2.6v2.6h-2.6zM769.6 572h2.6v2.6h-2.6zM868.4 572h5.2v2.6h-5.2zM881.4 572h2.6v2.6h-2.6zM756.6 574.6h2.6v2.6h-2.6zM761.8 574.6h2.6v2.6h-2.6zM876.2 574.6h2.6v2.6h-2.6zM871 577.2h2.6v2.6h-2.6zM886.6 577.2h2.6v2.6h-2.6zM868.4 579.8h2.6v2.6h-2.6zM884 579.8h2.6v2.6h-2.6zM884 582.4h2.6v2.6h-2.6zM777.4 587.6h2.6v2.6h-2.6zM777.4 595.4h2.6v2.6h-2.6zM769.6 598h2.6v2.6h-2.6zM785.2 600.6h2.6v2.6h-2.6zM858 600.6h2.6v2.6h-2.6zM871 600.6h2.6v2.6h-2.6zM761.8 603.2h2.6v2.6h-2.6zM785.2 603.2h2.6v2.6h-2.6zM850.2 603.2h2.6v2.6h-2.6zM764.4 605.8h2.6v2.6h-2.6zM774.8 605.8h2.6v2.6h-2.6zM847.6 605.8h2.6v2.6h-2.6zM863.2 605.8h2.6v2.6h-2.6zM764.4 611h2.6v2.6h-2.6zM785.2 611h2.6v2.6h-2.6zM873.6 611h2.6v2.6h-2.6zM769.6 613.6h2.6v2.6h-2.6zM787.8 613.6h2.6v2.6h-2.6zM777.4 616.2h2.6v2.6h-2.6zM782.6 618.8h2.6v2.6h-2.6zM777.4 621.4h2.6v2.6h-2.6zM868.4 621.4h2.6v2.6h-2.6zM774.8 624h2.6v2.6h-2.6zM865.8 626.6h2.6v2.6h-2.6zM863.2 629.2h2.6v2.6h-2.6zM868.4 629.2h5.2v2.6h-5.2zM769.6 631.8h2.6v2.6h-2.6zM860.6 631.8h2.6v2.6h-2.6zM769.6 634.4h2.6v2.6h-2.6zM780 634.4h2.6v2.6h-2.6zM863.2 634.4h5.2v2.6h-5.2zM774.8 637h2.6v2.6h-2.6z"/>
<path fill="#fff500" d="M800.8 413.4h5.2v2.6h-5.2zM855.4 413.4h2.6v2.6h-2.6zM782.6 416h5.2v2.6h-5.2zM800.8 416h2.6v2.6h-2.6zM808.6 416h5.2v2.6h-5.2zM847.6 416h2.6v2.6h-2.6zM852.8 416h5.2v2.6h-5.2zM777.4 418.6h2.6v2.6h-2.6zM782.6 418.6h5.2v2.6h-5.2zM790.4 418.6h5.2v2.6h-5.2zM808.6 418.6h2.6v2.6h-2.6zM845 418.6h5.2v2.6h-5.2zM852.8 418.6h5.2v2.6h-5.2zM782.6 421.2h5.2v2.6h-5.2zM847.6 421.2h15.6v2.6h-15.6zM787.8 423.8h2.6v2.6h-2.6zM816.4 423.8h5.2v2.6h-5.2zM850.2 423.8h7.8v2.6h-7.8zM850.2 426.4h2.6v2.6h-2.6zM858 426.4h2.6v2.6h-2.6zM746.2 444.6h2.6v2.6h-2.6zM878.8 444.6h2.6v2.6h-2.6zM884 444.6h2.6v2.6h-2.6zM881.4 447.2h5.2v2.6h-5.2zM746.2 449.8h2.6v2.6h-2.6zM743.6 452.4h5.2v2.6h-5.2zM748.8 455h2.6v2.6h-2.6zM902.2 457.6h2.6v2.6h-2.6zM811.2 460.2h2.6v2.6h-2.6zM808.6 462.8h2.6v2.6h-2.6zM811.2 465.4h2.6v2.6h-2.6zM819 465.4h2.6v2.6h-2.6zM884 465.4h2.6v2.6h-2.6zM806 468h2.6v2.6h-2.6zM811.2 468h5.2v2.6h-5.2zM819 468h5.2v2.6h-5.2zM878.8 468h5.2v2.6h-5.2zM886.6 468h5.2v2.6h-5.2zM894.4 468h5.2v2.6h-5.2zM738.4 470.6h13v2.6h-13zM772.2 470.6h7.8v2.6h-7.8zM808.6 470.6h2.6v2.6h-2.6zM813.8 470.6h2.6v2.6h-2.6zM819 470.6h2.6v2.6h-2.6zM881.4 470.6h15.6v2.6h-15.6zM733.2 473.2h5.2v2.6h-5.2zM743.6 473.2h2.6v2.6h-2.6zM748.8 473.2h2.6v2.6h-2.6zM772.2 473.2h7.8v2.6h-7.8zM816.4 473.2h2.6v2.6h-2.6zM821.6 473.2h2.6v2.6h-2.6zM876.2 473.2h7.8v2.6h-7.8zM886.6 473.2h2.6v2.6h-2.6zM891.8 473.2h7.8v2.6h-7.8zM728 475.8h5.2v2.6h-5.2zM741 475.8h10.4v2.6h-10.4zM772.2 475.8h7.8v2.6h-7.8zM816.4 475.8h7.8v2.6h-7.8zM876.2 475.8h5.2v2.6h-5.2zM884 475.8h7.8v2.6h-7.8zM894.4 475.8h5.2v2.6h-5.2zM728 478.4h2.6v2.6h-2.6zM733.2 478.4h5.2v2.6h-5.2zM741 478.4h10.4v2.6h-10.4zM754 478.4h2.6v2.6h-2.6zM772.2 478.4h2.6v2.6h-2.6zM777.4 478.4h2.6v2.6h-2.6zM816.4 478.4h2.6v2.6h-2.6zM873.6 478.4h10.4v2.6h-10.4zM886.6 478.4h10.4v2.6h-10.4zM728 481h20.8v2.6h-20.8zM751.4 481h5.2v2.6h-5.2zM811.2 481h2.6v2.6h-2.6zM876.2 481h7.8v2.6h-7.8zM889.2 481h10.4v2.6h-10.4zM725.4 483.6h13v2.6h-13zM748.8 483.6h5.2v2.6h-5.2zM819 483.6h2.6v2.6h-2.6zM884 483.6h5.2v2.6h-5.2zM891.8 483.6h7.8v2.6h-7.8zM725.4 486.2h2.6v2.6h-2.6zM730.6 486.2h15.6v2.6h-15.6zM748.8 486.2h2.6v2.6h-2.6zM878.8 486.2h10.4v2.6h-10.4zM891.8 486.2h7.8v2.6h-7.8zM728 488.8h2.6v2.6h-2.6zM733.2 488.8h18.2v2.6h-18.2zM816.4 488.8h2.6v2.6h-2.6zM878.8 488.8h20.8v2.6h-20.8zM738.4 491.4h5.2v2.6h-5.2zM746.2 491.4h5.2v2.6h-5.2zM884 491.4h13v2.6h-13zM735.8 494h2.6v2.6h-2.6zM728 507h2.6v2.6h-2.6zM902.2 507h5.2v2.6h-5.2zM902.2 509.6h5.2v2.6h-5.2zM847.6 512.2h2.6v2.6h-2.6zM902.2 512.2h2.6v2.6h-2.6zM787.8 517.4h2.6v2.6h-2.6zM787.8 520h2.6v2.6h-2.6zM811.2 522.6h2.6v2.6h-2.6zM850.2 522.6h2.6v2.6h-2.6zM811.2 525.2h2.6v2.6h-2.6zM821.6 525.2h2.6v2.6h-2.6zM816.4 540.8h2.6v2.6h-2.6zM759.2 569.4h7.8v2.6h-7.8zM873.6 572h2.6v2.6h-2.6zM759.2 574.6h2.6v2.6h-2.6zM767 574.6h2.6v2.6h-2.6zM871 574.6h5.2v2.6h-5.2zM878.8 574.6h5.2v2.6h-5.2zM873.6 577.2h2.6v2.6h-2.6zM884 577.2h2.6v2.6h-2.6zM873.6 579.8h5.2v2.6h-5.2zM881.4 579.8h2.6v2.6h-2.6zM881.4 582.4h2.6v2.6h-2.6zM777.4 585h2.6v2.6h-2.6zM774.8 590.2h2.6v2.6h-2.6zM774.8 592.8h2.6v2.6h-2.6zM769.6 595.4h2.6v2.6h-2.6zM863.2 595.4h2.6v2.6h-2.6zM772.2 598h5.2v2.6h-5.2zM858 598h2.6v2.6h-2.6zM764.4 600.6h2.6v2.6h-2.6zM769.6 600.6h15.6v2.6h-15.6zM860.6 600.6h10.4v2.6h-10.4zM764.4 603.2h13v2.6h-13zM782.6 603.2h2.6v2.6h-2.6zM852.8 603.2h20.8v2.6h-20.8zM761.8 605.8h2.6v2.6h-2.6zM769.6 605.8h5.2v2.6h-5.2zM782.6 605.8h5.2v2.6h-5.2zM852.8 605.8h5.2v2.6h-5.2zM860.6 605.8h2.6v2.6h-2.6zM865.8 605.8h5.2v2.6h-5.2zM873.6 605.8h2.6v2.6h-2.6zM761.8 608.4h2.6v2.6h-2.6zM767 608.4h20.8v2.6h-20.8zM850.2 608.4h5.2v2.6h-5.2zM858 608.4h20.8v2.6h-20.8zM759.2 611h5.2v2.6h-5.2zM767 611h18.2v2.6h-18.2zM787.8 611h2.6v2.6h-2.6zM847.6 611h26v2.6h-26zM764.4 613.6h5.2v2.6h-5.2zM772.2 613.6h15.6v2.6h-15.6zM847.6 613.6h28.6v2.6h-28.6zM761.8 616.2h2.6v2.6h-2.6zM769.6 616.2h7.8v2.6h-7.8zM780 616.2h5.2v2.6h-5.2zM787.8 616.2h2.6v2.6h-2.6zM852.8 616.2h2.6v2.6h-2.6zM858 616.2h13v2.6h-13zM873.6 616.2h2.6v2.6h-2.6zM764.4 618.8h10.4v2.6h-10.4zM777.4 618.8h5.2v2.6h-5.2zM785.2 618.8h2.6v2.6h-2.6zM858 618.8h13v2.6h-13zM764.4 621.4h2.6v2.6h-2.6zM769.6 621.4h7.8v2.6h-7.8zM780 621.4h5.2v2.6h-5.2zM855.4 621.4h13v2.6h-13zM871 621.4h2.6v2.6h-2.6zM772.2 624h2.6v2.6h-2.6zM777.4 624h5.2v2.6h-5.2zM772.2 629.2h2.6v2.6h-2.6zM865.8 629.2h2.6v2.6h-2.6zM772.2 631.8h7.8v2.6h-7.8zM863.2 631.8h7.8v2.6h-7.8zM772.2 634.4h7.8v2.6h-7.8zM868.4 634.4h2.6v2.6h-2.6zM769.6 637h5.2v2.6h-5.2zM777.4 637h2.6v2.6h-2.6zM865.8 637h2.6v2.6h-2.6z"/></g>
<use href="#brain" transform="translate(194.0 701) scale(0.2686)"/>
<g filter="url(#hb)"><path fill="#e41c0a" d="M306.8 735.8h2.6v2.6h-2.6zM353.6 738.4h2.6v2.6h-2.6zM301.6 741h2.6v2.6h-2.6zM317.2 741h2.6v2.6h-2.6zM358.8 743.6h5.2v2.6h-5.2zM291.2 746.2h2.6v2.6h-2.6zM283.4 748.8h2.6v2.6h-2.6zM309.4 748.8h5.2v2.6h-5.2zM340.6 751.4h2.6v2.6h-2.6zM296.4 756.6h2.6v2.6h-2.6zM262.6 759.2h5.2v2.6h-5.2zM288.6 761.8h2.6v2.6h-2.6zM322.4 764.4h2.6v2.6h-2.6zM327.6 764.4h5.2v2.6h-5.2zM387.4 767h2.6v2.6h-2.6zM301.6 769.6h5.2v2.6h-5.2zM317.2 769.6h2.6v2.6h-2.6zM330.2 769.6h2.6v2.6h-2.6zM353.6 774.8h2.6v2.6h-2.6zM312 777.4h2.6v2.6h-2.6zM270.4 780h2.6v2.6h-2.6zM278.2 780h2.6v2.6h-2.6zM299 782.6h2.6v2.6h-2.6zM325 782.6h2.6v2.6h-2.6zM369.2 782.6h5.2v2.6h-5.2zM288.6 785.2h2.6v2.6h-2.6zM299 785.2h2.6v2.6h-2.6zM353.6 785.2h5.2v2.6h-5.2zM283.4 787.8h2.6v2.6h-2.6zM325 787.8h2.6v2.6h-2.6zM351 787.8h2.6v2.6h-2.6zM371.8 787.8h5.2v2.6h-5.2zM247 790.4h2.6v2.6h-2.6zM312 790.4h2.6v2.6h-2.6zM325 790.4h5.2v2.6h-5.2zM353.6 790.4h2.6v2.6h-2.6zM379.6 790.4h2.6v2.6h-2.6zM226.2 793h2.6v2.6h-2.6zM293.8 793h2.6v2.6h-2.6zM314.6 793h2.6v2.6h-2.6zM325 793h2.6v2.6h-2.6zM384.8 793h2.6v2.6h-2.6zM241.8 795.6h2.6v2.6h-2.6zM291.2 795.6h5.2v2.6h-5.2zM377 795.6h2.6v2.6h-2.6zM278.2 800.8h2.6v2.6h-2.6zM291.2 800.8h2.6v2.6h-2.6zM325 800.8h2.6v2.6h-2.6zM252.2 803.4h5.2v2.6h-5.2zM343.2 808.6h2.6v2.6h-2.6zM364 808.6h2.6v2.6h-2.6zM379.6 808.6h2.6v2.6h-2.6zM384.8 808.6h2.6v2.6h-2.6zM288.6 811.2h2.6v2.6h-2.6zM309.4 811.2h2.6v2.6h-2.6zM335.4 811.2h2.6v2.6h-2.6zM306.8 813.8h2.6v2.6h-2.6zM395.2 813.8h2.6v2.6h-2.6zM382.2 816.4h2.6v2.6h-2.6zM392.6 816.4h2.6v2.6h-2.6zM397.8 816.4h2.6v2.6h-2.6zM270.4 819h2.6v2.6h-2.6zM312 819h2.6v2.6h-2.6zM384.8 819h2.6v2.6h-2.6zM267.8 821.6h2.6v2.6h-2.6zM317.2 821.6h2.6v2.6h-2.6zM366.6 821.6h2.6v2.6h-2.6zM327.6 824.2h2.6v2.6h-2.6zM369.2 824.2h2.6v2.6h-2.6zM397.8 824.2h2.6v2.6h-2.6zM403 824.2h2.6v2.6h-2.6zM231.4 826.8h2.6v2.6h-2.6zM239.2 826.8h7.8v2.6h-7.8zM392.6 826.8h5.2v2.6h-5.2zM291.2 829.4h2.6v2.6h-2.6zM351 829.4h2.6v2.6h-2.6zM377 829.4h2.6v2.6h-2.6zM395.2 829.4h2.6v2.6h-2.6zM275.6 832h5.2v2.6h-5.2zM283.4 834.6h2.6v2.6h-2.6zM377 834.6h5.2v2.6h-5.2zM395.2 834.6h2.6v2.6h-2.6zM403 834.6h2.6v2.6h-2.6zM403 837.2h5.2v2.6h-5.2zM371.8 839.8h5.2v2.6h-5.2zM397.8 842.4h5.2v2.6h-5.2zM267.8 845h2.6v2.6h-2.6zM283.4 847.6h2.6v2.6h-2.6zM299 847.6h2.6v2.6h-2.6zM304.2 847.6h2.6v2.6h-2.6zM348.4 847.6h2.6v2.6h-2.6zM395.2 847.6h2.6v2.6h-2.6zM397.8 850.2h2.6v2.6h-2.6zM377 852.8h2.6v2.6h-2.6zM390 852.8h2.6v2.6h-2.6zM392.6 855.4h2.6v2.6h-2.6zM304.2 858h2.6v2.6h-2.6zM351 858h2.6v2.6h-2.6zM387.4 863.2h2.6v2.6h-2.6zM408.2 863.2h2.6v2.6h-2.6zM416 865.8h2.6v2.6h-2.6zM244.4 868.4h5.2v2.6h-5.2zM397.8 868.4h2.6v2.6h-2.6zM405.6 868.4h2.6v2.6h-2.6zM247 871h2.6v2.6h-2.6zM299 871h2.6v2.6h-2.6zM327.6 871h2.6v2.6h-2.6zM356.2 871h2.6v2.6h-2.6zM283.4 876.2h2.6v2.6h-2.6zM228.8 878.8h2.6v2.6h-2.6zM241.8 881.4h2.6v2.6h-2.6zM280.8 881.4h2.6v2.6h-2.6zM286 881.4h2.6v2.6h-2.6zM304.2 881.4h2.6v2.6h-2.6zM314.6 881.4h2.6v2.6h-2.6zM397.8 881.4h2.6v2.6h-2.6zM228.8 884h2.6v2.6h-2.6zM234 884h2.6v2.6h-2.6zM273 884h2.6v2.6h-2.6zM288.6 884h2.6v2.6h-2.6zM382.2 884h2.6v2.6h-2.6zM260 886.6h2.6v2.6h-2.6zM299 886.6h2.6v2.6h-2.6zM317.2 886.6h2.6v2.6h-2.6zM356.2 886.6h5.2v2.6h-5.2zM400.4 886.6h2.6v2.6h-2.6zM418.6 886.6h2.6v2.6h-2.6zM236.6 889.2h2.6v2.6h-2.6zM244.4 889.2h2.6v2.6h-2.6zM312 889.2h2.6v2.6h-2.6zM340.6 889.2h2.6v2.6h-2.6zM345.8 889.2h2.6v2.6h-2.6zM351 889.2h2.6v2.6h-2.6zM371.8 889.2h2.6v2.6h-2.6zM379.6 889.2h2.6v2.6h-2.6zM244.4 891.8h2.6v2.6h-2.6zM299 891.8h2.6v2.6h-2.6zM317.2 891.8h2.6v2.6h-2.6zM338 891.8h2.6v2.6h-2.6zM236.6 897h2.6v2.6h-2.6zM340.6 897h2.6v2.6h-2.6zM228.8 899.6h2.6v2.6h-2.6zM247 899.6h2.6v2.6h-2.6zM260 899.6h2.6v2.6h-2.6zM226.2 902.2h2.6v2.6h-2.6zM234 902.2h2.6v2.6h-2.6zM231.4 907.4h2.6v2.6h-2.6zM236.6 910h2.6v2.6h-2.6zM286 917.8h2.6v2.6h-2.6zM241.8 923h2.6v2.6h-2.6zM239.2 925.6h2.6v2.6h-2.6zM273 925.6h2.6v2.6h-2.6zM356.2 925.6h2.6v2.6h-2.6zM356.2 928.2h2.6v2.6h-2.6zM270.4 930.8h2.6v2.6h-2.6zM273 936h2.6v2.6h-2.6z"/>
<path fill="#ff5a08" d="M314.6 733.2h2.6v2.6h-2.6zM325 741h2.6v2.6h-2.6zM254.8 748.8h2.6v2.6h-2.6zM364 748.8h2.6v2.6h-2.6zM338 751.4h2.6v2.6h-2.6zM338 754h2.6v2.6h-2.6zM304.2 759.2h2.6v2.6h-2.6zM241.8 764.4h2.6v2.6h-2.6zM325 764.4h2.6v2.6h-2.6zM353.6 769.6h2.6v2.6h-2.6zM314.6 772.2h2.6v2.6h-2.6zM369.2 774.8h2.6v2.6h-2.6zM405.6 774.8h2.6v2.6h-2.6zM314.6 780h2.6v2.6h-2.6zM254.8 782.6h2.6v2.6h-2.6zM374.4 785.2h2.6v2.6h-2.6zM283.4 790.4h2.6v2.6h-2.6zM291.2 793h2.6v2.6h-2.6zM387.4 793h2.6v2.6h-2.6zM239.2 795.6h2.6v2.6h-2.6zM317.2 806h2.6v2.6h-2.6zM306.8 808.6h2.6v2.6h-2.6zM314.6 808.6h2.6v2.6h-2.6zM306.8 811.2h2.6v2.6h-2.6zM338 811.2h2.6v2.6h-2.6zM374.4 811.2h2.6v2.6h-2.6zM338 813.8h2.6v2.6h-2.6zM345.8 813.8h2.6v2.6h-2.6zM296.4 816.4h2.6v2.6h-2.6zM403 816.4h2.6v2.6h-2.6zM369.2 821.6h2.6v2.6h-2.6zM239.2 824.2h2.6v2.6h-2.6zM306.8 824.2h2.6v2.6h-2.6zM364 824.2h2.6v2.6h-2.6zM247 829.4h2.6v2.6h-2.6zM390 829.4h2.6v2.6h-2.6zM280.8 832h2.6v2.6h-2.6zM286 834.6h2.6v2.6h-2.6zM382.2 834.6h2.6v2.6h-2.6zM340.6 837.2h2.6v2.6h-2.6zM361.4 837.2h2.6v2.6h-2.6zM371.8 837.2h2.6v2.6h-2.6zM395.2 839.8h2.6v2.6h-2.6zM348.4 845h2.6v2.6h-2.6zM312 847.6h2.6v2.6h-2.6zM351 847.6h2.6v2.6h-2.6zM392.6 847.6h2.6v2.6h-2.6zM309.4 852.8h2.6v2.6h-2.6zM306.8 855.4h2.6v2.6h-2.6zM322.4 855.4h2.6v2.6h-2.6zM353.6 855.4h2.6v2.6h-2.6zM330.2 858h2.6v2.6h-2.6zM283.4 860.6h2.6v2.6h-2.6zM413.4 863.2h5.2v2.6h-5.2zM410.8 865.8h2.6v2.6h-2.6zM280.8 868.4h2.6v2.6h-2.6zM291.2 868.4h2.6v2.6h-2.6zM366.6 868.4h2.6v2.6h-2.6zM286 871h2.6v2.6h-2.6zM390 873.6h2.6v2.6h-2.6zM405.6 873.6h2.6v2.6h-2.6zM410.8 873.6h2.6v2.6h-2.6zM319.8 876.2h2.6v2.6h-2.6zM369.2 876.2h2.6v2.6h-2.6zM288.6 881.4h2.6v2.6h-2.6zM319.8 884h2.6v2.6h-2.6zM392.6 884h2.6v2.6h-2.6zM408.2 884h2.6v2.6h-2.6zM231.4 886.6h2.6v2.6h-2.6zM234 891.8h2.6v2.6h-2.6zM312 891.8h2.6v2.6h-2.6zM351 891.8h2.6v2.6h-2.6zM395.2 891.8h2.6v2.6h-2.6zM416 891.8h5.2v2.6h-5.2zM226.2 894.4h2.6v2.6h-2.6zM262.6 894.4h2.6v2.6h-2.6zM306.8 894.4h2.6v2.6h-2.6zM244.4 897h2.6v2.6h-2.6zM397.8 897h2.6v2.6h-2.6zM226.2 899.6h2.6v2.6h-2.6zM231.4 899.6h2.6v2.6h-2.6zM392.6 899.6h2.6v2.6h-2.6zM231.4 902.2h2.6v2.6h-2.6zM236.6 902.2h5.2v2.6h-5.2zM392.6 904.8h2.6v2.6h-2.6zM400.4 907.4h2.6v2.6h-2.6zM244.4 910h2.6v2.6h-2.6zM231.4 912.6h2.6v2.6h-2.6zM395.2 912.6h2.6v2.6h-2.6zM239.2 915.2h2.6v2.6h-2.6zM278.2 917.8h2.6v2.6h-2.6zM283.4 917.8h2.6v2.6h-2.6zM361.4 923h2.6v2.6h-2.6zM358.8 925.6h2.6v2.6h-2.6zM361.4 930.8h2.6v2.6h-2.6zM366.6 933.4h2.6v2.6h-2.6zM371.8 946.4h2.6v2.6h-2.6z"/>
<path fill="#ffa008" d="M322.4 733.2h2.6v2.6h-2.6zM265.2 738.4h2.6v2.6h-2.6zM322.4 738.4h2.6v2.6h-2.6zM249.6 748.8h5.2v2.6h-5.2zM239.2 759.2h2.6v2.6h-2.6zM322.4 767h2.6v2.6h-2.6zM322.4 772.2h2.6v2.6h-2.6zM317.2 777.4h5.2v2.6h-5.2zM403 777.4h2.6v2.6h-2.6zM317.2 780h5.2v2.6h-5.2zM325 780h5.2v2.6h-5.2zM322.4 782.6h2.6v2.6h-2.6zM317.2 793h5.2v2.6h-5.2zM330.2 793h2.6v2.6h-2.6zM325 795.6h2.6v2.6h-2.6zM319.8 798.2h2.6v2.6h-2.6zM325 798.2h2.6v2.6h-2.6zM330.2 798.2h2.6v2.6h-2.6zM314.6 800.8h5.2v2.6h-5.2zM327.6 800.8h2.6v2.6h-2.6zM317.2 803.4h2.6v2.6h-2.6zM327.6 803.4h2.6v2.6h-2.6zM332.8 806h2.6v2.6h-2.6zM309.4 808.6h2.6v2.6h-2.6zM301.6 811.2h2.6v2.6h-2.6zM304.2 813.8h2.6v2.6h-2.6zM335.4 813.8h2.6v2.6h-2.6zM343.2 813.8h2.6v2.6h-2.6zM304.2 816.4h2.6v2.6h-2.6zM309.4 816.4h2.6v2.6h-2.6zM340.6 816.4h2.6v2.6h-2.6zM304.2 819h2.6v2.6h-2.6zM345.8 819h2.6v2.6h-2.6zM408.2 819h5.2v2.6h-5.2zM231.4 821.6h2.6v2.6h-2.6zM345.8 821.6h2.6v2.6h-2.6zM408.2 821.6h2.6v2.6h-2.6zM304.2 824.2h2.6v2.6h-2.6zM338 824.2h7.8v2.6h-7.8zM338 826.8h2.6v2.6h-2.6zM301.6 829.4h2.6v2.6h-2.6zM293.8 834.6h2.6v2.6h-2.6zM351 839.8h2.6v2.6h-2.6zM353.6 842.4h2.6v2.6h-2.6zM314.6 850.2h2.6v2.6h-2.6zM319.8 850.2h2.6v2.6h-2.6zM286 852.8h2.6v2.6h-2.6zM301.6 852.8h5.2v2.6h-5.2zM338 852.8h2.6v2.6h-2.6zM288.6 858h2.6v2.6h-2.6zM288.6 860.6h5.2v2.6h-5.2zM312 860.6h2.6v2.6h-2.6zM343.2 860.6h2.6v2.6h-2.6zM413.4 860.6h2.6v2.6h-2.6zM291.2 863.2h2.6v2.6h-2.6zM356.2 865.8h2.6v2.6h-2.6zM283.4 868.4h2.6v2.6h-2.6zM236.6 873.6h2.6v2.6h-2.6zM413.4 873.6h2.6v2.6h-2.6zM280.8 876.2h2.6v2.6h-2.6zM231.4 878.8h2.6v2.6h-2.6zM283.4 878.8h2.6v2.6h-2.6zM247 884h2.6v2.6h-2.6zM275.6 884h5.2v2.6h-5.2zM286 884h2.6v2.6h-2.6zM395.2 884h2.6v2.6h-2.6zM228.8 886.6h2.6v2.6h-2.6zM239.2 886.6h2.6v2.6h-2.6zM283.4 886.6h2.6v2.6h-2.6zM395.2 886.6h2.6v2.6h-2.6zM231.4 891.8h2.6v2.6h-2.6zM265.2 891.8h5.2v2.6h-5.2zM384.8 891.8h2.6v2.6h-2.6zM231.4 894.4h2.6v2.6h-2.6zM236.6 894.4h2.6v2.6h-2.6zM257.4 894.4h2.6v2.6h-2.6zM265.2 894.4h2.6v2.6h-2.6zM379.6 894.4h2.6v2.6h-2.6zM395.2 894.4h2.6v2.6h-2.6zM400.4 894.4h2.6v2.6h-2.6zM241.8 897h2.6v2.6h-2.6zM270.4 897h2.6v2.6h-2.6zM403 897h5.2v2.6h-5.2zM236.6 899.6h2.6v2.6h-2.6zM244.4 899.6h2.6v2.6h-2.6zM413.4 899.6h2.6v2.6h-2.6zM228.8 902.2h2.6v2.6h-2.6zM241.8 902.2h2.6v2.6h-2.6zM236.6 904.8h2.6v2.6h-2.6zM236.6 907.4h2.6v2.6h-2.6zM241.8 912.6h2.6v2.6h-2.6zM239.2 917.8h2.6v2.6h-2.6zM358.8 930.8h2.6v2.6h-2.6zM356.2 936h2.6v2.6h-2.6zM361.4 938.6h2.6v2.6h-2.6zM371.8 943.8h2.6v2.6h-2.6z"/>
<path fill="#fff500" d="M325 733.2h13v2.6h-13zM351 733.2h2.6v2.6h-2.6zM325 735.8h13v2.6h-13zM382.2 735.8h7.8v2.6h-7.8zM267.8 738.4h2.6v2.6h-2.6zM325 738.4h2.6v2.6h-2.6zM330.2 738.4h5.2v2.6h-5.2zM379.6 738.4h10.4v2.6h-10.4zM397.8 756.6h5.2v2.6h-5.2zM322.4 769.6h2.6v2.6h-2.6zM322.4 774.8h2.6v2.6h-2.6zM408.2 774.8h5.2v2.6h-5.2zM405.6 777.4h7.8v2.6h-7.8zM314.6 785.2h2.6v2.6h-2.6zM319.8 785.2h5.2v2.6h-5.2zM327.6 785.2h2.6v2.6h-2.6zM319.8 787.8h5.2v2.6h-5.2zM317.2 790.4h7.8v2.6h-7.8zM322.4 793h2.6v2.6h-2.6zM327.6 793h2.6v2.6h-2.6zM319.8 795.6h5.2v2.6h-5.2zM327.6 795.6h2.6v2.6h-2.6zM314.6 798.2h2.6v2.6h-2.6zM327.6 798.2h2.6v2.6h-2.6zM322.4 800.8h2.6v2.6h-2.6zM223.6 803.4h2.6v2.6h-2.6zM319.8 803.4h5.2v2.6h-5.2zM319.8 806h5.2v2.6h-5.2zM335.4 806h2.6v2.6h-2.6zM312 808.6h2.6v2.6h-2.6zM319.8 808.6h2.6v2.6h-2.6zM332.8 808.6h5.2v2.6h-5.2zM312 811.2h2.6v2.6h-2.6zM330.2 811.2h5.2v2.6h-5.2zM340.6 811.2h2.6v2.6h-2.6zM299 813.8h5.2v2.6h-5.2zM309.4 813.8h2.6v2.6h-2.6zM340.6 813.8h2.6v2.6h-2.6zM299 816.4h2.6v2.6h-2.6zM306.8 816.4h2.6v2.6h-2.6zM343.2 816.4h2.6v2.6h-2.6zM231.4 819h2.6v2.6h-2.6zM299 819h5.2v2.6h-5.2zM306.8 819h5.2v2.6h-5.2zM304.2 821.6h2.6v2.6h-2.6zM410.8 821.6h2.6v2.6h-2.6zM231.4 824.2h2.6v2.6h-2.6zM301.6 824.2h2.6v2.6h-2.6zM348.4 824.2h2.6v2.6h-2.6zM408.2 824.2h5.2v2.6h-5.2zM299 826.8h2.6v2.6h-2.6zM343.2 826.8h5.2v2.6h-5.2zM345.8 829.4h2.6v2.6h-2.6zM293.8 837.2h2.6v2.6h-2.6zM296.4 842.4h2.6v2.6h-2.6zM317.2 842.4h2.6v2.6h-2.6zM351 842.4h2.6v2.6h-2.6zM293.8 845h2.6v2.6h-2.6zM309.4 845h20.8v2.6h-20.8zM351 845h2.6v2.6h-2.6zM306.8 847.6h5.2v2.6h-5.2zM314.6 847.6h18.2v2.6h-18.2zM309.4 850.2h5.2v2.6h-5.2zM317.2 850.2h2.6v2.6h-2.6zM322.4 850.2h5.2v2.6h-5.2zM330.2 850.2h5.2v2.6h-5.2zM343.2 850.2h2.6v2.6h-2.6zM288.6 852.8h2.6v2.6h-2.6zM306.8 852.8h2.6v2.6h-2.6zM312 852.8h2.6v2.6h-2.6zM317.2 852.8h18.2v2.6h-18.2zM340.6 852.8h2.6v2.6h-2.6zM345.8 852.8h5.2v2.6h-5.2zM288.6 855.4h2.6v2.6h-2.6zM304.2 855.4h2.6v2.6h-2.6zM314.6 855.4h7.8v2.6h-7.8zM325 855.4h5.2v2.6h-5.2zM335.4 855.4h18.2v2.6h-18.2zM286 858h2.6v2.6h-2.6zM291.2 858h2.6v2.6h-2.6zM306.8 858h7.8v2.6h-7.8zM317.2 858h7.8v2.6h-7.8zM327.6 858h2.6v2.6h-2.6zM340.6 858h7.8v2.6h-7.8zM286 860.6h2.6v2.6h-2.6zM319.8 860.6h2.6v2.6h-2.6zM345.8 860.6h5.2v2.6h-5.2zM280.8 863.2h7.8v2.6h-7.8zM356.2 863.2h2.6v2.6h-2.6zM280.8 865.8h7.8v2.6h-7.8zM278.2 868.4h2.6v2.6h-2.6zM288.6 868.4h2.6v2.6h-2.6zM364 868.4h2.6v2.6h-2.6zM231.4 871h2.6v2.6h-2.6zM280.8 871h5.2v2.6h-5.2zM288.6 871h2.6v2.6h-2.6zM364 871h5.2v2.6h-5.2zM228.8 873.6h5.2v2.6h-5.2zM361.4 873.6h7.8v2.6h-7.8zM228.8 876.2h5.2v2.6h-5.2zM361.4 876.2h5.2v2.6h-5.2zM278.2 878.8h2.6v2.6h-2.6zM286 878.8h2.6v2.6h-2.6zM278.2 881.4h2.6v2.6h-2.6zM364 881.4h2.6v2.6h-2.6zM283.4 884h2.6v2.6h-2.6zM234 886.6h2.6v2.6h-2.6zM361.4 886.6h2.6v2.6h-2.6zM390 886.6h2.6v2.6h-2.6zM410.8 886.6h2.6v2.6h-2.6zM358.8 889.2h2.6v2.6h-2.6zM379.6 891.8h5.2v2.6h-5.2zM270.4 894.4h2.6v2.6h-2.6zM382.2 894.4h5.2v2.6h-5.2zM228.8 897h2.6v2.6h-2.6zM234 897h2.6v2.6h-2.6zM267.8 897h2.6v2.6h-2.6zM234 899.6h2.6v2.6h-2.6zM358.8 928.2h7.8v2.6h-7.8zM356.2 930.8h2.6v2.6h-2.6zM364 930.8h2.6v2.6h-2.6zM358.8 933.4h2.6v2.6h-2.6z"/></g>
<clipPath id="c32"><rect x="430" y="701" width="290" height="265"/></clipPath><g clip-path="url(#c32)">
<use href="#brain" transform="translate(446.2 701) scale(0.2686)"/>
</g>
<g filter="url(#hb)"><path fill="#e41c0a" d="M587.6 733.2h2.6v2.6h-2.6zM548.6 741h2.6v2.6h-2.6zM559 743.6h2.6v2.6h-2.6zM585 756.6h5.2v2.6h-5.2zM621.4 759.2h5.2v2.6h-5.2zM507 764.4h2.6v2.6h-2.6zM559 764.4h2.6v2.6h-2.6zM525.2 769.6h2.6v2.6h-2.6zM556.4 769.6h5.2v2.6h-5.2zM504.4 772.2h2.6v2.6h-2.6zM535.6 772.2h2.6v2.6h-2.6zM608.4 774.8h2.6v2.6h-2.6zM579.8 780h2.6v2.6h-2.6zM514.8 782.6h2.6v2.6h-2.6zM530.4 782.6h5.2v2.6h-5.2zM572 782.6h2.6v2.6h-2.6zM608.4 782.6h2.6v2.6h-2.6zM566.8 785.2h2.6v2.6h-2.6zM582.4 785.2h2.6v2.6h-2.6zM639.6 785.2h2.6v2.6h-2.6zM585 790.4h5.2v2.6h-5.2zM569.4 793h2.6v2.6h-2.6zM618.8 793h2.6v2.6h-2.6zM642.2 793h2.6v2.6h-2.6zM626.6 795.6h2.6v2.6h-2.6zM494 798.2h5.2v2.6h-5.2zM517.4 798.2h2.6v2.6h-2.6zM569.4 798.2h2.6v2.6h-2.6zM587.6 798.2h5.2v2.6h-5.2zM652.6 798.2h2.6v2.6h-2.6zM660.4 798.2h2.6v2.6h-2.6zM564.2 800.8h2.6v2.6h-2.6zM569.4 800.8h2.6v2.6h-2.6zM639.6 800.8h2.6v2.6h-2.6zM483.6 803.4h2.6v2.6h-2.6zM577.2 803.4h2.6v2.6h-2.6zM527.8 806h2.6v2.6h-2.6zM595.4 806h5.2v2.6h-5.2zM486.2 808.6h2.6v2.6h-2.6zM530.4 808.6h2.6v2.6h-2.6zM585 808.6h2.6v2.6h-2.6zM639.6 808.6h2.6v2.6h-2.6zM600.6 811.2h2.6v2.6h-2.6zM548.6 813.8h2.6v2.6h-2.6zM535.6 816.4h2.6v2.6h-2.6zM577.2 816.4h2.6v2.6h-2.6zM587.6 816.4h2.6v2.6h-2.6zM598 819h2.6v2.6h-2.6zM660.4 819h2.6v2.6h-2.6zM504.4 821.6h7.8v2.6h-7.8zM553.8 821.6h5.2v2.6h-5.2zM616.2 821.6h2.6v2.6h-2.6zM660.4 821.6h2.6v2.6h-2.6zM533 824.2h2.6v2.6h-2.6zM530.4 829.4h5.2v2.6h-5.2zM644.8 829.4h2.6v2.6h-2.6zM650 829.4h2.6v2.6h-2.6zM533 832h2.6v2.6h-2.6zM564.2 832h2.6v2.6h-2.6zM613.6 834.6h2.6v2.6h-2.6zM486.2 839.8h2.6v2.6h-2.6zM512.2 845h2.6v2.6h-2.6zM509.6 847.6h2.6v2.6h-2.6zM629.2 850.2h2.6v2.6h-2.6zM504.4 852.8h2.6v2.6h-2.6zM559 852.8h2.6v2.6h-2.6zM608.4 852.8h2.6v2.6h-2.6zM491.4 855.4h2.6v2.6h-2.6zM616.2 855.4h2.6v2.6h-2.6zM543.4 858h2.6v2.6h-2.6zM566.8 858h2.6v2.6h-2.6zM603.2 860.6h5.2v2.6h-5.2zM637 860.6h2.6v2.6h-2.6zM559 865.8h2.6v2.6h-2.6zM579.8 871h2.6v2.6h-2.6zM631.8 873.6h2.6v2.6h-2.6zM501.8 876.2h2.6v2.6h-2.6zM553.8 876.2h2.6v2.6h-2.6zM582.4 876.2h2.6v2.6h-2.6zM616.2 876.2h2.6v2.6h-2.6zM639.6 876.2h2.6v2.6h-2.6zM507 878.8h2.6v2.6h-2.6zM587.6 878.8h2.6v2.6h-2.6zM564.2 881.4h2.6v2.6h-2.6zM579.8 881.4h10.4v2.6h-10.4zM481 884h2.6v2.6h-2.6zM564.2 884h5.2v2.6h-5.2zM538.2 889.2h5.2v2.6h-5.2zM478.4 891.8h2.6v2.6h-2.6zM600.6 891.8h5.2v2.6h-5.2zM660.4 894.4h2.6v2.6h-2.6zM483.6 899.6h2.6v2.6h-2.6zM626.6 920.4h2.6v2.6h-2.6zM629.2 928.2h2.6v2.6h-2.6zM613.6 936h2.6v2.6h-2.6zM621.4 938.6h2.6v2.6h-2.6z"/>
<path fill="#ff5a08" d="M611 720.2h2.6v2.6h-2.6zM517.4 735.8h2.6v2.6h-2.6zM579.8 738.4h2.6v2.6h-2.6zM561.6 743.6h2.6v2.6h-2.6zM587.6 743.6h2.6v2.6h-2.6zM496.6 756.6h2.6v2.6h-2.6zM556.4 764.4h2.6v2.6h-2.6zM642.2 764.4h2.6v2.6h-2.6zM634.4 772.2h2.6v2.6h-2.6zM574.6 774.8h2.6v2.6h-2.6zM663 774.8h2.6v2.6h-2.6zM566.8 777.4h5.2v2.6h-5.2zM564.2 785.2h2.6v2.6h-2.6zM608.4 785.2h2.6v2.6h-2.6zM569.4 787.8h2.6v2.6h-2.6zM577.2 787.8h2.6v2.6h-2.6zM582.4 787.8h2.6v2.6h-2.6zM564.2 790.4h2.6v2.6h-2.6zM652.6 790.4h2.6v2.6h-2.6zM522.6 793h2.6v2.6h-2.6zM579.8 793h2.6v2.6h-2.6zM644.8 793h2.6v2.6h-2.6zM564.2 795.6h2.6v2.6h-2.6zM564.2 798.2h2.6v2.6h-2.6zM574.6 798.2h2.6v2.6h-2.6zM637 800.8h2.6v2.6h-2.6zM569.4 803.4h2.6v2.6h-2.6zM637 803.4h2.6v2.6h-2.6zM642.2 806h2.6v2.6h-2.6zM647.4 806h2.6v2.6h-2.6zM579.8 808.6h2.6v2.6h-2.6zM595.4 808.6h5.2v2.6h-5.2zM512.2 811.2h2.6v2.6h-2.6zM551.2 813.8h2.6v2.6h-2.6zM572 813.8h2.6v2.6h-2.6zM663 813.8h2.6v2.6h-2.6zM561.6 816.4h2.6v2.6h-2.6zM585 816.4h2.6v2.6h-2.6zM592.8 816.4h5.2v2.6h-5.2zM590.2 821.6h2.6v2.6h-2.6zM569.4 824.2h2.6v2.6h-2.6zM647.4 829.4h2.6v2.6h-2.6zM613.6 832h2.6v2.6h-2.6zM574.6 834.6h2.6v2.6h-2.6zM611 837.2h2.6v2.6h-2.6zM616.2 837.2h2.6v2.6h-2.6zM543.4 839.8h2.6v2.6h-2.6zM569.4 842.4h2.6v2.6h-2.6zM556.4 845h2.6v2.6h-2.6zM559 847.6h2.6v2.6h-2.6zM585 847.6h2.6v2.6h-2.6zM538.2 850.2h2.6v2.6h-2.6zM556.4 850.2h2.6v2.6h-2.6zM585 850.2h5.2v2.6h-5.2zM626.6 850.2h2.6v2.6h-2.6zM540.8 852.8h2.6v2.6h-2.6zM564.2 852.8h2.6v2.6h-2.6zM587.6 852.8h2.6v2.6h-2.6zM605.8 852.8h2.6v2.6h-2.6zM556.4 855.4h2.6v2.6h-2.6zM564.2 858h2.6v2.6h-2.6zM600.6 858h2.6v2.6h-2.6zM577.2 860.6h2.6v2.6h-2.6zM530.4 863.2h2.6v2.6h-2.6zM668.2 863.2h2.6v2.6h-2.6zM540.8 865.8h2.6v2.6h-2.6zM556.4 865.8h2.6v2.6h-2.6zM494 868.4h2.6v2.6h-2.6zM486.2 871h2.6v2.6h-2.6zM540.8 871h2.6v2.6h-2.6zM486.2 873.6h2.6v2.6h-2.6zM514.8 873.6h2.6v2.6h-2.6zM533 873.6h2.6v2.6h-2.6zM488.8 876.2h2.6v2.6h-2.6zM522.6 878.8h2.6v2.6h-2.6zM647.4 878.8h2.6v2.6h-2.6zM496.6 881.4h2.6v2.6h-2.6zM504.4 881.4h2.6v2.6h-2.6zM481 886.6h5.2v2.6h-5.2zM499.2 886.6h2.6v2.6h-2.6zM647.4 886.6h2.6v2.6h-2.6zM483.6 889.2h5.2v2.6h-5.2zM608.4 889.2h2.6v2.6h-2.6zM657.8 891.8h5.2v2.6h-5.2zM481 894.4h2.6v2.6h-2.6zM494 894.4h2.6v2.6h-2.6zM499.2 894.4h5.2v2.6h-5.2zM483.6 897h2.6v2.6h-2.6zM488.8 897h2.6v2.6h-2.6zM494 897h7.8v2.6h-7.8zM504.4 897h2.6v2.6h-2.6zM663 897h2.6v2.6h-2.6zM496.6 902.2h2.6v2.6h-2.6zM486.2 904.8h2.6v2.6h-2.6zM618.8 920.4h2.6v2.6h-2.6zM624 923h2.6v2.6h-2.6zM611 928.2h2.6v2.6h-2.6zM624 928.2h2.6v2.6h-2.6zM540.8 933.4h2.6v2.6h-2.6zM621.4 943.8h2.6v2.6h-2.6z"/>
<path fill="#ffa008" d="M574.6 730.6h2.6v2.6h-2.6zM587.6 730.6h2.6v2.6h-2.6zM585 733.2h2.6v2.6h-2.6zM574.6 735.8h2.6v2.6h-2.6zM585 738.4h2.6v2.6h-2.6zM631.8 738.4h2.6v2.6h-2.6zM501.8 751.4h2.6v2.6h-2.6zM652.6 756.6h2.6v2.6h-2.6zM657.8 769.6h2.6v2.6h-2.6zM572 774.8h2.6v2.6h-2.6zM569.4 782.6h2.6v2.6h-2.6zM577.2 782.6h2.6v2.6h-2.6zM574.6 785.2h5.2v2.6h-5.2zM530.4 787.8h5.2v2.6h-5.2zM566.8 787.8h2.6v2.6h-2.6zM533 790.4h2.6v2.6h-2.6zM566.8 790.4h2.6v2.6h-2.6zM572 790.4h2.6v2.6h-2.6zM582.4 790.4h2.6v2.6h-2.6zM650 790.4h2.6v2.6h-2.6zM533 793h2.6v2.6h-2.6zM652.6 793h2.6v2.6h-2.6zM569.4 795.6h2.6v2.6h-2.6zM579.8 795.6h2.6v2.6h-2.6zM572 800.8h5.2v2.6h-5.2zM579.8 800.8h2.6v2.6h-2.6zM572 803.4h5.2v2.6h-5.2zM644.8 803.4h2.6v2.6h-2.6zM587.6 806h2.6v2.6h-2.6zM561.6 808.6h2.6v2.6h-2.6zM574.6 808.6h2.6v2.6h-2.6zM556.4 811.2h5.2v2.6h-5.2zM564.2 813.8h5.2v2.6h-5.2zM600.6 813.8h2.6v2.6h-2.6zM598 816.4h5.2v2.6h-5.2zM559 821.6h5.2v2.6h-5.2zM598 824.2h2.6v2.6h-2.6zM600.6 829.4h2.6v2.6h-2.6zM598 832h2.6v2.6h-2.6zM548.6 834.6h2.6v2.6h-2.6zM603.2 837.2h5.2v2.6h-5.2zM566.8 839.8h2.6v2.6h-2.6zM600.6 839.8h2.6v2.6h-2.6zM561.6 842.4h2.6v2.6h-2.6zM566.8 842.4h2.6v2.6h-2.6zM577.2 842.4h2.6v2.6h-2.6zM546 845h5.2v2.6h-5.2zM569.4 845h2.6v2.6h-2.6zM574.6 845h2.6v2.6h-2.6zM582.4 845h2.6v2.6h-2.6zM579.8 847.6h2.6v2.6h-2.6zM600.6 847.6h5.2v2.6h-5.2zM561.6 850.2h2.6v2.6h-2.6zM595.4 850.2h5.2v2.6h-5.2zM538.2 852.8h2.6v2.6h-2.6zM543.4 852.8h2.6v2.6h-2.6zM566.8 852.8h2.6v2.6h-2.6zM543.4 855.4h2.6v2.6h-2.6zM561.6 855.4h5.2v2.6h-5.2zM600.6 855.4h2.6v2.6h-2.6zM608.4 855.4h5.2v2.6h-5.2zM538.2 858h2.6v2.6h-2.6zM559 858h2.6v2.6h-2.6zM572 858h2.6v2.6h-2.6zM569.4 860.6h2.6v2.6h-2.6zM574.6 860.6h2.6v2.6h-2.6zM665.6 860.6h2.6v2.6h-2.6zM605.8 863.2h5.2v2.6h-5.2zM527.8 865.8h2.6v2.6h-2.6zM608.4 865.8h5.2v2.6h-5.2zM663 865.8h2.6v2.6h-2.6zM540.8 868.4h2.6v2.6h-2.6zM527.8 871h2.6v2.6h-2.6zM483.6 878.8h2.6v2.6h-2.6zM618.8 881.4h2.6v2.6h-2.6zM660.4 881.4h5.2v2.6h-5.2zM491.4 884h2.6v2.6h-2.6zM644.8 884h2.6v2.6h-2.6zM486.2 886.6h2.6v2.6h-2.6zM491.4 886.6h2.6v2.6h-2.6zM520 886.6h2.6v2.6h-2.6zM481 889.2h2.6v2.6h-2.6zM491.4 889.2h2.6v2.6h-2.6zM520 889.2h2.6v2.6h-2.6zM481 891.8h2.6v2.6h-2.6zM522.6 891.8h2.6v2.6h-2.6zM486.2 897h2.6v2.6h-2.6zM481 899.6h2.6v2.6h-2.6zM496.6 899.6h2.6v2.6h-2.6zM488.8 902.2h5.2v2.6h-5.2zM613.6 920.4h2.6v2.6h-2.6zM538.2 923h2.6v2.6h-2.6zM616.2 923h5.2v2.6h-5.2zM546 925.6h2.6v2.6h-2.6zM616.2 925.6h2.6v2.6h-2.6zM608.4 928.2h2.6v2.6h-2.6zM611 930.8h2.6v2.6h-2.6zM618.8 936h2.6v2.6h-2.6zM624 936h5.2v2.6h-5.2zM618.8 938.6h2.6v2.6h-2.6zM624 938.6h2.6v2.6h-2.6zM618.8 941.2h2.6v2.6h-2.6z"/>
<path fill="#fff500" d="M577.2 730.6h10.4v2.6h-10.4zM629.2 730.6h2.6v2.6h-2.6zM637 730.6h2.6v2.6h-2.6zM577.2 733.2h7.8v2.6h-7.8zM629.2 733.2h5.2v2.6h-5.2zM637 733.2h2.6v2.6h-2.6zM577.2 735.8h10.4v2.6h-10.4zM629.2 735.8h7.8v2.6h-7.8zM577.2 738.4h2.6v2.6h-2.6zM582.4 738.4h2.6v2.6h-2.6zM637 738.4h5.2v2.6h-5.2zM639.6 741h2.6v2.6h-2.6zM499.2 751.4h2.6v2.6h-2.6zM494 754h2.6v2.6h-2.6zM652.6 754h2.6v2.6h-2.6zM494 756.6h2.6v2.6h-2.6zM486.2 767h2.6v2.6h-2.6zM486.2 769.6h2.6v2.6h-2.6zM574.6 769.6h2.6v2.6h-2.6zM660.4 769.6h2.6v2.6h-2.6zM574.6 772.2h2.6v2.6h-2.6zM657.8 772.2h2.6v2.6h-2.6zM657.8 774.8h5.2v2.6h-5.2zM657.8 777.4h5.2v2.6h-5.2zM574.6 780h2.6v2.6h-2.6zM566.8 782.6h2.6v2.6h-2.6zM579.8 782.6h2.6v2.6h-2.6zM569.4 785.2h5.2v2.6h-5.2zM579.8 785.2h2.6v2.6h-2.6zM572 787.8h5.2v2.6h-5.2zM530.4 790.4h2.6v2.6h-2.6zM574.6 790.4h2.6v2.6h-2.6zM530.4 793h2.6v2.6h-2.6zM566.8 793h2.6v2.6h-2.6zM572 793h7.8v2.6h-7.8zM566.8 795.6h2.6v2.6h-2.6zM574.6 795.6h5.2v2.6h-5.2zM582.4 795.6h2.6v2.6h-2.6zM650 795.6h2.6v2.6h-2.6zM579.8 798.2h2.6v2.6h-2.6zM585 806h2.6v2.6h-2.6zM564.2 808.6h2.6v2.6h-2.6zM590.2 808.6h5.2v2.6h-5.2zM561.6 811.2h5.2v2.6h-5.2zM590.2 811.2h2.6v2.6h-2.6zM561.6 813.8h2.6v2.6h-2.6zM590.2 813.8h2.6v2.6h-2.6zM551.2 816.4h2.6v2.6h-2.6zM556.4 816.4h5.2v2.6h-5.2zM551.2 821.6h2.6v2.6h-2.6zM592.8 821.6h5.2v2.6h-5.2zM548.6 824.2h2.6v2.6h-2.6zM553.8 824.2h2.6v2.6h-2.6zM551.2 826.8h7.8v2.6h-7.8zM598 826.8h2.6v2.6h-2.6zM572 834.6h2.6v2.6h-2.6zM546 837.2h5.2v2.6h-5.2zM572 837.2h7.8v2.6h-7.8zM548.6 839.8h2.6v2.6h-2.6zM572 839.8h7.8v2.6h-7.8zM603.2 839.8h2.6v2.6h-2.6zM546 842.4h2.6v2.6h-2.6zM572 842.4h5.2v2.6h-5.2zM603.2 842.4h2.6v2.6h-2.6zM564.2 845h2.6v2.6h-2.6zM572 845h2.6v2.6h-2.6zM577.2 845h2.6v2.6h-2.6zM603.2 845h2.6v2.6h-2.6zM566.8 847.6h2.6v2.6h-2.6zM572 847.6h7.8v2.6h-7.8zM540.8 850.2h2.6v2.6h-2.6zM564.2 850.2h5.2v2.6h-5.2zM572 850.2h2.6v2.6h-2.6zM577.2 850.2h5.2v2.6h-5.2zM592.8 850.2h2.6v2.6h-2.6zM561.6 852.8h2.6v2.6h-2.6zM569.4 852.8h5.2v2.6h-5.2zM577.2 852.8h2.6v2.6h-2.6zM590.2 852.8h10.4v2.6h-10.4zM538.2 855.4h5.2v2.6h-5.2zM569.4 855.4h5.2v2.6h-5.2zM577.2 855.4h5.2v2.6h-5.2zM590.2 855.4h10.4v2.6h-10.4zM577.2 858h2.6v2.6h-2.6zM590.2 858h10.4v2.6h-10.4zM613.6 858h2.6v2.6h-2.6zM530.4 860.6h5.2v2.6h-5.2zM543.4 860.6h2.6v2.6h-2.6zM595.4 860.6h2.6v2.6h-2.6zM527.8 863.2h2.6v2.6h-2.6zM533 863.2h10.4v2.6h-10.4zM663 863.2h5.2v2.6h-5.2zM533 865.8h7.8v2.6h-7.8zM616.2 865.8h5.2v2.6h-5.2zM665.6 865.8h2.6v2.6h-2.6zM483.6 868.4h2.6v2.6h-2.6zM530.4 868.4h10.4v2.6h-10.4zM613.6 868.4h7.8v2.6h-7.8zM481 871h5.2v2.6h-5.2zM533 871h5.2v2.6h-5.2zM613.6 871h7.8v2.6h-7.8zM481 873.6h5.2v2.6h-5.2zM613.6 873.6h7.8v2.6h-7.8zM618.8 876.2h2.6v2.6h-2.6zM616.2 878.8h5.2v2.6h-5.2zM522.6 884h2.6v2.6h-2.6zM647.4 884h2.6v2.6h-2.6zM663 884h2.6v2.6h-2.6zM642.2 886.6h5.2v2.6h-5.2zM494 889.2h2.6v2.6h-2.6zM522.6 889.2h2.6v2.6h-2.6zM488.8 891.8h2.6v2.6h-2.6zM494 891.8h2.6v2.6h-2.6zM631.8 891.8h2.6v2.6h-2.6zM496.6 894.4h2.6v2.6h-2.6zM491.4 897h2.6v2.6h-2.6zM488.8 899.6h2.6v2.6h-2.6zM543.4 923h2.6v2.6h-2.6zM543.4 925.6h2.6v2.6h-2.6zM613.6 925.6h2.6v2.6h-2.6zM621.4 925.6h7.8v2.6h-7.8zM616.2 928.2h7.8v2.6h-7.8zM538.2 930.8h2.6v2.6h-2.6zM608.4 930.8h2.6v2.6h-2.6zM613.6 930.8h5.2v2.6h-5.2zM621.4 930.8h2.6v2.6h-2.6zM626.6 930.8h2.6v2.6h-2.6zM613.6 933.4h2.6v2.6h-2.6zM618.8 933.4h2.6v2.6h-2.6zM624 933.4h2.6v2.6h-2.6zM629.2 933.4h2.6v2.6h-2.6zM611 936h2.6v2.6h-2.6zM621.4 936h2.6v2.6h-2.6z"/></g>
<use href="#brain" transform="translate(693.5 701) scale(0.2686)"/>
<g filter="url(#hb)"><path fill="#e41c0a" d="M847.6 722.8h2.6v2.6h-2.6zM852.8 725.4h2.6v2.6h-2.6zM806 738.4h2.6v2.6h-2.6zM772.2 746.2h2.6v2.6h-2.6zM790.4 746.2h2.6v2.6h-2.6zM865.8 746.2h2.6v2.6h-2.6zM824.2 764.4h2.6v2.6h-2.6zM889.2 769.6h2.6v2.6h-2.6zM774.8 772.2h2.6v2.6h-2.6zM741 774.8h2.6v2.6h-2.6zM785.2 777.4h2.6v2.6h-2.6zM826.8 780h2.6v2.6h-2.6zM878.8 780h2.6v2.6h-2.6zM881.4 782.6h2.6v2.6h-2.6zM811.2 787.8h2.6v2.6h-2.6zM816.4 787.8h5.2v2.6h-5.2zM761.8 795.6h2.6v2.6h-2.6zM826.8 798.2h2.6v2.6h-2.6zM842.4 798.2h2.6v2.6h-2.6zM819 808.6h2.6v2.6h-2.6zM845 811.2h2.6v2.6h-2.6zM865.8 811.2h5.2v2.6h-5.2zM811.2 816.4h2.6v2.6h-2.6zM733.2 821.6h2.6v2.6h-2.6zM780 821.6h2.6v2.6h-2.6zM795.6 821.6h2.6v2.6h-2.6zM821.6 824.2h2.6v2.6h-2.6zM832 824.2h2.6v2.6h-2.6zM795.6 826.8h2.6v2.6h-2.6zM821.6 826.8h5.2v2.6h-5.2zM759.2 829.4h2.6v2.6h-2.6zM803.4 829.4h5.2v2.6h-5.2zM847.6 829.4h2.6v2.6h-2.6zM826.8 837.2h2.6v2.6h-2.6zM743.6 839.8h2.6v2.6h-2.6zM819 839.8h2.6v2.6h-2.6zM876.2 839.8h2.6v2.6h-2.6zM782.6 850.2h2.6v2.6h-2.6zM813.8 852.8h2.6v2.6h-2.6zM780 855.4h2.6v2.6h-2.6zM769.6 858h2.6v2.6h-2.6zM847.6 858h2.6v2.6h-2.6zM858 860.6h5.2v2.6h-5.2zM735.8 871h2.6v2.6h-2.6zM738.4 873.6h2.6v2.6h-2.6zM806 876.2h5.2v2.6h-5.2zM769.6 881.4h2.6v2.6h-2.6zM772.2 886.6h2.6v2.6h-2.6zM785.2 886.6h2.6v2.6h-2.6zM730.6 889.2h2.6v2.6h-2.6zM738.4 889.2h2.6v2.6h-2.6zM855.4 889.2h2.6v2.6h-2.6zM743.6 891.8h2.6v2.6h-2.6zM769.6 891.8h2.6v2.6h-2.6zM837.2 894.4h2.6v2.6h-2.6zM780 917.8h2.6v2.6h-2.6zM860.6 920.4h2.6v2.6h-2.6zM865.8 920.4h2.6v2.6h-2.6zM774.8 923h2.6v2.6h-2.6zM774.8 925.6h2.6v2.6h-2.6zM782.6 925.6h2.6v2.6h-2.6zM873.6 930.8h2.6v2.6h-2.6zM780 936h2.6v2.6h-2.6zM863.2 938.6h2.6v2.6h-2.6z"/>
<path fill="#ff5a08" d="M819 735.8h2.6v2.6h-2.6zM860.6 751.4h2.6v2.6h-2.6zM743.6 759.2h2.6v2.6h-2.6zM787.8 772.2h2.6v2.6h-2.6zM899.6 780h2.6v2.6h-2.6zM782.6 782.6h2.6v2.6h-2.6zM811.2 785.2h2.6v2.6h-2.6zM826.8 787.8h2.6v2.6h-2.6zM829.4 790.4h2.6v2.6h-2.6zM780 793h2.6v2.6h-2.6zM863.2 793h2.6v2.6h-2.6zM777.4 795.6h2.6v2.6h-2.6zM813.8 798.2h2.6v2.6h-2.6zM806 800.8h2.6v2.6h-2.6zM891.8 800.8h2.6v2.6h-2.6zM826.8 806h2.6v2.6h-2.6zM772.2 808.6h2.6v2.6h-2.6zM816.4 811.2h2.6v2.6h-2.6zM806 816.4h2.6v2.6h-2.6zM832 816.4h2.6v2.6h-2.6zM798.2 819h2.6v2.6h-2.6zM800.8 821.6h2.6v2.6h-2.6zM787.8 826.8h2.6v2.6h-2.6zM876.2 834.6h2.6v2.6h-2.6zM816.4 839.8h2.6v2.6h-2.6zM826.8 839.8h2.6v2.6h-2.6zM806 845h2.6v2.6h-2.6zM829.4 850.2h2.6v2.6h-2.6zM897 852.8h2.6v2.6h-2.6zM842.4 860.6h2.6v2.6h-2.6zM787.8 863.2h2.6v2.6h-2.6zM824.2 865.8h2.6v2.6h-2.6zM842.4 871h2.6v2.6h-2.6zM738.4 884h2.6v2.6h-2.6zM837.2 884h2.6v2.6h-2.6zM741 886.6h2.6v2.6h-2.6zM746.2 886.6h2.6v2.6h-2.6zM743.6 889.2h2.6v2.6h-2.6zM741 894.4h2.6v2.6h-2.6zM777.4 920.4h5.2v2.6h-5.2zM782.6 923h2.6v2.6h-2.6zM868.4 923h5.2v2.6h-5.2zM777.4 925.6h2.6v2.6h-2.6zM855.4 925.6h5.2v2.6h-5.2zM868.4 925.6h2.6v2.6h-2.6zM782.6 928.2h2.6v2.6h-2.6zM860.6 928.2h2.6v2.6h-2.6zM852.8 930.8h2.6v2.6h-2.6zM860.6 933.4h2.6v2.6h-2.6zM871 933.4h2.6v2.6h-2.6zM777.4 936h2.6v2.6h-2.6zM871 941.2h2.6v2.6h-2.6z"/>
<path fill="#ffa008" d="M832 730.6h2.6v2.6h-2.6zM834.6 733.2h2.6v2.6h-2.6zM873.6 735.8h2.6v2.6h-2.6zM884 735.8h2.6v2.6h-2.6zM826.8 741h2.6v2.6h-2.6zM741 756.6h2.6v2.6h-2.6zM741 759.2h2.6v2.6h-2.6zM738.4 767h2.6v2.6h-2.6zM821.6 772.2h2.6v2.6h-2.6zM821.6 780h2.6v2.6h-2.6zM904.8 780h2.6v2.6h-2.6zM819 785.2h2.6v2.6h-2.6zM813.8 787.8h2.6v2.6h-2.6zM821.6 787.8h2.6v2.6h-2.6zM806 790.4h7.8v2.6h-7.8zM821.6 790.4h2.6v2.6h-2.6zM808.6 793h5.2v2.6h-5.2zM826.8 793h2.6v2.6h-2.6zM780 795.6h2.6v2.6h-2.6zM816.4 806h10.4v2.6h-10.4zM808.6 808.6h2.6v2.6h-2.6zM826.8 808.6h7.8v2.6h-7.8zM800.8 811.2h2.6v2.6h-2.6zM813.8 811.2h2.6v2.6h-2.6zM819 811.2h2.6v2.6h-2.6zM829.4 811.2h2.6v2.6h-2.6zM798.2 826.8h2.6v2.6h-2.6zM842.4 829.4h2.6v2.6h-2.6zM842.4 834.6h2.6v2.6h-2.6zM829.4 845h2.6v2.6h-2.6zM834.6 845h2.6v2.6h-2.6zM824.2 850.2h2.6v2.6h-2.6zM816.4 855.4h2.6v2.6h-2.6zM850.2 858h2.6v2.6h-2.6zM852.8 860.6h2.6v2.6h-2.6zM852.8 865.8h2.6v2.6h-2.6zM777.4 868.4h2.6v2.6h-2.6zM850.2 868.4h2.6v2.6h-2.6zM860.6 878.8h2.6v2.6h-2.6zM730.6 881.4h2.6v2.6h-2.6zM782.6 886.6h2.6v2.6h-2.6zM884 886.6h2.6v2.6h-2.6zM767 889.2h2.6v2.6h-2.6zM733.2 891.8h5.2v2.6h-5.2zM878.8 891.8h2.6v2.6h-2.6zM738.4 897h2.6v2.6h-2.6zM730.6 899.6h2.6v2.6h-2.6zM863.2 923h5.2v2.6h-5.2zM860.6 925.6h2.6v2.6h-2.6zM871 925.6h5.2v2.6h-5.2zM852.8 928.2h2.6v2.6h-2.6zM863.2 928.2h5.2v2.6h-5.2zM873.6 928.2h2.6v2.6h-2.6zM777.4 930.8h2.6v2.6h-2.6zM871 930.8h2.6v2.6h-2.6zM777.4 933.4h2.6v2.6h-2.6zM782.6 933.4h2.6v2.6h-2.6zM873.6 933.4h5.2v2.6h-5.2zM863.2 936h2.6v2.6h-2.6zM868.4 936h5.2v2.6h-5.2zM852.8 938.6h2.6v2.6h-2.6zM858 938.6h5.2v2.6h-5.2z"/>
<path fill="#fff500" d="M824.2 730.6h7.8v2.6h-7.8zM824.2 733.2h10.4v2.6h-10.4zM850.2 733.2h2.6v2.6h-2.6zM873.6 733.2h13v2.6h-13zM824.2 735.8h10.4v2.6h-10.4zM876.2 735.8h7.8v2.6h-7.8zM824.2 738.4h10.4v2.6h-10.4zM876.2 738.4h2.6v2.6h-2.6zM743.6 754h2.6v2.6h-2.6zM743.6 756.6h5.2v2.6h-5.2zM894.4 756.6h2.6v2.6h-2.6zM746.2 759.2h2.6v2.6h-2.6zM738.4 769.6h2.6v2.6h-2.6zM819 772.2h2.6v2.6h-2.6zM902.2 772.2h2.6v2.6h-2.6zM821.6 774.8h2.6v2.6h-2.6zM899.6 774.8h7.8v2.6h-7.8zM899.6 777.4h7.8v2.6h-7.8zM821.6 782.6h2.6v2.6h-2.6zM824.2 785.2h2.6v2.6h-2.6zM816.4 790.4h5.2v2.6h-5.2zM821.6 793h2.6v2.6h-2.6zM829.4 793h2.6v2.6h-2.6zM811.2 795.6h5.2v2.6h-5.2zM819 795.6h5.2v2.6h-5.2zM829.4 795.6h2.6v2.6h-2.6zM808.6 798.2h2.6v2.6h-2.6zM819 798.2h5.2v2.6h-5.2zM821.6 800.8h2.6v2.6h-2.6zM829.4 800.8h2.6v2.6h-2.6zM808.6 803.4h10.4v2.6h-10.4zM834.6 808.6h2.6v2.6h-2.6zM803.4 811.2h2.6v2.6h-2.6zM808.6 811.2h2.6v2.6h-2.6zM834.6 811.2h5.2v2.6h-5.2zM798.2 813.8h5.2v2.6h-5.2zM806 813.8h2.6v2.6h-2.6zM834.6 813.8h5.2v2.6h-5.2zM800.8 816.4h2.6v2.6h-2.6zM834.6 816.4h5.2v2.6h-5.2zM800.8 819h2.6v2.6h-2.6zM837.2 819h2.6v2.6h-2.6zM842.4 832h2.6v2.6h-2.6zM813.8 839.8h2.6v2.6h-2.6zM821.6 839.8h5.2v2.6h-5.2zM811.2 842.4h15.6v2.6h-15.6zM832 842.4h2.6v2.6h-2.6zM808.6 845h2.6v2.6h-2.6zM821.6 845h7.8v2.6h-7.8zM811.2 847.6h23.4v2.6h-23.4zM808.6 850.2h7.8v2.6h-7.8zM826.8 850.2h2.6v2.6h-2.6zM834.6 850.2h5.2v2.6h-5.2zM821.6 852.8h5.2v2.6h-5.2zM837.2 852.8h10.4v2.6h-10.4zM834.6 855.4h2.6v2.6h-2.6zM839.8 855.4h10.4v2.6h-10.4zM837.2 858h5.2v2.6h-5.2zM845 858h2.6v2.6h-2.6zM845 860.6h7.8v2.6h-7.8zM777.4 863.2h10.4v2.6h-10.4zM850.2 863.2h2.6v2.6h-2.6zM782.6 865.8h2.6v2.6h-2.6zM907.4 865.8h2.6v2.6h-2.6zM774.8 868.4h2.6v2.6h-2.6zM780 868.4h2.6v2.6h-2.6zM785.2 868.4h5.2v2.6h-5.2zM852.8 868.4h2.6v2.6h-2.6zM904.8 868.4h7.8v2.6h-7.8zM774.8 871h15.6v2.6h-15.6zM852.8 871h13v2.6h-13zM907.4 871h2.6v2.6h-2.6zM730.6 873.6h7.8v2.6h-7.8zM777.4 873.6h2.6v2.6h-2.6zM782.6 873.6h2.6v2.6h-2.6zM858 873.6h7.8v2.6h-7.8zM733.2 876.2h5.2v2.6h-5.2zM858 876.2h2.6v2.6h-2.6zM863.2 876.2h2.6v2.6h-2.6zM858 878.8h2.6v2.6h-2.6zM863.2 878.8h2.6v2.6h-2.6zM782.6 884h5.2v2.6h-5.2zM886.6 886.6h2.6v2.6h-2.6zM733.2 889.2h2.6v2.6h-2.6zM769.6 889.2h2.6v2.6h-2.6zM907.4 889.2h2.6v2.6h-2.6zM772.2 891.8h2.6v2.6h-2.6zM876.2 891.8h2.6v2.6h-2.6zM730.6 894.4h2.6v2.6h-2.6zM769.6 894.4h5.2v2.6h-5.2zM876.2 894.4h2.6v2.6h-2.6zM733.2 897h2.6v2.6h-2.6zM735.8 899.6h2.6v2.6h-2.6zM852.8 925.6h2.6v2.6h-2.6zM863.2 925.6h5.2v2.6h-5.2zM855.4 928.2h2.6v2.6h-2.6zM855.4 930.8h15.6v2.6h-15.6zM855.4 933.4h5.2v2.6h-5.2zM863.2 933.4h7.8v2.6h-7.8zM865.8 936h2.6v2.6h-2.6z"/></g>
</g>
<text x="191.3" y="67.6" font-size="28.2" font-weight="bold" fill="#fff" textLength="71" lengthAdjust="spacingAndGlyphs">(VLF)</text>
<text x="191.3" y="386.3" font-size="28.2" font-weight="bold" fill="#fff" textLength="91" lengthAdjust="spacingAndGlyphs">(RESP)</text>
<text x="190.6" y="706.7" font-size="28.2" font-weight="bold" fill="#fff" textLength="99.6" lengthAdjust="spacingAndGlyphs">(CARD)</text>
<text x="519" y="55.6" font-size="16.3" font-weight="bold" fill="#fff" textLength="106" lengthAdjust="spacingAndGlyphs">POSTERIOR</text>
<text x="534" y="987.8" font-size="16.8" font-weight="bold" fill="#fff" textLength="94" lengthAdjust="spacingAndGlyphs">ANTERIOR</text>
<text x="205.1" y="529" font-size="18.7" font-weight="bold" fill="#fff" textLength="54.5" lengthAdjust="spacingAndGlyphs" transform="rotate(-90 205.1 529)">RIGHT</text>
<text x="951.2" y="537" font-size="18.6" font-weight="bold" fill="#fff" textLength="44" lengthAdjust="spacingAndGlyphs" transform="rotate(-90 951.2 537)">LEFT</text>
<!-- panel B -->
<text x="0" y="1059.3" font-size="44.6" font-weight="bold" fill="#000" textLength="64" lengthAdjust="spacingAndGlyphs">(B)</text>
<path d="M189.2 1054.4V1405.2M176.5 1405.2H963.6" stroke="#000" stroke-width="4.7" fill="none"/>
<path d="M176.5 1114.4H189.2" stroke="#000" stroke-width="4.7"/>
<path d="M176.5 1259.3H189.2" stroke="#000" stroke-width="4.7"/>
<path d="M192.6 1405V1418" stroke="#000" stroke-width="4.7"/>
<text x="192.6" y="1438.5" font-size="22" font-weight="bold" fill="#000" text-anchor="middle">0</text>
<path d="M366.3 1405V1418" stroke="#000" stroke-width="4.7"/>
<text x="366.3" y="1438.5" font-size="22" font-weight="bold" fill="#000" text-anchor="middle">0.5</text>
<path d="M540.0 1405V1418" stroke="#000" stroke-width="4.7"/>
<text x="540.0" y="1438.5" font-size="22" font-weight="bold" fill="#000" text-anchor="middle">1</text>
<path d="M713.8 1405V1418" stroke="#000" stroke-width="4.7"/>
<text x="713.8" y="1438.5" font-size="22" font-weight="bold" fill="#000" text-anchor="middle">1.5</text>
<path d="M887.5 1405V1418" stroke="#000" stroke-width="4.7"/>
<text x="887.5" y="1438.5" font-size="22" font-weight="bold" fill="#000" text-anchor="middle">2</text>
<text x="172.2" y="1122.3" font-size="22" font-weight="bold" fill="#000" text-anchor="end">1000</text>
<text x="172.2" y="1267.2" font-size="22" font-weight="bold" fill="#000" text-anchor="end">500</text>
<text x="172.2" y="1412.8" font-size="22" font-weight="bold" fill="#000" text-anchor="end">0</text>
<text x="106.7" y="1331.3" font-size="26.8" font-weight="bold" fill="#000" transform="rotate(-90 106.7 1331.3)">FFT Power (a.u)</text>
<text x="527" y="1483.2" font-size="26.9" font-weight="bold" fill="#000" textLength="196" lengthAdjust="spacingAndGlyphs">Frequency (Hz)</text>
<text x="224.6" y="1271.5" font-size="21.5" font-weight="bold" fill="#000" transform="rotate(-90 224.6 1271.5)">VLF BAND</text>
<text x="298.8" y="1281" font-size="21.5" font-weight="bold" fill="#000" transform="rotate(-90 298.8 1281)">RESP BAND</text>
<text x="587.9" y="1322.7" font-size="21.5" font-weight="bold" fill="#000" transform="rotate(-90 587.9 1322.7)">CARD BAND</text>
<path d="M855.9 1194.2H887.3" stroke="#0cbc0c" stroke-width="3"/>
<text x="905" y="1201.7" font-size="23" font-weight="normal" fill="#000" textLength="51" lengthAdjust="spacingAndGlyphs">3mm</text>
<path d="M855.9 1231.2H887.3" stroke="#ff0000" stroke-width="3"/>
<text x="905" y="1238.7" font-size="23" font-weight="normal" fill="#000" textLength="51" lengthAdjust="spacingAndGlyphs">4mm</text>
<path d="M855.9 1268.2H887.3" stroke="#0000ff" stroke-width="3"/>
<text x="905" y="1275.7" font-size="23" font-weight="normal" fill="#000" textLength="51" lengthAdjust="spacingAndGlyphs">5mm</text>
<polyline points="193.5,1277.0 195.6,1142.0 198.4,1322.0 201.2,1308.0 204.0,1345.0 207.5,1333.0 210.5,1362.0 213.5,1342.0 216.6,1370.4 218.3,1316.0 220.8,1360.0 222.8,1348.0 225.5,1372.0 229.0,1343.0 231.8,1371.0 234.5,1366.0 236.5,1372.0 239.3,1343.0 242.0,1370.0 244.5,1372.0 246.7,1367.8 248.6,1350.0 251.3,1368.0 253.6,1352.0 256.0,1362.0 258.3,1355.0 261.0,1365.0 263.1,1290.0 265.5,1087.0 268.0,1290.0 270.3,1368.0 272.5,1371.0 275.0,1374.0 277.2,1370.0 279.5,1374.0 282.0,1371.0 284.0,1375.0 286.5,1372.0 289.0,1366.0 291.6,1357.0 294.0,1368.0 296.5,1372.0 299.0,1364.0 301.3,1368.0 303.6,1372.0 306.9,1370.7 309.2,1371.0 312.0,1365.0 313.9,1367.3 316.2,1370.5 318.5,1368.6 320.0,1364.0 323.2,1373.7 325.5,1367.2 327.6,1359.5 330.1,1371.8 332.4,1367.0 334.7,1373.6 337.9,1364.0 339.4,1369.8 341.7,1373.4 344.0,1371.6 346.3,1370.9 348.6,1374.3 351.0,1374.7 353.3,1375.8 355.6,1376.0 357.9,1377.0 360.2,1376.1 362.5,1377.4 364.9,1374.0 367.2,1377.7 369.5,1377.2 371.8,1377.8 374.1,1375.6 376.4,1371.6 378.8,1373.6 381.1,1378.0 383.4,1375.3 385.7,1376.9 388.0,1378.0 390.3,1374.5 392.7,1376.1 395.0,1375.4 397.3,1374.7 399.6,1376.0 401.9,1376.5 404.2,1376.5 406.6,1375.6 408.9,1376.8 411.2,1377.9 413.5,1376.0 415.8,1374.0 418.1,1376.8 420.5,1375.3 422.8,1377.2 425.1,1377.3 427.4,1376.2 429.7,1377.7 432.1,1377.8 434.4,1377.9 436.7,1377.0 439.0,1374.5 441.3,1376.8 443.6,1377.6 446.0,1376.7 448.3,1376.9 450.6,1376.7 452.9,1377.0 455.2,1376.9 457.5,1376.9 459.9,1374.2 462.2,1376.6 464.5,1377.5 466.8,1376.6 469.1,1377.1 471.4,1376.1 473.8,1377.4 476.1,1377.9 478.4,1377.8 480.7,1376.7 483.0,1375.4 485.3,1378.0 487.7,1377.8 490.0,1377.9 492.3,1377.7 494.6,1377.0 496.9,1377.0 499.2,1377.8 501.6,1377.0 503.9,1376.8 506.2,1377.8 508.5,1378.2 510.8,1377.0 513.1,1376.4 515.5,1376.9 517.8,1378.1 520.1,1378.1 522.3,1374.4 524.6,1360.7 526.9,1372.0 529.2,1343.4 531.5,1352.0 533.8,1315.5 536.2,1350.8 538.2,1338.0 540.6,1272.1 542.9,1356.0 545.2,1362.0 547.5,1290.0 549.8,1171.7 552.2,1330.0 554.5,1340.0 556.8,1274.6 559.1,1338.4 561.4,1336.6 563.7,1363.2 566.0,1361.0 568.3,1375.6 570.6,1370.6 573.0,1373.0 575.3,1376.0 578.0,1377.9 580.3,1376.9 582.7,1377.6 585.0,1377.2 587.3,1378.1 589.6,1377.5 591.9,1378.1 594.2,1375.9 596.6,1377.6 598.9,1378.0 601.2,1378.5 603.5,1378.2 605.8,1376.5 608.1,1377.0 610.5,1378.2 612.8,1377.9 615.1,1375.3 617.3,1367.0 619.6,1373.0 622.0,1377.7 624.4,1377.0 626.7,1378.3 629.0,1378.0 631.3,1377.7 633.6,1378.2 635.9,1377.4 638.3,1377.0 640.6,1377.2 642.9,1377.1 645.2,1377.1 647.5,1377.0 649.8,1378.1 652.2,1377.5 654.5,1378.4 656.8,1377.7 659.1,1377.3 661.4,1378.1 663.8,1378.0 666.1,1377.4 668.4,1378.2 670.7,1377.9 673.0,1373.7 675.3,1378.1 677.7,1376.1 680.0,1378.0 682.3,1377.0 684.6,1376.5 686.9,1377.1 689.2,1377.7 691.6,1375.6 693.9,1376.4 696.2,1378.6 698.5,1378.0 700.8,1377.7 703.1,1377.1 705.5,1377.8 707.8,1378.5 710.1,1378.1 712.4,1377.7 714.7,1378.7 717.0,1376.3 719.4,1378.0 721.7,1377.3 724.0,1378.0 726.3,1377.6 728.6,1376.3 730.9,1378.3 733.3,1377.1 735.6,1378.7 737.9,1378.8 740.2,1378.0 742.5,1376.2 744.8,1377.8 747.2,1378.0 749.5,1378.7 751.8,1376.2 754.1,1378.5 756.4,1377.8 758.7,1378.2 761.1,1376.6 763.4,1378.5 765.7,1378.2 768.0,1377.7 770.3,1378.7 772.6,1378.5 775.0,1375.7 777.3,1377.9 779.6,1377.3 781.9,1377.1 784.2,1378.9 786.6,1378.6 788.9,1378.9 791.2,1378.3 793.5,1377.3 795.8,1378.2 798.1,1378.7 800.5,1377.8 802.8,1378.4 805.1,1377.3 807.4,1378.4 809.7,1376.8 812.0,1378.0 814.4,1377.8 816.7,1377.7 819.0,1378.9 821.3,1378.5 823.6,1377.2 825.9,1378.4 828.3,1377.8 830.6,1377.8 832.9,1378.6 835.2,1378.3 837.5,1377.7 839.8,1377.6 842.2,1379.3 844.5,1378.9 846.8,1376.6 849.1,1377.8 851.4,1378.1 853.7,1379.1 856.1,1379.1 858.4,1377.9 860.7,1378.6 863.0,1378.6 865.3,1378.9 867.1,1374.3 869.5,1377.0 871.5,1372.3 874.1,1371.0 876.3,1376.0 879.2,1376.3 881.5,1378.7 883.9,1377.4 886.2,1377.5 888.5,1378.6 889.9,1367.7 892.2,1376.0 894.5,1372.5 896.8,1376.0 900.1,1376.2 902.4,1378.5 903.8,1358.4 906.0,1375.0 908.5,1377.0 911.7,1377.7 913.2,1372.3 915.3,1376.0 917.6,1372.0 919.9,1365.7 922.3,1376.0 925.6,1378.8 927.9,1377.4 929.2,1374.3 932.5,1378.6 934.8,1377.1 937.2,1376.4 938.5,1375.6 941.8,1376.6 944.1,1377.0 946.4,1377.5 948.7,1378.2 951.1,1378.5 953.4,1378.9 955.7,1378.9 958.0,1378.6 960.3,1378.9 962.6,1379.0 963.6,1379.0" fill="none" stroke="#0cbc0c" stroke-width="3" stroke-linejoin="miter" stroke-miterlimit="3"/>
<polyline points="193.5,1358.5 195.6,1346.0 198.0,1367.0 200.3,1355.7 202.6,1371.0 205.0,1370.0 207.3,1372.5 209.6,1362.7 212.0,1375.0 214.3,1328.0 216.6,1351.0 219.0,1365.0 221.3,1381.0 223.5,1364.0 225.8,1376.0 228.0,1379.6 230.4,1350.7 232.8,1378.0 235.0,1374.0 237.4,1369.7 239.8,1376.0 242.0,1378.0 244.4,1371.7 246.2,1360.0 248.6,1376.0 251.0,1374.0 253.5,1378.0 255.8,1376.0 258.2,1362.7 260.5,1376.0 262.8,1374.0 265.1,1337.0 266.5,1372.5 267.6,1217.0 269.8,1281.0 271.0,1372.5 273.6,1315.6 275.8,1372.5 278.5,1366.0 280.5,1371.0 283.0,1299.4 285.6,1369.7 288.0,1371.0 290.5,1373.0 293.0,1375.8 295.3,1373.8 297.7,1377.2 300.0,1372.9 302.3,1376.9 304.6,1376.8 306.9,1372.8 309.2,1374.7 311.6,1377.7 313.9,1376.1 316.2,1374.2 318.5,1371.0 320.8,1376.3 323.2,1378.5 325.5,1376.3 327.8,1378.6 330.1,1377.4 332.4,1376.8 334.7,1375.7 337.1,1376.9 340.5,1362.0 342.2,1355.4 344.6,1359.0 347.0,1376.0 348.6,1376.6 351.0,1379.7 353.3,1378.6 355.6,1376.8 358.0,1370.0 360.2,1379.5 362.5,1379.3 364.8,1362.6 367.0,1374.0 369.5,1379.5 371.8,1378.8 374.1,1378.4 376.4,1376.6 378.8,1378.2 381.1,1379.0 383.4,1378.7 385.7,1379.7 388.0,1379.6 390.3,1380.8 392.7,1380.2 395.0,1379.7 397.3,1380.1 399.6,1381.6 401.9,1381.5 404.2,1379.6 406.6,1381.2 408.9,1380.9 411.2,1376.9 413.5,1381.2 415.8,1380.3 418.1,1380.3 420.5,1378.1 422.8,1381.5 425.1,1381.1 427.4,1380.9 429.7,1378.7 432.1,1381.7 434.4,1380.1 436.7,1380.7 439.0,1380.3 441.3,1381.4 443.6,1381.1 446.0,1380.9 448.3,1379.3 450.6,1380.7 452.9,1381.8 455.2,1381.5 457.5,1381.5 459.9,1380.9 462.2,1381.9 464.5,1381.7 466.8,1380.9 469.1,1382.4 471.4,1381.3 473.8,1382.2 476.1,1381.9 478.4,1382.3 480.7,1382.3 483.0,1382.3 485.3,1382.1 487.7,1382.6 490.0,1381.4 492.3,1382.1 494.6,1381.4 496.9,1382.4 499.2,1381.9 501.6,1381.9 503.9,1382.5 506.2,1381.7 508.5,1381.5 510.8,1382.4 513.1,1381.6 515.5,1382.2 517.8,1382.1 520.1,1380.7 522.4,1382.5 524.7,1383.3 527.0,1381.1 529.4,1382.8 531.7,1383.1 533.8,1376.9 536.2,1373.0 538.4,1368.0 540.7,1352.0 543.0,1314.9 545.3,1354.5 547.6,1371.9 550.6,1224.4 552.3,1300.0 554.6,1343.4 557.0,1338.4 559.2,1352.0 561.5,1365.0 563.8,1379.3 566.2,1360.1 568.5,1372.0 570.8,1379.0 573.4,1382.6 575.7,1382.6 578.0,1382.1 580.3,1382.8 582.7,1381.9 585.0,1382.7 587.3,1382.2 589.6,1381.3 591.9,1381.7 594.2,1383.0 596.6,1382.8 598.9,1383.0 601.2,1383.2 603.5,1381.3 605.8,1382.5 608.1,1382.7 610.5,1382.7 612.8,1383.1 615.1,1383.3 617.4,1383.8 619.7,1382.3 622.0,1377.0 624.2,1380.0 626.7,1382.9 629.0,1383.3 631.3,1383.1 633.6,1381.6 635.9,1383.4 638.3,1382.7 640.6,1383.2 642.9,1383.8 645.2,1382.1 647.5,1383.3 649.8,1382.2 652.2,1382.5 654.5,1382.9 656.8,1383.7 659.1,1383.3 661.4,1382.0 663.8,1383.1 666.1,1383.6 668.4,1382.6 670.7,1383.1 673.0,1384.0 675.3,1383.4 677.7,1383.0 680.0,1383.6 682.3,1382.6 684.6,1383.7 686.9,1383.2 689.2,1382.2 691.6,1382.9 693.9,1383.0 696.2,1383.5 698.5,1382.7 700.8,1382.3 703.1,1383.9 705.5,1382.7 707.8,1383.6 710.1,1383.7 712.4,1382.9 714.7,1383.6 717.0,1383.5 719.4,1383.9 721.7,1382.5 724.0,1384.2 726.3,1382.9 728.6,1383.6 730.9,1383.1 733.3,1383.6 735.6,1383.9 737.9,1383.5 740.2,1382.7 742.5,1383.3 744.8,1383.0 747.2,1383.2 749.5,1383.7 751.8,1384.2 754.1,1383.7 756.4,1384.0 758.7,1383.7 761.1,1384.1 763.4,1383.8 765.7,1383.3 768.0,1384.1 770.3,1383.2 772.6,1383.7 775.0,1383.2 777.3,1384.3 779.6,1382.4 781.9,1383.2 784.2,1383.8 786.6,1383.1 788.9,1383.6 791.2,1381.0 793.5,1383.9 795.8,1383.8 798.1,1384.3 800.5,1383.4 802.8,1383.8 805.1,1383.6 807.4,1383.6 809.7,1382.8 812.0,1383.8 814.4,1381.8 816.7,1383.7 819.0,1383.8 821.3,1383.6 823.6,1383.5 825.9,1383.7 828.3,1383.2 830.6,1384.1 832.9,1384.6 835.2,1382.6 837.5,1384.0 839.8,1384.0 842.2,1383.2 844.5,1383.6 846.8,1384.3 849.1,1383.5 851.4,1384.3 853.7,1384.6 856.1,1384.2 858.4,1383.6 860.7,1384.2 863.0,1384.5 865.3,1383.7 867.6,1383.2 870.0,1384.8 872.3,1383.0 875.7,1382.2 879.2,1384.2 881.5,1383.2 883.9,1383.1 886.2,1384.0 887.5,1381.5 890.8,1383.6 892.2,1382.0 894.5,1377.6 896.8,1372.0 899.0,1363.7 901.5,1382.9 903.8,1378.0 906.0,1375.0 908.4,1380.0 910.6,1378.3 913.0,1381.0 916.3,1383.0 918.6,1384.7 920.9,1383.6 923.3,1383.8 926.8,1379.6 929.0,1383.5 931.5,1381.0 934.0,1380.9 936.3,1383.5 939.5,1383.7 941.8,1384.0 944.1,1384.1 946.4,1384.2 948.7,1384.2 951.1,1383.6 953.4,1383.3 955.7,1384.7 958.0,1384.1 960.3,1384.1 962.6,1384.3 963.6,1384.3" fill="none" stroke="#ff0000" stroke-width="3" stroke-linejoin="miter" stroke-miterlimit="3"/>
<polyline points="193.4,1358.5 195.6,1329.0 198.0,1346.0 200.3,1327.5 202.6,1325.4 205.0,1351.4 207.3,1353.0 209.6,1365.5 212.0,1357.0 214.3,1368.0 216.6,1362.0 219.0,1358.5 221.3,1370.0 223.5,1376.8 225.8,1365.5 228.0,1364.0 230.4,1370.0 232.8,1376.8 235.0,1372.5 237.4,1380.0 239.8,1385.0 242.0,1380.0 244.3,1379.0 246.6,1379.0 248.9,1364.0 251.3,1378.0 253.5,1365.0 255.8,1345.8 258.2,1378.0 260.0,1366.0 261.8,1382.0 263.8,1289.5 266.6,1334.6 268.6,1285.0 270.8,1283.0 273.0,1337.0 275.4,1372.5 277.6,1295.0 279.8,1371.0 281.5,1341.6 283.5,1360.0 285.3,1340.0 287.4,1375.0 290.0,1375.0 292.3,1384.0 294.6,1378.0 297.0,1376.0 299.0,1367.0 301.5,1384.0 304.0,1380.0 306.9,1381.4 309.2,1377.2 311.6,1382.1 313.9,1377.8 316.2,1380.4 318.5,1377.4 320.8,1383.0 323.2,1382.9 325.5,1382.1 327.8,1381.4 330.1,1383.0 332.4,1377.7 334.7,1380.8 337.1,1378.9 339.4,1383.9 341.7,1378.5 344.0,1380.2 347.0,1376.0 349.3,1362.6 351.5,1368.0 353.9,1374.0 356.0,1380.0 357.9,1378.8 360.2,1383.6 362.5,1384.1 364.9,1382.3 367.2,1382.6 369.5,1382.7 371.8,1381.6 374.1,1382.7 376.4,1383.4 378.8,1383.7 381.1,1384.0 383.4,1381.0 385.7,1383.5 388.0,1382.7 390.3,1383.7 392.7,1382.9 395.0,1380.6 397.3,1383.8 399.6,1383.6 401.9,1384.2 404.2,1384.7 406.6,1380.6 408.9,1381.3 411.2,1382.8 413.5,1381.4 415.8,1384.8 418.1,1382.6 420.5,1384.9 422.8,1384.6 425.1,1383.9 427.4,1381.3 429.7,1385.1 432.1,1382.1 434.4,1385.7 436.7,1382.6 439.0,1383.3 441.3,1385.2 443.6,1384.5 446.0,1384.2 448.3,1383.7 450.6,1384.1 452.9,1385.5 455.2,1385.0 457.5,1382.1 459.9,1383.0 462.2,1381.7 464.5,1381.4 466.8,1384.3 469.1,1384.6 471.4,1383.5 473.8,1386.1 476.1,1384.6 478.4,1386.1 480.7,1386.0 483.0,1385.1 485.3,1385.4 487.7,1383.2 490.0,1385.9 492.3,1385.5 494.6,1386.7 496.9,1384.2 499.2,1385.6 501.6,1385.6 503.9,1385.4 506.2,1386.3 508.5,1384.0 510.8,1384.4 512.2,1378.7 515.5,1385.8 517.8,1386.6 520.1,1386.2 522.4,1385.8 524.7,1386.0 527.0,1385.0 529.4,1386.5 531.5,1373.1 533.8,1353.3 535.5,1364.5 537.2,1335.3 538.8,1337.0 540.6,1332.8 543.0,1360.7 544.4,1347.0 546.2,1378.1 549.4,1330.4 551.3,1381.8 552.9,1360.7 554.8,1380.5 556.8,1375.6 558.5,1384.2 560.3,1374.4 562.5,1381.0 564.5,1385.5 566.4,1385.6 568.8,1385.7 571.1,1386.0 573.4,1386.5 575.7,1384.3 578.0,1386.2 580.3,1386.4 582.7,1385.8 585.0,1386.6 587.3,1386.2 589.6,1386.4 591.9,1384.8 594.2,1386.3 596.6,1385.6 598.9,1386.7 601.2,1385.3 603.5,1385.8 605.8,1384.8 608.1,1384.7 610.5,1386.9 612.8,1386.0 615.0,1383.0 617.3,1378.0 619.6,1384.0 622.0,1384.8 624.4,1386.9 626.7,1384.3 629.0,1386.8 631.3,1386.9 633.6,1386.9 635.9,1384.1 638.3,1384.6 640.6,1386.7 642.9,1386.3 645.2,1385.7 647.5,1387.0 649.8,1385.7 652.2,1387.3 654.5,1382.3 656.8,1387.1 659.1,1384.9 661.4,1386.8 663.8,1386.8 666.1,1387.7 668.4,1385.7 670.7,1386.1 673.0,1386.1 675.3,1385.4 677.7,1386.4 680.0,1387.0 682.3,1386.2 684.6,1385.3 686.9,1385.5 689.2,1385.4 691.6,1386.0 693.9,1386.2 696.2,1387.7 698.5,1385.0 700.8,1386.0 703.1,1385.7 705.5,1385.9 707.8,1386.6 710.1,1387.0 712.4,1387.7 714.7,1387.5 717.0,1386.9 719.4,1385.1 721.7,1386.6 724.0,1386.0 726.3,1386.6 728.6,1385.6 730.9,1387.8 733.3,1387.1 735.6,1385.7 737.9,1384.7 740.2,1387.4 742.5,1386.6 744.8,1387.5 747.2,1388.1 749.5,1385.3 751.8,1385.6 754.1,1387.4 756.4,1386.6 758.7,1386.4 761.1,1387.8 763.4,1387.0 765.7,1387.5 768.0,1387.2 770.3,1386.4 772.6,1387.3 775.0,1385.8 777.3,1388.1 779.6,1387.4 781.9,1387.8 784.2,1388.0 786.6,1387.9 788.9,1387.6 791.2,1387.7 793.5,1387.0 795.8,1384.0 798.1,1386.5 800.5,1387.7 802.8,1387.5 805.1,1385.8 807.4,1385.9 809.7,1385.7 812.0,1387.3 814.4,1386.9 816.7,1387.4 819.0,1386.8 821.3,1387.7 823.6,1386.4 825.9,1388.0 828.3,1385.8 830.6,1385.4 832.9,1387.0 835.2,1387.3 837.5,1386.7 839.8,1387.0 842.2,1387.9 844.5,1387.2 846.8,1387.1 849.1,1388.0 851.4,1385.8 853.7,1385.3 856.1,1387.5 858.4,1386.7 860.7,1387.9 863.0,1387.6 865.3,1387.2 868.4,1384.2 870.8,1386.0 873.0,1388.0 875.5,1386.0 878.3,1384.2 880.5,1387.0 882.8,1384.5 886.4,1369.7 888.6,1384.0 890.8,1387.0 893.1,1386.4 895.0,1384.2 897.8,1387.5 900.1,1387.8 902.4,1386.3 904.7,1386.9 907.0,1388.1 909.4,1387.2 911.7,1388.2 914.0,1386.5 916.0,1384.2 918.6,1387.6 920.9,1387.9 923.3,1387.2 926.0,1384.5 927.9,1387.0 930.2,1387.5 932.5,1387.4 934.8,1388.2 937.2,1387.6 939.5,1388.1 941.8,1387.7 944.1,1388.5 946.4,1387.8 948.7,1387.2 951.1,1387.8 953.4,1387.3 955.7,1388.2 958.0,1388.1 960.3,1386.8 962.6,1387.6 963.6,1387.6" fill="none" stroke="#0000ff" stroke-width="3" stroke-linejoin="miter" stroke-miterlimit="3"/>
<!-- panels C and D -->
<text x="0" y="1578.5" font-size="44.6" font-weight="bold" fill="#000" textLength="64" lengthAdjust="spacingAndGlyphs">(C)</text>
<path d="M178.9 1583.6H191.9V1929.0M178.9 1929.0H967" stroke="#000" stroke-width="4.2" fill="none"/>
<path d="M178.9 1698.9H191.9" stroke="#000" stroke-width="4.2"/>
<path d="M178.9 1814.2H191.9" stroke="#000" stroke-width="4.2"/>
<text x="174.9" y="1591.6" font-size="22" font-weight="bold" fill="#000" text-anchor="end">9000</text>
<text x="174.9" y="1706.9" font-size="22" font-weight="bold" fill="#000" text-anchor="end">6000</text>
<text x="174.9" y="1822.2" font-size="22" font-weight="bold" fill="#000" text-anchor="end">3000</text>
<text x="174.9" y="1937.0" font-size="22" font-weight="bold" fill="#000" text-anchor="end">0</text>
<path d="M367.3 1929.0V1942.0" stroke="#000" stroke-width="4.2"/>
<text x="367.3" y="1964.4" font-size="22" font-weight="bold" fill="#000" text-anchor="middle">VLF</text>
<path d="M572.5 1929.0V1942.0" stroke="#000" stroke-width="4.2"/>
<text x="572.5" y="1964.4" font-size="22" font-weight="bold" fill="#000" text-anchor="middle">RESP</text>
<path d="M777.6 1929.0V1942.0" stroke="#000" stroke-width="4.2"/>
<text x="777.6" y="1964.4" font-size="22" font-weight="bold" fill="#000" text-anchor="middle">CARD</text>
<text x="109.8" y="1862.2" font-size="28.2" font-weight="bold" fill="#000" transform="rotate(-90 109.8 1862.2)">FFT Power (a.u)</text>
<path d="M305.5 1773.5H340.7V1828.5H305.5ZM305.5 1822.3H340.7M323.1 1773.5V1734.1M323.1 1828.5V1842.9M313.4 1734.1H332.8M313.4 1842.9H332.8" fill="none" stroke="#0cbc0c" stroke-width="4.0"/>
<path d="M349.4 1825.4H384.6V1853.6H349.4ZM349.4 1830.8H384.6M367.0 1825.4V1821.4M367.0 1853.6V1867.7M357.3 1821.4H376.7M357.3 1867.7H376.7" fill="none" stroke="#ff0000" stroke-width="4.0"/>
<path d="M393.3 1841.2H428.5V1858.6H393.3ZM393.3 1845.9H428.5M410.9 1841.2V1837.9M410.9 1858.6V1871.3M401.2 1837.9H420.6M401.2 1871.3H420.6" fill="none" stroke="#0000ff" stroke-width="4.0"/>
<path d="M510.9 1745.0H546.1V1824.8H510.9ZM510.9 1810.2H546.1M528.5 1745.0V1670.6M528.5 1824.8V1843.0M518.8 1670.6H538.2M518.8 1843.0H538.2" fill="none" stroke="#0cbc0c" stroke-width="4.0"/>
<path d="M554.8 1767.8H590.0V1825.5H554.8ZM554.8 1802.0H590.0M572.4 1767.8V1711.1M572.4 1825.5V1842.5M562.7 1711.1H582.1M562.7 1842.5H582.1" fill="none" stroke="#ff0000" stroke-width="4.0"/>
<path d="M598.9 1760.7H634.1V1827.6H598.9ZM598.9 1805.0H634.1M616.5 1760.7V1677.5M616.5 1827.6V1865.1M606.8 1677.5H626.2M606.8 1865.1H626.2" fill="none" stroke="#0000ff" stroke-width="4.0"/>
<path d="M715.3 1714.4H750.5V1781.0H715.3ZM715.3 1763.3H750.5M732.9 1714.4V1645.1M732.9 1781.0V1801.2M723.2 1645.1H742.6M723.2 1801.2H742.6" fill="none" stroke="#0cbc0c" stroke-width="4.0"/>
<path d="M759.3 1778.0H794.5V1814.9H759.3ZM759.3 1789.3H794.5M776.9 1778.0V1755.0M776.9 1814.9V1832.2M767.2 1755.0H786.6M767.2 1832.2H786.6" fill="none" stroke="#ff0000" stroke-width="4.0"/>
<path d="M803.2 1787.1H838.4V1844.6H803.2ZM803.2 1825.6H838.4M820.8 1787.1V1783.5M820.8 1844.6V1849.6M811.1 1783.5H830.5M811.1 1849.6H830.5" fill="none" stroke="#0000ff" stroke-width="4.0"/>
<path d="M325 1624.2V1636.8M411 1624.2V1636.8M325 1630.2H411" fill="none" stroke="#000" stroke-width="1.5"/>
<path d="M324.7 1677.3V1664.7H410.7V1820.6" fill="none" stroke="#000" stroke-width="1.5"/>
<path d="M324.7 1724.7V1716.4H369V1803.2" fill="none" stroke="#000" stroke-width="1.5"/>
<text x="367.7" y="1625.2" font-size="25" font-weight="bold" text-anchor="middle" stroke="#000" stroke-width="1" stroke-linejoin="round" style="font-family:'DejaVu Sans',sans-serif">*</text>
<text x="367.4" y="1659.9" font-size="25" font-weight="bold" text-anchor="middle" stroke="#000" stroke-width="1" stroke-linejoin="round" style="font-family:'DejaVu Sans',sans-serif">*</text>
<text x="325.5" y="1707" font-size="19.5" font-weight="normal" fill="#000" textLength="40" lengthAdjust="spacingAndGlyphs">0.12</text>
<path d="M733.1 1546.8V1559M821.2 1546.8V1559M733.1 1552.9H821.2" fill="none" stroke="#000" stroke-width="1.5"/>
<path d="M733.1 1598.7V1590.4H821.2V1763.3" fill="none" stroke="#000" stroke-width="1.5"/>
<path d="M733.1 1631.4V1623.1H777.2V1735.5" fill="none" stroke="#000" stroke-width="1.5"/>
<text x="776.0" y="1548.1" font-size="25" font-weight="bold" text-anchor="middle" stroke="#000" stroke-width="1" stroke-linejoin="round" style="font-family:'DejaVu Sans',sans-serif">*</text>
<text x="776.0" y="1585.6" font-size="25" font-weight="bold" text-anchor="middle" stroke="#000" stroke-width="1" stroke-linejoin="round" style="font-family:'DejaVu Sans',sans-serif">*</text>
<text x="735.3" y="1618.7" font-size="19.5" font-weight="normal" fill="#000" textLength="40" lengthAdjust="spacingAndGlyphs">0.13</text>
<path d="M861.4 1660.4H893.2" stroke="#0cbc0c" stroke-width="3"/>
<text x="910.7" y="1668.1000000000001" font-size="23" font-weight="normal" fill="#000" textLength="51" lengthAdjust="spacingAndGlyphs">3mm</text>
<path d="M861.4 1697.5H893.2" stroke="#ff0000" stroke-width="3"/>
<text x="910.7" y="1705.15" font-size="23" font-weight="normal" fill="#000" textLength="51" lengthAdjust="spacingAndGlyphs">4mm</text>
<path d="M861.4 1734.5H893.2" stroke="#0000ff" stroke-width="3"/>
<text x="910.7" y="1742.2" font-size="23" font-weight="normal" fill="#000" textLength="51" lengthAdjust="spacingAndGlyphs">5mm</text>
<text x="0" y="2038.7" font-size="44.6" font-weight="bold" fill="#000" textLength="64" lengthAdjust="spacingAndGlyphs">(D)</text>
<path d="M182.2 2045.3H195.2V2378.8M182.2 2378.8H958" stroke="#000" stroke-width="4.2" fill="none"/>
<path d="M182.2 2156.9H195.2" stroke="#000" stroke-width="4.2"/>
<path d="M182.2 2268.5H195.2" stroke="#000" stroke-width="4.2"/>
<text x="178.2" y="2053.3" font-size="22" font-weight="bold" fill="#000" text-anchor="end">9000</text>
<text x="178.2" y="2164.9" font-size="22" font-weight="bold" fill="#000" text-anchor="end">6000</text>
<text x="178.2" y="2276.5" font-size="22" font-weight="bold" fill="#000" text-anchor="end">3000</text>
<text x="178.2" y="2386.8" font-size="22" font-weight="bold" fill="#000" text-anchor="end">0</text>
<path d="M369.9 2378.8V2391.8" stroke="#000" stroke-width="4.2"/>
<text x="369.9" y="2413.7" font-size="22" font-weight="bold" fill="#000" text-anchor="middle">VLF</text>
<path d="M567.3 2378.8V2391.8" stroke="#000" stroke-width="4.2"/>
<text x="567.3" y="2413.7" font-size="22" font-weight="bold" fill="#000" text-anchor="middle">RESP</text>
<path d="M765.2 2378.8V2391.8" stroke="#000" stroke-width="4.2"/>
<text x="765.2" y="2413.7" font-size="22" font-weight="bold" fill="#000" text-anchor="middle">CARD</text>
<text x="116.6" y="2311.7" font-size="27" font-weight="bold" fill="#000" transform="rotate(-90 116.6 2311.7)">FFT Power (a.u)</text>
<path d="M309.6 2156.9H343.6V2216.4H309.6ZM309.6 2206.4H343.6M326.6 2156.9V2142.0M326.6 2216.4V2236.5M316.9 2142.0H336.3M316.9 2236.5H336.3" fill="none" stroke="#0cbc0c" stroke-width="4.0"/>
<path d="M351.7 2181.3H385.7V2261.0H351.7ZM351.7 2245.0H385.7M368.7 2181.3V2099.3M368.7 2261.0V2274.5M359.0 2099.3H378.4M359.0 2274.5H378.4" fill="none" stroke="#ff0000" stroke-width="4.0"/>
<path d="M394.2 2206.8H428.2V2259.8H394.2ZM394.2 2233.2H428.2M411.2 2206.8V2125.8M411.2 2259.8V2272.2M401.5 2125.8H420.9M401.5 2272.2H420.9" fill="none" stroke="#0000ff" stroke-width="4.0"/>
<path d="M507.1 2230.8H541.1V2260.6H507.1ZM507.1 2247.4H541.1M524.1 2230.8V2208.2M524.1 2260.6V2291.5M514.4 2208.2H533.8M514.4 2291.5H533.8" fill="none" stroke="#0cbc0c" stroke-width="4.0"/>
<path d="M549.5 2227.0H583.5V2261.1H549.5ZM549.5 2253.1H583.5M566.5 2227.0V2206.4M566.5 2261.1V2286.5M556.8 2206.4H576.2M556.8 2286.5H576.2" fill="none" stroke="#ff0000" stroke-width="4.0"/>
<path d="M591.9 2222.1H625.9V2270.5H591.9ZM591.9 2247.9H625.9M608.9 2222.1V2157.4M608.9 2270.5V2278.8M599.2 2157.4H618.6M599.2 2278.8H618.6" fill="none" stroke="#0000ff" stroke-width="4.0"/>
<path d="M704.6 2213.1H738.6V2271.4H704.6ZM704.6 2229.8H738.6M721.6 2213.1V2192.1M721.6 2271.4V2285.8M711.9 2192.1H731.3M711.9 2285.8H731.3" fill="none" stroke="#0cbc0c" stroke-width="4.0"/>
<path d="M747.0 2245.5H781.0V2288.8H747.0ZM747.0 2262.3H781.0M764.0 2245.5V2227.3M764.0 2288.8V2306.1M754.3 2227.3H773.7M754.3 2306.1H773.7" fill="none" stroke="#ff0000" stroke-width="4.0"/>
<path d="M789.3 2278.8H823.3V2305.8H789.3ZM789.3 2286.8H823.3M806.3 2278.8V2252.1M806.3 2305.8V2322.1M796.6 2252.1H816.0M796.6 2322.1H816.0" fill="none" stroke="#0000ff" stroke-width="4.0"/>
<path d="M716.4 2077.7V2089.9M804 2077.7V2089.9M716.4 2083.8H804" fill="none" stroke="#000" stroke-width="1.5"/>
<path d="M720.1 2139.2V2124H805.7V2228.9" fill="none" stroke="#000" stroke-width="1.5"/>
<path d="M721.4 2179.7V2172.2H763.9V2211.4" fill="none" stroke="#000" stroke-width="1.5"/>
<text x="745.6 761.5 777.4" y="2078.3" font-size="25" font-weight="bold" text-anchor="middle" stroke="#000" stroke-width="1" stroke-linejoin="round" style="font-family:'DejaVu Sans',sans-serif">***</text>
<text x="745.2 761.1 777.0" y="2118.4" font-size="25" font-weight="bold" text-anchor="middle" stroke="#000" stroke-width="1" stroke-linejoin="round" style="font-family:'DejaVu Sans',sans-serif">***</text>
<text x="723.3" y="2167.3" font-size="19.5" font-weight="normal" fill="#000" textLength="40" lengthAdjust="spacingAndGlyphs">0.06</text>
<path d="M854.5 2153.6H886" stroke="#0cbc0c" stroke-width="3"/>
<text x="903.7" y="2161.2999999999997" font-size="23" font-weight="normal" fill="#000" textLength="51" lengthAdjust="spacingAndGlyphs">3mm</text>
<path d="M854.5 2190.7H886" stroke="#ff0000" stroke-width="3"/>
<text x="903.7" y="2198.35" font-size="23" font-weight="normal" fill="#000" textLength="51" lengthAdjust="spacingAndGlyphs">4mm</text>
<path d="M854.5 2227.7H886" stroke="#0000ff" stroke-width="3"/>
<text x="903.7" y="2235.3999999999996" font-size="23" font-weight="normal" fill="#000" textLength="51" lengthAdjust="spacingAndGlyphs">5mm</text>
</svg>
</body></html>
